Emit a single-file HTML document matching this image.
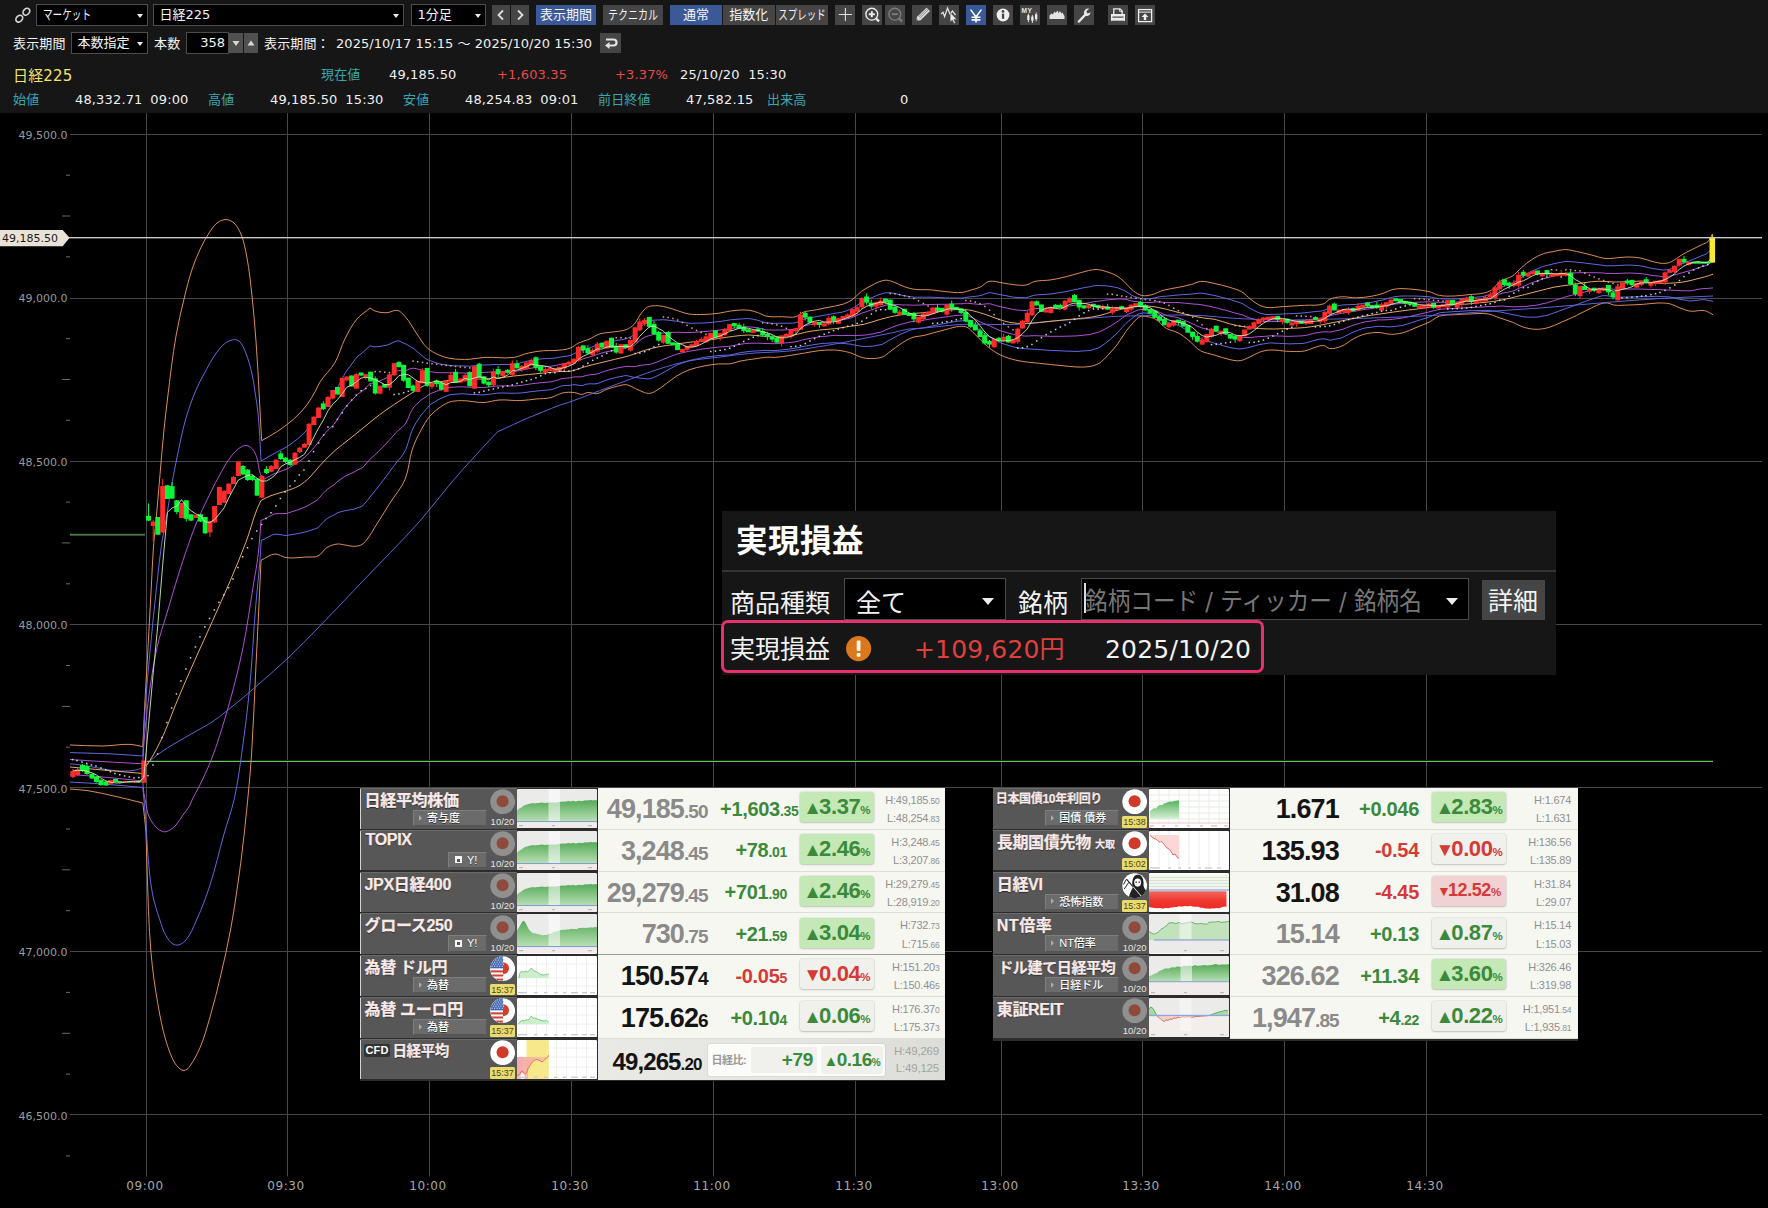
<!DOCTYPE html><html lang="ja"><head><meta charset="utf-8"><title>日経225 チャート</title><style>
*{box-sizing:border-box}
html,body{margin:0;padding:0}
body{width:1768px;height:1208px;background:#000;overflow:hidden;position:relative;font-family:"DejaVu Sans","Noto Sans CJK JP",sans-serif;color:#fff}
.abs{position:absolute}
#hdr{position:absolute;left:0;top:0;width:1768px;height:113px;background:#161616}
#hdr .t{position:absolute;font-size:13px;line-height:16px;white-space:nowrap;color:#f0f0f0;letter-spacing:.15px}
#hdr .t.ws{word-spacing:3.5px}
#hdr .dd{position:absolute;height:22px;background:#000;border:1px solid #4c4c4c;font-size:13px;line-height:20.5px;padding-left:5.5px;color:#f4f4f4;white-space:nowrap}
#hdr .dd.na:after{display:none}
.kx{position:absolute;left:50%;top:0;white-space:nowrap;transform:translateX(-50%) scaleX(var(--s))}
.kl{display:inline-block;white-space:nowrap;transform-origin:left center;transform:scaleX(var(--s))}
#hdr .dd:after{content:"";position:absolute;right:4.5px;top:8.5px;border:3.7px solid transparent;border-top:4.6px solid #ececec;border-bottom:0}
#hdr .b{position:absolute;top:5px;height:20px;background:#454545;font-size:13px;line-height:20.5px;text-align:center;color:#f4f4f4;white-space:nowrap;overflow:hidden}
#hdr .b.on{background:#3b5998}
#hdr .ib{position:absolute;top:5px;width:20px;height:20px;background:#454545}
#hdr .ib.on{background:#3b5998}
.teal{color:#3aa6b0!important}
.red{color:#e84a4a!important}
svg text.yl{font-family:"DejaVu Sans",sans-serif;font-size:11px;fill:#9a9a9a}
svg text.xl{font-family:"DejaVu Sans",sans-serif;font-size:12px;fill:#a8a8a8;letter-spacing:.55px}
svg text.pl{font-family:"DejaVu Sans",sans-serif;font-size:11px;fill:#1a1a1a}
#pl{position:absolute;left:722px;top:511px;width:834px;height:164px;background:#161616}
#pl .ttl{position:absolute;left:14px;top:7.5px;font-size:31.5px;line-height:44px;font-weight:700;color:#fff;font-family:"Liberation Sans","Noto Sans CJK JP",sans-serif;letter-spacing:.5px}
#pl .sep{position:absolute;left:0;top:58.5px;width:834px;height:2px;background:#333}
#pl .lb{position:absolute;font-size:25px;line-height:34px;color:#f2f2f2;white-space:nowrap;font-family:"DejaVu Sans","Noto Sans CJK JP",sans-serif}
#pl .box{position:absolute;background:#000;border:1.5px solid #4a4a4a}
.tbl{position:absolute;width:585px;background:#2c2c2c;font-family:"Liberation Sans","Noto Sans CJK JP",sans-serif}
.row{position:absolute;left:0;width:585px;height:41.8px}
.dk{position:absolute;left:0;top:0;width:157px;height:40.6px;background:#565756;box-shadow:inset 0 1px 0 #6a6b6a,inset 1px 0 0 #d4d4d4}
.nm{position:absolute;left:4.5px;top:2px;font-size:16px;line-height:22px;font-weight:700;color:#f9e9e9;-webkit-text-stroke:.25px #f9e9e9;white-space:nowrap;letter-spacing:-.3px;text-shadow:0 1px 1px rgba(0,0,0,.5)}
.sb{position:absolute;left:53px;top:22.1px;width:74px;height:16.1px;background:#6b6b6b;border:1px solid #7e7e7e;border-bottom-color:#555;border-right-color:#5a5a5a;font-size:11px;line-height:14.5px;font-weight:500;color:#fff;white-space:nowrap;padding-left:13px;text-shadow:0 1px 0 #333}
.sb:before{content:"";position:absolute;left:5px;top:3.8px;border:3px solid transparent;border-left:3.5px solid #aaa;border-right:0}
.sb.y{left:88px;width:38.5px;padding-left:18px;font-size:11px}
.sb.y:before{left:6px;top:3.6px;width:7px;height:7px;border:0;background:#f4f4f4}
.sb.y:after{content:"";position:absolute;left:8.3px;top:5.9px;width:3px;height:3px;background:#555}
.dt{position:absolute;left:129px;top:28.2px;width:27px;font-size:9.5px;line-height:12px;color:#e6e6e6;text-align:center;letter-spacing:0}
.tm{position:absolute;left:129.8px;top:28.4px;width:25.2px;height:11.8px;background:#eadb70;border-radius:1.5px;font-size:9px;line-height:12px;color:#4c4712;text-align:center;letter-spacing:0}
.fl{position:absolute;left:129.7px;top:1.3px;width:25.4px;height:25.4px}
.mc{position:absolute;left:157px;top:1px;width:80px;height:39.3px;background:#fff;border-radius:1.5px;overflow:hidden}
.tbl.r{width:586.2px}.tbl.r .row{width:586.2px}.tbl.r .wp{width:348.2px}.tbl.r .pr{margin-right:2.3px}.tbl.r .ch{margin-right:1.4px}.tbl.r .hl{margin-right:1.7px}
.wp{position:absolute;left:238px;top:0;width:347px;height:41.8px;background:#f7f7f2;border-bottom:1px solid #deded8}
.pr{position:absolute;right:237.3px;top:3px;font-weight:700;font-size:27px;line-height:36px;letter-spacing:-.9px;color:#8a8a8a;white-space:nowrap}
.pr small{font-size:19px}
.pr.k{color:#141414}
.ch{position:absolute;right:158px;top:5.7px;font-weight:700;font-size:20px;line-height:30px;letter-spacing:-.3px;white-space:nowrap}
.ch small{font-size:14px}
.g{color:#3b8a3b}.r{color:#d63a36}
.pc{position:absolute;left:201.7px;top:4.2px;width:74.5px;height:30px;border-radius:3px;background:#c4e8b6;box-shadow:0 0 0 1px rgba(0,0,0,.05),0 1px 2px rgba(0,0,0,.18);font-weight:700;font-size:22px;line-height:29px;text-align:center;white-space:nowrap;letter-spacing:-.4px}
.pc.l{background:#f0f0ec}
.pc.p{background:#f0d2d2;font-size:18px}.pc.p i{font-size:14px}
.pc small{font-size:11.5px;letter-spacing:0}
.pc i{font-style:normal;font-size:19px;position:relative;top:0px;margin-right:-1px;letter-spacing:-2px}
.hl{position:absolute;right:5.5px;font-size:11px;line-height:13px;color:#909090;white-space:nowrap;letter-spacing:-.2px}
.hl small{font-size:8.5px}
.hl.h{top:6px}.hl.lo{top:24.3px}
</style></head><body><svg class="abs" style="left:0;top:0" width="1768" height="1208" viewBox="0 0 1768 1208"><rect x="70" y="134" width="1692" height="1" fill="#46464b"/>
<rect x="70" y="298" width="1692" height="1" fill="#46464b"/>
<rect x="70" y="461" width="1692" height="1" fill="#46464b"/>
<rect x="70" y="624" width="1692" height="1" fill="#46464b"/>
<rect x="70" y="787" width="1692" height="1" fill="#46464b"/>
<rect x="70" y="951" width="1692" height="1" fill="#46464b"/>
<rect x="70" y="1114" width="1692" height="1" fill="#46464b"/>
<rect x="146" y="113" width="1" height="1063.5" fill="#46464b"/>
<rect x="287" y="113" width="1" height="1063.5" fill="#46464b"/>
<rect x="429" y="113" width="1" height="1063.5" fill="#46464b"/>
<rect x="571" y="113" width="1" height="1063.5" fill="#46464b"/>
<rect x="713" y="113" width="1" height="1063.5" fill="#46464b"/>
<rect x="855" y="113" width="1" height="1063.5" fill="#46464b"/>
<rect x="1001" y="113" width="1" height="1063.5" fill="#46464b"/>
<rect x="1142" y="113" width="1" height="1063.5" fill="#46464b"/>
<rect x="1284" y="113" width="1" height="1063.5" fill="#46464b"/>
<rect x="1426" y="113" width="1" height="1063.5" fill="#46464b"/>
<rect x="66" y="174.7" width="4" height="1" fill="#6a6a6a"/>
<rect x="62" y="215.5" width="8" height="1" fill="#6a6a6a"/>
<rect x="66" y="256.4" width="4" height="1" fill="#6a6a6a"/>
<rect x="66" y="338.1" width="4" height="1" fill="#6a6a6a"/>
<rect x="62" y="379.0" width="8" height="1" fill="#6a6a6a"/>
<rect x="66" y="419.8" width="4" height="1" fill="#6a6a6a"/>
<rect x="66" y="501.6" width="4" height="1" fill="#6a6a6a"/>
<rect x="62" y="542.4" width="8" height="1" fill="#6a6a6a"/>
<rect x="66" y="583.3" width="4" height="1" fill="#6a6a6a"/>
<rect x="66" y="665.0" width="4" height="1" fill="#6a6a6a"/>
<rect x="62" y="705.9" width="8" height="1" fill="#6a6a6a"/>
<rect x="66" y="746.7" width="4" height="1" fill="#6a6a6a"/>
<rect x="66" y="828.5" width="4" height="1" fill="#6a6a6a"/>
<rect x="62" y="869.3" width="8" height="1" fill="#6a6a6a"/>
<rect x="66" y="910.2" width="4" height="1" fill="#6a6a6a"/>
<rect x="66" y="991.9" width="4" height="1" fill="#6a6a6a"/>
<rect x="62" y="1032.8" width="8" height="1" fill="#6a6a6a"/>
<rect x="66" y="1073.6" width="4" height="1" fill="#6a6a6a"/>
<rect x="66" y="1155.4" width="4" height="1" fill="#6a6a6a"/>
<text x="67.5" y="138.9" text-anchor="end" class="yl">49,500.0</text>
<text x="67.5" y="302.4" text-anchor="end" class="yl">49,000.0</text>
<text x="67.5" y="465.8" text-anchor="end" class="yl">48,500.0</text>
<text x="67.5" y="629.2" text-anchor="end" class="yl">48,000.0</text>
<text x="67.5" y="792.7" text-anchor="end" class="yl">47,500.0</text>
<text x="67.5" y="956.1" text-anchor="end" class="yl">47,000.0</text>
<text x="67.5" y="1119.6" text-anchor="end" class="yl">46,500.0</text>
<text x="145.0" y="1190" text-anchor="middle" class="xl">09:00</text>
<text x="286.0" y="1190" text-anchor="middle" class="xl">09:30</text>
<text x="428.0" y="1190" text-anchor="middle" class="xl">10:00</text>
<text x="570.0" y="1190" text-anchor="middle" class="xl">10:30</text>
<text x="712.0" y="1190" text-anchor="middle" class="xl">11:00</text>
<text x="854.0" y="1190" text-anchor="middle" class="xl">11:30</text>
<text x="1000.0" y="1190" text-anchor="middle" class="xl">13:00</text>
<text x="1141.0" y="1190" text-anchor="middle" class="xl">13:30</text>
<text x="1283.0" y="1190" text-anchor="middle" class="xl">14:00</text>
<text x="1425.0" y="1190" text-anchor="middle" class="xl">14:30</text>
<rect x="147" y="760" width="1566" height="1" fill="#0b3409"/><rect x="147" y="761" width="1566" height="1" fill="#78bb70"/>
<rect x="70" y="533.4" width="75" height="1" fill="#0b3409"/><rect x="70" y="534.4" width="75" height="1" fill="#78bb70"/>
<path d="M70.0 789.0C76.0 789.6 82.0 789.8 88.0 790.7C96.7 792.0 105.4 794.1 114.0 796.0C118.2 796.9 122.5 798.0 126.7 799.0C132.1 800.3 137.4 801.7 142.8 803.0C143.8 812.0 145.2 821.0 145.8 830.0C146.7 842.6 146.5 855.3 147.0 868.0C148.1 896.2 148.5 924.5 151.0 952.7C152.5 969.7 154.8 986.7 157.8 1003.6C160.0 1016.2 162.3 1028.8 166.0 1041.0C168.3 1048.5 170.7 1056.2 174.8 1063.0C175.9 1064.9 177.3 1066.6 179.0 1068.0C180.2 1069.0 181.5 1070.2 183.0 1070.4C184.4 1070.6 185.8 1070.0 187.0 1069.3C188.3 1068.5 189.1 1067.2 190.0 1066.0C194.0 1060.3 197.2 1054.1 200.0 1047.7C204.3 1037.8 207.0 1027.3 210.0 1017.0C214.0 1003.4 217.3 989.7 220.6 976.0C224.3 960.4 227.8 944.8 230.7 929.0C234.8 906.4 238.0 883.7 241.0 861.0C243.6 840.7 245.7 820.4 247.7 800.0C249.2 785.0 250.5 770.0 251.5 755.0C253.4 726.4 254.4 697.7 255.8 669.0C256.9 647.5 258.0 626.1 259.0 604.6C259.7 589.9 260.3 575.1 261.0 560.4C265.7 558.3 269.9 554.3 275.0 554.0C278.9 553.8 282.2 557.0 286.0 557.6C292.6 558.6 299.3 557.4 306.0 557.0C310.0 556.8 314.3 557.6 318.0 556.0C321.8 554.3 323.5 549.6 327.0 547.5C330.2 545.6 333.9 544.3 337.6 544.0C340.1 543.8 342.5 544.7 345.0 545.0C348.3 545.4 351.6 546.5 355.0 546.3C357.4 546.2 359.9 545.7 362.0 544.5C364.5 543.0 366.2 540.3 368.0 538.0C370.7 534.6 372.7 530.7 375.0 527.0C380.0 519.0 385.0 511.0 390.0 503.0C395.0 495.1 401.4 488.0 405.0 479.5C409.1 469.9 409.0 458.9 412.4 449.0C414.7 442.3 417.9 435.8 421.3 429.6C423.9 424.9 426.5 420.1 430.0 416.0C432.6 412.9 435.7 410.3 439.0 408.0C442.3 405.6 445.7 403.3 449.6 402.0C453.4 400.8 457.5 400.7 461.5 400.6C469.0 400.5 476.5 402.8 484.0 402.5C489.1 402.3 493.9 400.3 499.0 400.0C506.3 399.5 513.7 400.9 521.0 400.6C526.0 400.4 531.0 399.5 536.0 399.0C541.0 398.5 546.1 398.8 551.0 397.6C552.4 397.3 553.7 396.5 555.0 396.0C557.4 395.0 559.7 393.6 562.3 393.0C566.2 392.1 570.3 392.1 574.3 392.5C576.8 392.8 579.2 394.5 581.7 394.4C583.8 394.3 585.6 392.7 587.7 392.5C590.7 392.2 593.6 394.1 596.6 393.7C600.3 393.2 603.4 390.5 607.0 389.2C610.4 388.0 613.9 387.0 617.5 386.2C620.4 385.5 623.4 384.4 626.4 384.7C629.6 385.1 632.4 387.2 635.4 388.5C638.4 389.8 641.2 391.5 644.3 392.5C646.0 393.0 647.8 393.6 649.5 393.4C651.9 393.1 654.1 391.9 656.2 390.7C660.0 388.7 663.2 385.8 666.7 383.3C670.2 380.8 673.4 378.0 677.0 375.8C680.8 373.5 684.8 371.5 689.0 369.9C693.8 368.1 698.9 367.0 704.0 366.0C708.9 365.0 713.8 364.3 718.8 363.9C722.3 363.7 725.8 364.3 729.3 363.9C733.3 363.4 737.1 361.7 741.0 360.9C746.0 359.9 751.0 359.4 756.0 358.7C759.5 358.2 762.9 357.4 766.4 357.2C769.3 357.0 772.1 357.5 775.0 357.4C780.0 357.1 784.9 356.2 789.8 355.5C794.8 354.8 799.7 353.8 804.7 353.0C809.7 352.2 814.6 351.1 819.6 350.6C824.5 350.1 829.5 349.7 834.5 350.0C839.5 350.3 844.5 351.2 849.4 352.5C854.0 353.8 858.1 356.6 862.8 357.7C866.2 358.5 869.8 358.7 873.3 358.5C876.3 358.4 879.4 358.1 882.2 357.0C885.5 355.7 888.1 353.1 891.0 351.0C894.0 348.8 896.9 346.3 900.0 344.3C903.8 341.8 907.7 339.2 912.0 337.6C915.8 336.2 920.0 336.3 924.0 335.4C927.0 334.7 929.9 333.8 932.9 333.0C937.4 331.8 941.8 330.5 946.3 329.4C950.7 328.3 955.1 326.7 959.7 326.4C962.1 326.3 964.8 326.2 967.0 327.2C969.4 328.3 971.1 330.6 973.0 332.4C975.6 334.8 978.0 337.4 980.6 339.8C983.4 342.5 986.0 345.3 989.0 347.7C992.7 350.6 996.7 353.2 1000.9 355.2C1006.0 357.6 1011.5 359.2 1017.0 360.4C1024.4 362.1 1032.1 362.5 1039.6 363.4C1047.1 364.3 1054.5 364.9 1062.0 365.6C1067.0 366.1 1071.9 366.9 1076.9 367.0C1081.3 367.1 1085.7 367.2 1090.0 366.4C1093.1 365.8 1096.3 365.0 1099.0 363.4C1102.5 361.3 1105.2 358.1 1108.0 355.2C1111.2 351.9 1114.2 348.4 1117.0 344.8C1120.3 340.5 1122.8 335.6 1126.0 331.3C1128.3 328.2 1130.8 325.2 1133.5 322.4C1135.5 320.3 1137.3 317.8 1140.0 316.7C1141.7 316.0 1143.6 316.2 1145.4 316.4C1149.0 316.8 1152.7 317.7 1155.9 319.4C1159.9 321.6 1162.4 326.1 1166.3 328.4C1169.9 330.5 1174.3 330.8 1178.0 332.8C1181.8 334.8 1185.2 337.6 1188.6 340.3C1192.7 343.6 1195.9 348.1 1200.5 350.7C1204.9 353.2 1210.2 353.7 1215.0 355.2C1219.9 356.7 1224.8 358.6 1229.8 359.6C1233.2 360.3 1236.7 361.1 1240.2 360.7C1243.3 360.3 1246.1 358.6 1249.0 357.4C1252.6 355.8 1255.9 353.5 1259.6 352.2C1262.9 351.0 1266.5 350.2 1270.0 350.0C1276.5 349.6 1282.9 351.3 1289.4 351.4C1294.4 351.5 1299.4 351.9 1304.3 351.0C1308.4 350.3 1312.2 348.1 1316.2 347.0C1318.7 346.3 1321.2 345.2 1323.7 345.5C1325.9 345.8 1327.4 348.2 1329.6 348.5C1333.6 349.1 1337.7 347.7 1341.5 346.2C1345.9 344.5 1349.3 341.0 1353.5 338.8C1356.8 337.1 1360.3 335.3 1363.9 334.3C1368.7 333.0 1373.8 332.4 1378.8 332.5C1382.8 332.6 1386.7 334.2 1390.7 334.3C1394.7 334.4 1398.8 333.8 1402.7 332.8C1407.3 331.6 1411.6 329.4 1416.0 327.6C1420.4 325.8 1424.8 324.3 1429.0 322.2C1432.6 320.4 1435.6 317.4 1439.4 316.2C1444.2 314.7 1449.3 315.1 1454.3 314.7C1459.2 314.3 1464.1 314.1 1469.0 314.0C1475.5 313.8 1482.1 312.9 1488.5 314.0C1492.2 314.6 1495.5 316.5 1499.0 317.7C1503.5 319.2 1508.0 320.5 1512.4 322.2C1516.4 323.8 1520.1 326.2 1524.3 327.4C1528.1 328.5 1532.0 329.2 1536.0 329.3C1539.6 329.4 1543.2 328.9 1546.7 328.0C1551.9 326.7 1556.7 324.3 1561.6 322.2C1566.6 320.1 1571.5 317.8 1576.4 315.5C1581.4 313.1 1586.3 310.3 1591.3 308.0C1594.8 306.4 1598.1 304.4 1601.8 303.5C1603.7 303.0 1605.7 302.8 1607.7 303.0C1609.8 303.2 1611.6 304.7 1613.7 305.0C1618.6 305.8 1623.6 305.1 1628.6 305.0C1633.6 304.9 1638.5 304.6 1643.5 304.3C1648.3 304.0 1653.1 303.1 1658.0 303.0C1661.8 302.9 1665.8 302.9 1669.5 303.7C1673.5 304.6 1677.1 306.9 1681.0 308.3C1684.1 309.4 1687.1 310.8 1690.4 311.2C1695.0 311.8 1699.8 309.7 1704.3 310.6C1707.4 311.2 1710.1 313.3 1713.0 314.7" fill="none" stroke="#e8935c" stroke-width="0.95"/>
<path d="M70.0 745.0C81.0 745.3 92.0 746.1 103.0 746.0C112.3 745.9 121.7 743.8 131.0 744.4C135.0 744.7 138.9 745.9 142.8 746.6C143.5 731.1 144.2 715.5 145.0 700.0C145.9 682.5 147.0 665.1 148.0 647.6C149.2 626.1 150.3 604.5 151.5 583.0C152.2 570.3 152.6 557.6 153.6 545.0C154.4 534.0 155.8 523.0 156.8 512.0C157.9 499.5 158.9 487.0 160.0 474.5C161.2 460.3 162.4 446.2 163.8 432.0C164.9 420.7 166.2 409.3 167.6 398.0C170.2 377.3 172.4 356.5 176.0 336.0C178.2 323.6 181.0 311.3 184.0 299.0C186.5 288.6 189.0 278.1 192.5 268.0C194.8 261.2 197.6 254.5 200.7 248.0C203.2 242.8 205.8 237.7 209.0 233.0C211.4 229.5 213.7 225.7 217.0 223.0C218.5 221.8 220.2 220.9 222.0 220.3C223.3 219.8 224.6 219.5 226.0 219.5C227.4 219.5 228.7 220.0 230.0 220.5C231.4 221.1 232.9 221.9 234.0 223.0C236.8 225.8 238.9 229.4 240.5 233.0C244.0 240.9 245.4 249.5 247.0 258.0C249.4 270.5 250.6 283.3 252.0 296.0C253.6 311.0 254.9 326.0 256.0 341.0C257.5 360.6 258.4 380.3 259.5 400.0C259.9 406.7 260.1 413.3 260.5 420.0C260.9 426.9 261.3 433.8 261.7 440.7C266.6 437.8 271.7 435.1 276.5 432.0C280.3 429.5 284.1 426.9 287.7 424.0C291.6 420.9 295.5 417.6 299.0 414.0C302.1 410.9 304.9 407.5 307.5 404.0C310.7 399.6 313.4 394.8 316.0 390.0C317.4 387.4 318.4 384.5 320.0 382.0C324.3 375.1 330.9 369.7 335.0 362.6C339.3 355.1 341.1 346.4 345.0 338.7C348.5 331.9 352.0 324.8 357.0 319.0C360.7 314.7 365.7 311.7 370.0 308.0C371.7 309.0 373.2 310.4 375.0 311.0C378.8 312.3 383.0 312.9 387.0 312.7C390.6 312.6 394.0 309.6 397.5 310.4C400.6 311.1 402.8 314.1 405.0 316.4C409.8 321.6 412.9 328.2 417.0 334.0C420.3 338.6 422.8 343.9 427.0 347.7C430.4 350.9 434.7 353.1 439.0 355.0C442.8 356.7 446.9 357.8 451.0 358.5C456.9 359.5 463.0 359.5 469.0 359.3C474.0 359.1 479.0 357.7 484.0 357.4C493.9 356.8 503.9 358.8 513.7 357.4C518.8 356.7 523.5 354.1 528.6 353.0C533.5 351.9 538.5 351.1 543.5 350.7C547.3 350.4 551.2 350.8 555.0 350.5C560.0 350.1 565.2 349.9 570.0 348.2C573.2 347.1 575.6 344.4 578.7 343.0C582.0 341.4 585.6 340.7 589.0 339.3C592.6 337.7 595.8 335.2 599.6 334.0C604.4 332.5 609.5 332.6 614.5 331.8C618.5 331.1 622.7 331.1 626.4 329.6C629.2 328.4 631.9 326.6 634.0 324.4C637.1 321.2 638.5 316.7 641.3 313.2C643.1 311.0 644.8 308.6 647.3 307.2C649.1 306.2 651.2 306.0 653.2 305.8C656.7 305.5 660.2 305.9 663.7 306.5C667.2 307.1 670.6 308.5 674.0 309.5C679.0 311.0 683.8 313.2 689.0 314.0C693.9 314.8 699.0 314.5 704.0 314.4C708.9 314.3 713.9 313.9 718.8 313.2C722.8 312.7 726.7 311.5 730.7 311.0C736.6 310.3 742.7 309.6 748.6 310.2C751.6 310.5 754.6 311.5 757.5 312.5C760.5 313.5 763.3 315.5 766.4 316.2C771.6 317.3 777.1 316.6 782.4 316.7C786.9 316.8 791.5 317.9 795.8 316.7C798.6 315.9 800.5 313.3 803.2 312.3C807.5 310.7 812.1 310.6 816.6 309.7C821.1 308.8 825.5 307.9 830.0 307.0C834.5 306.0 839.2 305.5 843.5 304.0C846.6 302.9 849.7 301.5 852.4 299.6C855.7 297.3 858.1 293.8 861.3 291.4C864.1 289.3 867.3 287.8 870.3 286.2C873.2 284.6 876.1 282.8 879.2 281.7C881.6 280.9 884.2 280.1 886.7 280.2C889.2 280.3 891.6 281.4 894.0 282.2C897.1 283.3 899.9 285.1 903.0 286.2C906.4 287.4 909.9 288.6 913.5 289.2C919.4 290.1 925.4 289.4 931.4 289.9C936.4 290.3 941.3 291.3 946.3 291.7C951.3 292.1 956.2 293.0 961.2 292.5C964.8 292.2 968.2 290.9 971.6 289.9C974.6 289.0 977.8 288.3 980.6 286.9C983.6 285.4 985.7 282.2 989.0 281.4C993.4 280.4 997.9 282.3 1002.4 282.9C1006.4 283.4 1010.3 284.4 1014.3 284.8C1018.2 285.1 1022.2 285.7 1026.0 285.0C1029.2 284.4 1031.9 282.2 1035.0 281.4C1039.9 280.2 1045.0 280.7 1050.0 280.0C1055.0 279.3 1060.0 278.2 1065.0 277.0C1070.5 275.7 1075.8 273.8 1081.3 272.5C1086.2 271.3 1091.0 269.5 1096.0 269.5C1099.6 269.5 1103.2 270.6 1106.7 271.7C1110.3 272.8 1113.8 274.1 1117.0 276.0C1119.8 277.6 1122.1 279.9 1124.5 282.0C1127.7 284.8 1130.1 288.5 1133.5 291.0C1136.2 293.0 1139.1 295.0 1142.4 295.6C1145.3 296.2 1148.4 295.5 1151.3 294.8C1155.5 293.9 1159.2 291.5 1163.3 290.3C1168.1 288.9 1173.1 288.4 1178.0 287.4C1182.5 286.5 1187.1 285.6 1191.6 284.4C1194.6 283.6 1197.4 281.7 1200.5 281.4C1205.4 281.0 1210.2 282.6 1215.0 283.6C1220.0 284.6 1224.9 285.9 1229.8 287.4C1233.8 288.7 1238.0 289.7 1241.7 291.8C1245.1 293.8 1247.6 297.0 1250.7 299.3C1253.6 301.4 1256.4 303.8 1259.6 305.3C1261.9 306.4 1264.4 307.2 1267.0 307.5C1272.0 308.1 1277.0 307.0 1282.0 306.7C1289.4 306.3 1296.9 305.8 1304.3 305.3C1310.8 304.8 1317.6 306.1 1323.7 303.8C1326.0 302.9 1327.4 300.3 1329.6 299.3C1333.3 297.6 1337.5 297.1 1341.5 296.8C1346.5 296.5 1351.4 297.9 1356.4 297.8C1361.4 297.7 1366.4 297.2 1371.3 296.3C1375.3 295.6 1379.3 294.6 1383.2 293.3C1386.3 292.3 1389.1 290.4 1392.2 289.6C1395.1 288.9 1398.0 288.7 1401.0 288.6C1406.0 288.5 1411.0 289.1 1416.0 289.6C1420.4 290.1 1424.8 290.5 1429.0 291.6C1432.6 292.5 1435.8 294.7 1439.4 295.4C1444.3 296.4 1449.3 296.1 1454.3 296.0C1459.2 295.9 1464.1 295.1 1469.0 294.6C1474.0 294.1 1479.1 294.2 1484.0 293.0C1486.6 292.4 1489.2 291.5 1491.5 290.0C1495.0 287.7 1497.0 283.5 1500.5 281.2C1504.1 278.8 1508.8 278.4 1512.4 276.0C1515.8 273.8 1518.2 270.4 1521.3 267.8C1524.7 264.9 1528.0 262.0 1531.7 259.6C1535.5 257.2 1539.5 255.1 1543.7 253.6C1547.0 252.4 1550.5 252.0 1554.0 251.4C1557.7 250.7 1561.5 249.6 1565.3 249.6C1569.0 249.6 1572.7 250.7 1576.4 251.4C1581.4 252.4 1586.3 253.8 1591.3 255.0C1596.2 256.2 1601.0 258.1 1606.0 258.5C1611.0 258.9 1616.0 257.7 1621.0 257.4C1623.7 257.2 1626.3 257.0 1629.0 257.0C1632.9 257.1 1636.8 257.3 1640.6 258.0C1644.5 258.7 1648.1 260.5 1652.0 261.4C1655.5 262.2 1659.0 263.3 1662.6 263.4C1664.9 263.5 1667.3 263.3 1669.5 262.6C1672.1 261.7 1674.2 259.9 1676.5 258.5C1678.8 257.0 1681.0 255.3 1683.4 253.9C1686.4 252.2 1689.6 250.8 1692.7 249.2C1695.8 247.7 1698.9 246.1 1702.0 244.6C1703.9 243.6 1706.2 243.2 1707.8 241.7C1710.0 239.7 1710.9 236.7 1712.4 234.2" fill="none" stroke="#e8935c" stroke-width="0.95"/>
<path d="M70.0 752.6C84.7 753.1 99.3 753.3 114.0 754.0C123.6 754.5 133.2 755.3 142.8 756.0C143.5 740.7 144.0 725.3 145.0 710.0C146.4 689.2 148.4 668.4 150.4 647.6C152.4 626.1 154.6 604.5 157.0 583.0C158.6 568.7 160.0 554.3 162.2 540.0C163.4 532.3 165.3 524.7 166.6 517.0C168.2 507.6 169.4 498.0 171.0 488.6C172.7 479.0 174.5 469.5 176.5 460.0C179.4 446.0 182.0 431.8 186.0 418.0C188.8 408.5 192.1 399.1 196.0 390.0C198.3 384.5 201.1 379.2 204.0 374.0C208.1 366.5 211.9 358.8 217.0 352.0C219.5 348.7 222.1 345.3 225.5 343.0C228.2 341.2 231.4 339.7 234.7 339.6C236.2 339.6 237.8 340.1 239.0 341.0C242.3 343.7 243.7 348.1 245.4 352.0C248.4 359.0 250.3 366.5 252.0 374.0C253.4 379.9 254.1 386.0 255.0 392.0C256.1 399.0 257.3 406.0 258.0 413.0C259.6 428.7 260.0 444.6 261.0 460.4C261.3 460.4 261.7 460.5 262.0 460.4C263.5 460.1 264.7 458.9 266.0 458.2C267.3 457.4 268.7 456.7 270.0 455.9C271.3 455.1 272.6 454.4 274.0 453.6C275.3 452.9 276.7 452.3 278.0 451.6C279.3 450.9 280.7 450.2 282.0 449.4C283.3 448.7 284.7 448.1 286.0 447.3C287.4 446.4 288.7 445.5 290.0 444.6C291.4 443.6 292.7 442.6 294.0 441.6C295.3 440.6 296.7 439.7 298.0 438.6C299.4 437.5 300.7 436.2 302.0 434.9C303.4 433.6 304.7 432.4 306.0 431.0C307.4 429.4 308.7 427.7 310.0 426.0C311.4 424.2 312.7 422.3 314.0 420.5C315.4 418.5 316.7 416.4 318.0 414.3C319.3 412.3 320.6 410.2 322.0 408.2C323.2 406.5 324.6 404.9 326.0 403.3C327.3 401.7 328.7 400.2 330.0 398.6C331.3 397.1 332.8 395.8 334.0 394.1C335.6 391.9 336.7 389.3 338.0 386.9C339.4 384.3 340.6 381.6 342.0 379.0C343.3 376.6 344.5 374.1 346.0 371.7C347.2 369.9 348.7 368.1 350.0 366.4C351.3 364.6 352.6 362.7 354.0 361.0C355.3 359.3 356.5 357.5 358.0 356.0C359.2 354.9 360.7 354.1 362.0 353.1C363.4 351.9 364.7 350.7 366.0 349.5C367.3 348.3 368.7 347.0 370.0 345.8C371.3 346.1 372.6 346.6 374.0 346.8C375.3 346.9 376.7 346.7 378.0 346.6C379.3 346.4 380.7 346.2 382.0 346.0C383.3 345.8 384.7 345.7 386.0 345.4C387.4 345.0 388.7 344.4 390.0 343.9C391.4 343.3 392.6 342.6 394.0 342.1C395.3 341.6 396.6 340.7 398.0 340.7C399.4 340.8 400.7 341.8 402.0 342.4C403.3 342.9 404.7 343.5 406.0 344.1C407.4 344.8 408.7 345.5 410.0 346.3C411.4 347.1 412.7 348.0 414.0 348.9C415.4 350.0 416.7 351.2 418.0 352.3C419.3 353.4 420.7 354.4 422.0 355.5C423.4 356.6 424.5 358.0 426.0 359.0C427.2 359.7 428.7 360.1 430.0 360.6C431.3 361.1 432.7 361.6 434.0 362.0C435.3 362.5 436.6 363.1 438.0 363.5C439.3 363.8 440.7 364.0 442.0 364.3C443.3 364.5 444.7 364.7 446.0 364.9C447.3 365.1 448.7 365.3 450.0 365.5C451.3 365.6 452.7 365.7 454.0 365.8C455.3 365.8 456.7 365.8 458.0 365.8C459.3 365.9 460.7 365.9 462.0 365.9C463.3 366.0 464.7 366.1 466.0 366.1C467.3 366.2 468.7 366.2 470.0 366.2C471.3 366.1 472.7 366.0 474.0 365.8C475.3 365.7 476.7 365.6 478.0 365.5C479.3 365.3 480.7 365.2 482.0 365.1C483.3 365.0 484.7 364.9 486.0 364.9C487.3 364.8 488.7 364.8 490.0 364.8C491.3 364.7 492.7 364.7 494.0 364.6C495.3 364.6 496.7 364.5 498.0 364.5C499.3 364.5 500.7 364.5 502.0 364.5C503.3 364.5 504.7 364.5 506.0 364.5C507.3 364.5 508.7 364.6 510.0 364.6C511.3 364.5 512.7 364.7 514.0 364.5C515.4 364.3 516.7 363.9 518.0 363.5C519.3 363.2 520.7 362.9 522.0 362.5C523.3 362.2 524.7 361.8 526.0 361.5C527.3 361.2 528.7 360.8 530.0 360.6C531.3 360.3 532.7 360.2 534.0 360.0C535.3 359.8 536.7 359.6 538.0 359.4C539.3 359.2 540.7 359.0 542.0 358.8C543.3 358.7 544.7 358.6 546.0 358.6C547.3 358.5 548.7 358.5 550.0 358.4C551.3 358.4 552.7 358.3 554.0 358.2C555.3 358.0 556.7 357.7 558.0 357.5C559.3 357.3 560.7 356.9 562.0 356.7C563.3 356.5 564.7 356.3 566.0 356.2C567.3 356.0 568.7 356.0 570.0 355.6C571.4 355.2 572.7 354.2 574.0 353.6C575.3 353.0 576.6 352.3 578.0 351.8C579.3 351.3 580.7 351.0 582.0 350.6C583.3 350.1 584.7 349.6 586.0 349.2C587.3 348.7 588.7 348.3 590.0 347.8C591.3 347.3 592.7 346.8 594.0 346.2C595.3 345.7 596.6 345.0 598.0 344.5C599.3 344.0 600.6 343.6 602.0 343.3C603.3 342.9 604.7 342.7 606.0 342.5C607.3 342.2 608.7 342.0 610.0 341.8C611.3 341.5 612.7 341.3 614.0 341.1C615.3 340.9 616.7 340.6 618.0 340.3C619.3 340.1 620.7 339.8 622.0 339.6C623.3 339.3 624.7 339.3 626.0 338.9C627.4 338.4 628.7 337.6 630.0 337.0C631.3 336.3 632.8 335.9 634.0 335.0C635.6 333.7 636.6 331.7 638.0 330.2C639.3 328.6 640.5 327.0 642.0 325.7C643.2 324.5 644.5 323.4 646.0 322.5C647.2 321.8 648.6 321.4 650.0 321.0C651.3 320.6 652.6 320.3 654.0 320.1C655.3 320.0 656.7 320.1 658.0 320.0C659.3 319.9 660.7 319.8 662.0 319.8C663.3 319.7 664.7 319.8 666.0 319.9C667.3 320.1 668.7 320.3 670.0 320.4C671.3 320.6 672.7 320.7 674.0 320.9C675.3 321.1 676.7 321.3 678.0 321.5C679.3 321.7 680.7 321.9 682.0 322.1C683.3 322.4 684.7 322.6 686.0 322.8C687.3 323.0 688.7 323.2 690.0 323.3C691.3 323.4 692.7 323.2 694.0 323.2C695.3 323.2 696.7 323.2 698.0 323.1C699.3 323.1 700.7 323.1 702.0 323.0C703.3 323.0 704.7 322.9 706.0 322.8C707.3 322.7 708.7 322.6 710.0 322.5C711.3 322.3 712.7 322.2 714.0 322.1C715.3 322.0 716.7 321.9 718.0 321.7C719.3 321.6 720.7 321.4 722.0 321.2C723.3 321.0 724.7 320.8 726.0 320.5C727.3 320.3 728.7 320.1 730.0 319.9C731.3 319.7 732.7 319.6 734.0 319.5C735.3 319.4 736.7 319.3 738.0 319.2C739.3 319.1 740.7 319.0 742.0 318.9C743.3 318.8 744.7 318.6 746.0 318.6C747.3 318.6 748.7 318.6 750.0 318.7C751.3 318.9 752.7 319.2 754.0 319.5C755.3 319.8 756.7 320.0 758.0 320.3C759.4 320.7 760.7 321.2 762.0 321.6C763.3 322.0 764.6 322.6 766.0 322.9C767.3 323.2 768.7 323.1 770.0 323.1C771.3 323.2 772.7 323.2 774.0 323.3C775.3 323.3 776.7 323.3 778.0 323.3C779.3 323.3 780.7 323.3 782.0 323.3C783.3 323.3 784.7 323.3 786.0 323.2C787.3 323.2 788.7 323.2 790.0 323.2C791.3 323.1 792.7 323.3 794.0 323.0C795.4 322.8 796.7 322.4 798.0 321.8C799.4 321.3 800.6 320.3 802.0 319.8C803.3 319.2 804.6 318.9 806.0 318.6C807.3 318.3 808.7 318.1 810.0 317.8C811.3 317.6 812.7 317.3 814.0 317.1C815.3 316.8 816.7 316.6 818.0 316.3C819.3 316.1 820.7 315.8 822.0 315.6C823.3 315.4 824.7 315.1 826.0 314.9C827.3 314.7 828.7 314.4 830.0 314.2C831.3 314.0 832.7 313.7 834.0 313.4C835.3 313.2 836.7 313.0 838.0 312.8C839.3 312.6 840.7 312.5 842.0 312.2C843.4 311.8 844.7 311.4 846.0 311.0C847.4 310.5 848.7 310.0 850.0 309.4C851.4 308.9 852.7 308.2 854.0 307.5C855.4 306.7 856.7 305.6 858.0 304.7C859.3 303.8 860.6 302.8 862.0 302.1C863.3 301.4 864.7 300.8 866.0 300.2C867.3 299.6 868.7 299.0 870.0 298.4C871.3 297.8 872.7 297.2 874.0 296.7C875.3 296.1 876.6 295.4 878.0 294.9C879.3 294.4 880.7 294.2 882.0 293.8C883.3 293.4 884.6 292.8 886.0 292.7C887.3 292.5 888.7 292.8 890.0 292.9C891.3 293.0 892.7 293.1 894.0 293.3C895.4 293.5 896.7 293.9 898.0 294.3C899.3 294.6 900.7 295.0 902.0 295.3C903.3 295.6 904.7 295.8 906.0 296.0C907.3 296.3 908.7 296.4 910.0 296.6C911.3 296.8 912.7 297.1 914.0 297.2C915.3 297.3 916.7 297.2 918.0 297.2C919.3 297.2 920.7 297.2 922.0 297.2C923.3 297.2 924.7 297.2 926.0 297.2C927.3 297.2 928.7 297.2 930.0 297.2C931.3 297.2 932.7 297.2 934.0 297.3C935.3 297.4 936.7 297.4 938.0 297.5C939.3 297.6 940.7 297.7 942.0 297.7C943.3 297.8 944.7 297.9 946.0 298.0C947.3 298.0 948.7 298.0 950.0 298.0C951.3 298.0 952.7 298.0 954.0 298.0C955.3 298.1 956.7 298.1 958.0 298.1C959.3 298.1 960.7 298.2 962.0 298.0C963.4 297.9 964.7 297.5 966.0 297.3C967.3 297.1 968.7 297.0 970.0 296.9C971.3 296.8 972.7 296.6 974.0 296.5C975.3 296.3 976.7 296.2 978.0 296.0C979.3 295.8 980.7 295.6 982.0 295.2C983.4 294.8 984.6 294.0 986.0 293.6C987.3 293.2 988.6 292.7 990.0 292.6C991.4 292.6 992.7 293.2 994.0 293.4C995.3 293.7 996.7 294.0 998.0 294.2C999.3 294.5 1000.7 294.7 1002.0 295.0C1003.3 295.2 1004.7 295.5 1006.0 295.7C1007.3 296.0 1008.7 296.2 1010.0 296.5C1011.3 296.7 1012.7 297.0 1014.0 297.2C1015.3 297.4 1016.7 297.4 1018.0 297.5C1019.3 297.5 1020.7 297.6 1022.0 297.6C1023.3 297.7 1024.7 297.9 1026.0 297.8C1027.4 297.6 1028.7 296.9 1030.0 296.5C1031.3 296.1 1032.6 295.6 1034.0 295.3C1035.3 295.0 1036.7 294.9 1038.0 294.8C1039.3 294.7 1040.7 294.6 1042.0 294.6C1043.3 294.5 1044.7 294.4 1046.0 294.3C1047.3 294.2 1048.7 294.2 1050.0 294.1C1051.3 293.9 1052.7 293.7 1054.0 293.5C1055.3 293.3 1056.7 293.1 1058.0 292.9C1059.3 292.7 1060.7 292.5 1062.0 292.3C1063.3 292.1 1064.7 291.9 1066.0 291.6C1067.3 291.3 1068.7 291.0 1070.0 290.7C1071.3 290.5 1072.7 290.2 1074.0 289.9C1075.3 289.6 1076.7 289.3 1078.0 289.0C1079.3 288.7 1080.7 288.4 1082.0 288.1C1083.3 287.8 1084.7 287.6 1086.0 287.4C1087.3 287.1 1088.7 286.9 1090.0 286.7C1091.3 286.4 1092.6 286.0 1094.0 285.8C1095.3 285.6 1096.7 285.6 1098.0 285.5C1099.3 285.5 1100.7 285.7 1102.0 285.7C1103.3 285.8 1104.7 285.7 1106.0 285.8C1107.3 285.9 1108.7 286.2 1110.0 286.4C1111.3 286.6 1112.7 286.8 1114.0 287.0C1115.3 287.3 1116.7 287.5 1118.0 287.9C1119.4 288.3 1120.7 289.0 1122.0 289.5C1123.3 290.2 1124.7 290.7 1126.0 291.5C1127.4 292.2 1128.7 293.2 1130.0 294.0C1131.3 294.8 1132.6 295.8 1134.0 296.4C1135.3 296.9 1136.7 297.1 1138.0 297.5C1139.3 297.9 1140.6 298.7 1142.0 298.9C1143.3 299.1 1144.7 298.9 1146.0 298.8C1147.3 298.8 1148.7 298.9 1150.0 298.7C1151.3 298.6 1152.7 298.2 1154.0 298.0C1155.3 297.7 1156.7 297.4 1158.0 297.1C1159.3 296.9 1160.7 296.6 1162.0 296.4C1163.3 296.3 1164.7 296.3 1166.0 296.2C1167.3 296.1 1168.7 295.9 1170.0 295.8C1171.3 295.6 1172.7 295.5 1174.0 295.4C1175.3 295.2 1176.7 295.1 1178.0 295.0C1179.3 294.9 1180.7 294.8 1182.0 294.7C1183.3 294.6 1184.7 294.5 1186.0 294.4C1187.3 294.4 1188.7 294.3 1190.0 294.2C1191.3 294.1 1192.7 294.0 1194.0 293.8C1195.3 293.7 1196.7 293.4 1198.0 293.3C1199.3 293.2 1200.7 293.1 1202.0 293.2C1203.4 293.3 1204.7 293.7 1206.0 293.9C1207.3 294.2 1208.7 294.4 1210.0 294.6C1211.3 294.9 1212.7 295.1 1214.0 295.4C1215.3 295.6 1216.7 296.0 1218.0 296.3C1219.3 296.7 1220.7 297.0 1222.0 297.4C1223.3 297.7 1224.7 298.1 1226.0 298.4C1227.3 298.8 1228.7 299.1 1230.0 299.5C1231.3 299.9 1232.7 300.4 1234.0 300.8C1235.3 301.2 1236.7 301.7 1238.0 302.1C1239.3 302.5 1240.7 302.8 1242.0 303.4C1243.4 304.0 1244.7 305.1 1246.0 305.9C1247.3 306.7 1248.6 307.6 1250.0 308.4C1251.3 309.1 1252.7 309.8 1254.0 310.4C1255.3 311.1 1256.6 311.8 1258.0 312.3C1259.3 312.9 1260.6 313.3 1262.0 313.6C1263.3 314.0 1264.6 314.3 1266.0 314.5C1267.3 314.6 1268.7 314.5 1270.0 314.4C1271.3 314.4 1272.7 314.4 1274.0 314.3C1275.3 314.3 1276.7 314.2 1278.0 314.2C1279.3 314.1 1280.7 314.1 1282.0 314.1C1283.3 314.0 1284.7 314.0 1286.0 313.9C1287.3 313.8 1288.7 313.8 1290.0 313.7C1291.3 313.7 1292.7 313.6 1294.0 313.5C1295.3 313.4 1296.7 313.4 1298.0 313.3C1299.3 313.2 1300.7 313.1 1302.0 313.0C1303.3 313.0 1304.7 312.8 1306.0 312.7C1307.3 312.6 1308.7 312.4 1310.0 312.2C1311.3 312.1 1312.7 311.9 1314.0 311.7C1315.3 311.6 1316.7 311.4 1318.0 311.3C1319.3 311.2 1320.7 311.2 1322.0 310.9C1323.4 310.6 1324.7 310.0 1326.0 309.5C1327.4 308.9 1328.6 307.9 1330.0 307.4C1331.3 307.0 1332.7 306.9 1334.0 306.6C1335.3 306.3 1336.7 306.0 1338.0 305.8C1339.3 305.5 1340.7 305.2 1342.0 305.0C1343.3 304.9 1344.7 304.9 1346.0 304.8C1347.3 304.8 1348.7 304.7 1350.0 304.6C1351.3 304.6 1352.7 304.5 1354.0 304.5C1355.3 304.4 1356.7 304.3 1358.0 304.2C1359.3 304.0 1360.7 303.7 1362.0 303.6C1363.3 303.4 1364.7 303.2 1366.0 303.0C1367.3 302.9 1368.7 302.8 1370.0 302.6C1371.3 302.4 1372.7 302.1 1374.0 301.9C1375.3 301.6 1376.7 301.2 1378.0 300.9C1379.3 300.7 1380.7 300.5 1382.0 300.2C1383.3 299.8 1384.7 299.5 1386.0 299.1C1387.3 298.7 1388.7 298.2 1390.0 297.8C1391.3 297.4 1392.6 297.1 1394.0 296.8C1395.3 296.6 1396.7 296.5 1398.0 296.3C1399.3 296.2 1400.7 296.1 1402.0 296.0C1403.3 296.0 1404.7 296.0 1406.0 296.0C1407.3 296.0 1408.7 296.0 1410.0 296.0C1411.3 296.0 1412.7 295.9 1414.0 296.0C1415.3 296.0 1416.7 296.0 1418.0 296.1C1419.3 296.1 1420.7 296.2 1422.0 296.3C1423.3 296.4 1424.7 296.4 1426.0 296.5C1427.3 296.6 1428.7 296.7 1430.0 296.9C1431.3 297.1 1432.7 297.5 1434.0 297.7C1435.3 298.0 1436.7 298.4 1438.0 298.6C1439.3 298.8 1440.7 298.8 1442.0 298.9C1443.3 299.0 1444.7 299.0 1446.0 299.0C1447.3 299.0 1448.7 299.0 1450.0 299.0C1451.3 299.1 1452.7 299.2 1454.0 299.1C1455.3 299.1 1456.7 298.9 1458.0 298.8C1459.3 298.7 1460.7 298.6 1462.0 298.4C1463.3 298.3 1464.7 298.2 1466.0 298.1C1467.3 298.0 1468.7 297.9 1470.0 297.7C1471.3 297.6 1472.7 297.5 1474.0 297.4C1475.3 297.3 1476.7 297.2 1478.0 297.0C1479.3 296.9 1480.7 296.9 1482.0 296.7C1483.3 296.5 1484.7 296.2 1486.0 295.8C1487.4 295.5 1488.7 295.1 1490.0 294.6C1491.4 294.0 1492.7 293.1 1494.0 292.3C1495.4 291.4 1496.6 290.2 1498.0 289.3C1499.3 288.4 1500.6 287.5 1502.0 286.9C1503.3 286.3 1504.7 286.1 1506.0 285.7C1507.3 285.3 1508.7 284.9 1510.0 284.4C1511.4 283.9 1512.7 283.3 1514.0 282.6C1515.4 281.8 1516.7 280.7 1518.0 279.8C1519.3 278.9 1520.6 278.0 1522.0 277.1C1523.3 276.3 1524.7 275.5 1526.0 274.7C1527.3 273.9 1528.6 272.9 1530.0 272.2C1531.3 271.4 1532.6 270.8 1534.0 270.2C1535.3 269.6 1536.7 269.1 1538.0 268.6C1539.3 268.0 1540.6 267.3 1542.0 266.8C1543.3 266.3 1544.7 266.0 1546.0 265.6C1547.3 265.3 1548.7 265.0 1550.0 264.7C1551.3 264.3 1552.7 264.0 1554.0 263.7C1555.3 263.4 1556.7 263.2 1558.0 262.9C1559.3 262.6 1560.7 262.3 1562.0 262.1C1563.3 261.9 1564.7 261.5 1566.0 261.5C1567.3 261.4 1568.7 261.6 1570.0 261.7C1571.3 261.8 1572.7 261.8 1574.0 261.9C1575.3 262.0 1576.7 262.1 1578.0 262.3C1579.3 262.4 1580.7 262.6 1582.0 262.7C1583.3 262.9 1584.7 263.1 1586.0 263.2C1587.3 263.4 1588.7 263.5 1590.0 263.7C1591.3 263.8 1592.7 264.0 1594.0 264.2C1595.3 264.3 1596.7 264.5 1598.0 264.7C1599.3 264.9 1600.7 265.0 1602.0 265.2C1603.3 265.4 1604.6 265.8 1606.0 265.9C1607.3 266.0 1608.7 265.8 1610.0 265.8C1611.3 265.8 1612.7 265.8 1614.0 265.8C1615.3 265.7 1616.7 265.6 1618.0 265.5C1619.3 265.4 1620.7 265.4 1622.0 265.3C1623.3 265.2 1624.7 265.2 1626.0 265.1C1627.3 265.1 1628.7 265.0 1630.0 265.1C1631.3 265.1 1632.7 265.2 1634.0 265.3C1635.3 265.4 1636.7 265.4 1638.0 265.6C1639.3 265.7 1640.7 265.8 1642.0 266.1C1643.3 266.3 1644.7 266.7 1646.0 267.0C1647.3 267.3 1648.7 267.7 1650.0 268.0C1651.3 268.2 1652.7 268.5 1654.0 268.7C1655.3 268.9 1656.7 269.1 1658.0 269.3C1659.3 269.5 1660.7 269.9 1662.0 269.9C1663.3 270.0 1664.7 269.9 1666.0 269.8C1667.3 269.6 1668.7 269.6 1670.0 269.2C1671.4 268.9 1672.7 268.1 1674.0 267.6C1675.3 267.0 1676.7 266.4 1678.0 265.8C1679.3 265.1 1680.6 264.4 1682.0 263.8C1683.3 263.2 1684.7 262.7 1686.0 262.1C1687.3 261.6 1688.7 261.2 1690.0 260.6C1691.3 260.1 1692.7 259.5 1694.0 259.0C1695.3 258.4 1696.7 257.9 1698.0 257.3C1699.3 256.7 1700.7 256.2 1702.0 255.6C1703.3 255.1 1704.8 254.8 1706.0 254.1C1707.5 253.2 1708.7 251.8 1710.0 250.6C1711.0 249.7 1712.0 248.6 1713.0 247.6" fill="none" stroke="#686cea" stroke-width="0.95"/>
<path d="M70.0 782.0C81.0 782.7 92.0 783.2 103.0 784.0C116.3 785.0 129.5 786.3 142.8 787.5C143.8 798.3 145.0 809.2 145.8 820.0C146.6 830.3 146.7 840.7 147.6 851.0C148.9 865.7 149.8 880.5 152.7 895.0C154.3 903.1 156.9 911.0 159.5 918.8C161.4 924.5 162.9 930.5 166.0 935.7C167.8 938.8 169.9 942.2 173.0 944.0C174.5 944.9 176.3 945.3 178.0 945.0C180.7 944.6 183.1 942.9 185.0 941.0C190.8 935.0 193.5 926.6 197.0 919.0C202.1 908.0 206.2 896.5 210.0 885.0C215.5 868.2 219.2 851.0 224.0 834.0C227.2 822.6 231.4 811.5 234.0 800.0C238.2 781.6 240.4 762.7 243.0 744.0C245.5 726.2 247.7 708.4 249.4 690.6C252.2 662.0 253.4 633.2 255.8 604.6C257.1 589.7 258.8 574.9 260.0 560.0C260.5 553.3 260.9 546.7 261.3 540.0C261.5 540.0 261.8 540.1 262.0 540.0C263.5 539.8 264.7 538.8 266.0 538.1C267.3 537.5 268.7 536.8 270.0 536.2C271.3 535.6 272.6 534.6 274.0 534.3C275.3 534.0 276.7 534.2 278.0 534.3C279.3 534.4 280.7 534.7 282.0 534.9C283.3 535.1 284.7 535.5 286.0 535.5C287.4 535.5 288.7 535.1 290.0 534.9C291.3 534.7 292.7 534.4 294.0 534.2C295.3 534.0 296.7 533.8 298.0 533.5C299.3 533.3 300.7 533.0 302.0 532.7C303.3 532.4 304.7 532.1 306.0 531.8C307.4 531.4 308.7 531.0 310.0 530.5C311.3 530.1 312.7 529.6 314.0 529.2C315.3 528.7 316.8 528.5 318.0 527.7C319.6 526.6 320.6 524.8 322.0 523.4C323.3 522.1 324.5 520.6 326.0 519.4C327.2 518.4 328.6 517.7 330.0 516.9C331.3 516.2 332.7 515.7 334.0 515.0C335.4 514.2 336.6 513.2 338.0 512.6C339.3 512.1 340.7 511.8 342.0 511.5C343.3 511.1 344.7 510.7 346.0 510.5C347.3 510.2 348.7 510.0 350.0 509.8C351.3 509.6 352.7 509.5 354.0 509.1C355.4 508.8 356.7 508.1 358.0 507.6C359.3 507.1 360.8 507.0 362.0 506.2C363.6 505.2 364.7 503.5 366.0 502.0C367.4 500.4 368.7 498.7 370.0 497.0C371.3 495.4 372.7 493.8 374.0 492.2C375.4 490.5 376.7 488.8 378.0 487.1C379.3 485.3 380.7 483.6 382.0 481.8C383.3 480.1 384.7 478.4 386.0 476.6C387.3 474.8 388.7 473.0 390.0 471.2C391.3 469.4 392.7 467.6 394.0 465.8C395.3 464.0 396.6 462.2 398.0 460.5C399.3 458.9 400.8 457.5 402.0 455.8C403.5 453.7 404.9 451.5 406.0 449.1C407.8 445.1 408.5 440.6 410.0 436.4C411.2 432.9 412.3 429.4 414.0 426.2C415.1 424.0 416.6 422.0 418.0 419.9C419.3 417.9 420.5 415.8 422.0 413.9C423.2 412.4 424.7 411.1 426.0 409.6C427.4 408.1 428.5 406.3 430.0 404.9C431.2 403.9 432.7 403.2 434.0 402.4C435.3 401.5 436.6 400.6 438.0 399.8C439.3 399.1 440.7 398.5 442.0 397.9C443.3 397.3 444.7 396.7 446.0 396.2C447.3 395.7 448.6 395.0 450.0 394.7C451.3 394.4 452.7 394.5 454.0 394.3C455.3 394.2 456.7 394.1 458.0 394.0C459.3 393.9 460.7 393.7 462.0 393.7C463.3 393.7 464.7 393.9 466.0 394.0C467.3 394.1 468.7 394.2 470.0 394.3C471.3 394.4 472.7 394.4 474.0 394.5C475.3 394.6 476.7 394.6 478.0 394.7C479.3 394.8 480.7 394.9 482.0 394.9C483.3 394.9 484.7 394.8 486.0 394.7C487.3 394.6 488.7 394.3 490.0 394.1C491.3 394.0 492.7 393.8 494.0 393.6C495.3 393.4 496.7 393.1 498.0 393.0C499.3 392.9 500.7 393.0 502.0 393.0C503.3 393.0 504.7 393.0 506.0 393.1C507.3 393.1 508.7 393.1 510.0 393.2C511.3 393.2 512.7 393.2 514.0 393.2C515.3 393.2 516.7 393.2 518.0 393.1C519.3 393.1 520.7 393.0 522.0 392.9C523.3 392.8 524.7 392.5 526.0 392.4C527.3 392.2 528.7 392.0 530.0 391.8C531.3 391.7 532.7 391.5 534.0 391.4C535.3 391.2 536.7 391.1 538.0 390.9C539.3 390.8 540.7 390.7 542.0 390.5C543.3 390.4 544.7 390.3 546.0 390.2C547.3 390.1 548.7 390.1 550.0 389.8C551.4 389.6 552.7 389.2 554.0 388.8C555.4 388.3 556.7 387.8 558.0 387.3C559.3 386.8 560.6 386.1 562.0 385.8C563.3 385.6 564.7 385.6 566.0 385.5C567.3 385.4 568.7 385.4 570.0 385.3C571.3 385.1 572.7 384.8 574.0 384.7C575.3 384.7 576.7 385.0 578.0 385.1C579.3 385.2 580.7 385.7 582.0 385.6C583.4 385.4 584.6 384.6 586.0 384.3C587.3 384.0 588.7 383.9 590.0 383.8C591.3 383.8 592.7 384.0 594.0 383.9C595.3 383.9 596.7 383.7 598.0 383.4C599.4 383.0 600.7 382.3 602.0 381.7C603.3 381.2 604.6 380.7 606.0 380.2C607.3 379.8 608.7 379.4 610.0 379.0C611.3 378.7 612.7 378.3 614.0 378.0C615.3 377.6 616.7 377.2 618.0 377.0C619.3 376.7 620.7 376.5 622.0 376.3C623.3 376.0 624.6 375.6 626.0 375.6C627.4 375.6 628.7 376.1 630.0 376.4C631.3 376.7 632.6 377.1 634.0 377.3C635.3 377.6 636.7 377.6 638.0 377.8C639.3 377.9 640.7 378.1 642.0 378.3C643.3 378.5 644.7 378.7 646.0 378.7C647.3 378.8 648.7 379.0 650.0 378.8C651.4 378.5 652.7 377.8 654.0 377.3C655.4 376.8 656.7 376.2 658.0 375.5C659.4 374.9 660.7 374.0 662.0 373.2C663.3 372.5 664.7 371.8 666.0 371.0C667.3 370.3 668.7 369.5 670.0 368.8C671.3 368.1 672.7 367.3 674.0 366.6C675.3 365.9 676.6 365.1 678.0 364.5C679.3 364.0 680.7 363.6 682.0 363.1C683.3 362.6 684.7 362.1 686.0 361.7C687.3 361.2 688.6 360.7 690.0 360.4C691.3 360.0 692.7 359.8 694.0 359.5C695.3 359.2 696.7 359.0 698.0 358.7C699.3 358.4 700.7 358.1 702.0 357.8C703.3 357.6 704.7 357.3 706.0 357.1C707.3 356.9 708.7 356.8 710.0 356.6C711.3 356.4 712.7 356.3 714.0 356.1C715.3 355.9 716.7 355.7 718.0 355.6C719.3 355.4 720.7 355.4 722.0 355.4C723.3 355.3 724.7 355.3 726.0 355.2C727.3 355.2 728.7 355.1 730.0 355.0C731.4 354.8 732.7 354.4 734.0 354.1C735.3 353.8 736.7 353.5 738.0 353.2C739.3 352.9 740.7 352.6 742.0 352.4C743.3 352.2 744.7 352.0 746.0 351.9C747.3 351.7 748.7 351.5 750.0 351.4C751.3 351.3 752.7 351.2 754.0 351.1C755.3 351.0 756.7 350.9 758.0 350.8C759.3 350.7 760.7 350.7 762.0 350.6C763.3 350.5 764.7 350.4 766.0 350.4C767.3 350.4 768.7 350.4 770.0 350.5C771.3 350.5 772.7 350.6 774.0 350.6C775.3 350.5 776.7 350.4 778.0 350.3C779.3 350.2 780.7 350.0 782.0 349.9C783.3 349.7 784.7 349.6 786.0 349.4C787.3 349.3 788.7 349.2 790.0 349.0C791.3 348.8 792.7 348.7 794.0 348.4C795.3 348.2 796.7 348.0 798.0 347.7C799.3 347.4 800.7 347.0 802.0 346.7C803.3 346.4 804.7 346.2 806.0 346.0C807.3 345.7 808.7 345.5 810.0 345.3C811.3 345.1 812.7 344.8 814.0 344.6C815.3 344.4 816.7 344.1 818.0 344.0C819.3 343.8 820.7 343.6 822.0 343.5C823.3 343.4 824.7 343.3 826.0 343.3C827.3 343.2 828.7 343.1 830.0 343.0C831.3 342.9 832.7 342.7 834.0 342.7C835.3 342.7 836.7 342.9 838.0 343.0C839.3 343.1 840.7 343.3 842.0 343.4C843.3 343.6 844.7 343.6 846.0 343.7C847.3 343.8 848.7 343.9 850.0 344.1C851.3 344.3 852.7 344.7 854.0 344.9C855.3 345.2 856.7 345.4 858.0 345.6C859.3 345.8 860.7 346.2 862.0 346.3C863.3 346.5 864.7 346.4 866.0 346.4C867.3 346.4 868.7 346.3 870.0 346.3C871.3 346.2 872.7 346.2 874.0 346.0C875.4 345.9 876.7 345.4 878.0 345.1C879.3 344.9 880.7 344.9 882.0 344.4C883.4 343.8 884.7 342.8 886.0 342.1C887.3 341.3 888.7 340.6 890.0 339.9C891.3 339.2 892.7 338.4 894.0 337.7C895.3 336.9 896.6 336.2 898.0 335.5C899.3 334.8 900.7 334.2 902.0 333.6C903.3 333.0 904.7 332.5 906.0 332.0C907.3 331.4 908.6 330.8 910.0 330.3C911.3 329.9 912.6 329.5 914.0 329.2C915.3 329.0 916.7 328.8 918.0 328.6C919.3 328.5 920.7 328.3 922.0 328.1C923.3 327.8 924.7 327.6 926.0 327.3C927.3 327.1 928.7 326.7 930.0 326.5C931.3 326.2 932.7 325.9 934.0 325.6C935.3 325.3 936.7 325.1 938.0 324.8C939.3 324.5 940.7 324.3 942.0 324.0C943.3 323.7 944.7 323.4 946.0 323.2C947.3 322.9 948.7 322.7 950.0 322.5C951.3 322.2 952.7 322.0 954.0 321.7C955.3 321.5 956.7 321.2 958.0 321.0C959.3 320.9 960.7 320.9 962.0 320.9C963.3 320.9 964.7 320.8 966.0 321.1C967.5 321.5 968.7 322.4 970.0 323.2C971.4 324.1 972.7 325.0 974.0 326.0C975.4 327.0 976.7 328.0 978.0 329.0C979.3 330.0 980.6 331.0 982.0 331.9C983.3 332.9 984.7 333.7 986.0 334.6C987.3 335.5 988.6 336.4 990.0 337.2C991.3 338.0 992.7 338.6 994.0 339.4C995.3 340.1 996.6 340.9 998.0 341.5C999.3 342.2 1000.6 342.9 1002.0 343.4C1003.3 343.9 1004.7 344.2 1006.0 344.6C1007.3 345.0 1008.7 345.4 1010.0 345.8C1011.3 346.2 1012.7 346.6 1014.0 347.0C1015.3 347.3 1016.7 347.7 1018.0 347.9C1019.3 348.2 1020.7 348.2 1022.0 348.4C1023.3 348.5 1024.7 348.7 1026.0 348.8C1027.3 348.9 1028.7 348.9 1030.0 349.0C1031.3 349.1 1032.7 349.1 1034.0 349.2C1035.3 349.3 1036.7 349.4 1038.0 349.5C1039.3 349.6 1040.7 349.7 1042.0 349.8C1043.3 349.9 1044.7 350.0 1046.0 350.1C1047.3 350.2 1048.7 350.3 1050.0 350.4C1051.3 350.4 1052.7 350.5 1054.0 350.5C1055.3 350.6 1056.7 350.7 1058.0 350.7C1059.3 350.8 1060.7 350.9 1062.0 350.9C1063.3 351.0 1064.7 351.1 1066.0 351.1C1067.3 351.1 1068.7 351.2 1070.0 351.2C1071.3 351.3 1072.7 351.3 1074.0 351.4C1075.3 351.4 1076.7 351.4 1078.0 351.4C1079.3 351.3 1080.7 351.1 1082.0 351.0C1083.3 350.9 1084.7 350.8 1086.0 350.7C1087.3 350.6 1088.7 350.7 1090.0 350.5C1091.4 350.2 1092.7 349.6 1094.0 349.2C1095.3 348.8 1096.7 348.6 1098.0 348.1C1099.4 347.5 1100.7 346.5 1102.0 345.7C1103.4 344.8 1104.7 343.8 1106.0 342.8C1107.4 341.7 1108.7 340.7 1110.0 339.6C1111.4 338.4 1112.7 337.2 1114.0 336.0C1115.4 334.8 1116.7 333.5 1118.0 332.2C1119.4 330.8 1120.7 329.2 1122.0 327.8C1123.3 326.3 1124.6 324.7 1126.0 323.3C1127.2 322.1 1128.7 321.1 1130.0 320.0C1131.3 319.0 1132.6 317.8 1134.0 316.8C1135.3 315.9 1136.6 314.9 1138.0 314.3C1139.3 313.7 1140.6 313.3 1142.0 313.1C1143.3 312.9 1144.7 312.9 1146.0 313.0C1147.4 313.2 1148.7 313.6 1150.0 313.9C1151.3 314.2 1152.7 314.3 1154.0 314.7C1155.4 315.1 1156.7 315.7 1158.0 316.4C1159.4 317.2 1160.7 318.1 1162.0 319.0C1163.3 319.9 1164.5 321.0 1166.0 321.7C1167.3 322.4 1168.7 322.6 1170.0 323.0C1171.3 323.4 1172.7 323.7 1174.0 324.1C1175.3 324.5 1176.7 324.7 1178.0 325.2C1179.4 325.8 1180.7 326.7 1182.0 327.4C1183.3 328.2 1184.7 328.9 1186.0 329.7C1187.3 330.4 1188.7 331.2 1190.0 332.1C1191.4 332.9 1192.7 333.9 1194.0 334.8C1195.3 335.7 1196.6 336.6 1198.0 337.5C1199.3 338.2 1200.6 339.0 1202.0 339.6C1203.3 340.1 1204.7 340.3 1206.0 340.7C1207.3 341.1 1208.7 341.5 1210.0 341.8C1211.3 342.2 1212.7 342.6 1214.0 343.0C1215.3 343.4 1216.7 343.8 1218.0 344.1C1219.3 344.5 1220.7 344.9 1222.0 345.3C1223.3 345.7 1224.7 346.1 1226.0 346.5C1227.3 346.8 1228.6 347.3 1230.0 347.6C1231.3 347.9 1232.7 348.0 1234.0 348.2C1235.3 348.4 1236.7 348.7 1238.0 348.8C1239.3 348.9 1240.7 348.8 1242.0 348.7C1243.3 348.6 1244.7 348.2 1246.0 348.0C1247.3 347.8 1248.7 347.5 1250.0 347.2C1251.3 346.9 1252.7 346.4 1254.0 346.0C1255.3 345.7 1256.6 345.2 1258.0 344.9C1259.3 344.5 1260.7 344.3 1262.0 344.1C1263.3 343.9 1264.7 343.8 1266.0 343.6C1267.3 343.4 1268.6 343.0 1270.0 342.9C1271.3 342.8 1272.7 343.0 1274.0 343.1C1275.3 343.2 1276.7 343.2 1278.0 343.3C1279.3 343.4 1280.7 343.4 1282.0 343.5C1283.3 343.6 1284.7 343.6 1286.0 343.7C1287.3 343.8 1288.7 343.8 1290.0 343.9C1291.3 343.9 1292.7 343.8 1294.0 343.7C1295.3 343.7 1296.7 343.6 1298.0 343.6C1299.3 343.5 1300.7 343.6 1302.0 343.5C1303.3 343.3 1304.7 343.2 1306.0 342.9C1307.4 342.6 1308.7 342.1 1310.0 341.7C1311.3 341.3 1312.7 340.9 1314.0 340.5C1315.3 340.2 1316.7 339.9 1318.0 339.6C1319.3 339.3 1320.6 338.9 1322.0 338.9C1323.3 338.8 1324.7 339.0 1326.0 339.2C1327.4 339.5 1328.6 340.2 1330.0 340.2C1331.4 340.3 1332.7 339.7 1334.0 339.4C1335.3 339.2 1336.7 338.9 1338.0 338.7C1339.3 338.4 1340.7 338.2 1342.0 337.7C1343.4 337.2 1344.7 336.4 1346.0 335.7C1347.3 335.0 1348.7 334.4 1350.0 333.7C1351.3 333.0 1352.6 332.3 1354.0 331.8C1355.3 331.2 1356.7 330.8 1358.0 330.3C1359.3 329.8 1360.6 329.2 1362.0 328.8C1363.3 328.4 1364.6 328.1 1366.0 327.8C1367.3 327.6 1368.7 327.5 1370.0 327.4C1371.3 327.2 1372.7 327.0 1374.0 326.8C1375.3 326.7 1376.7 326.3 1378.0 326.3C1379.3 326.2 1380.7 326.4 1382.0 326.4C1383.3 326.5 1384.7 326.6 1386.0 326.7C1387.3 326.8 1388.7 326.9 1390.0 326.9C1391.3 326.9 1392.7 326.6 1394.0 326.5C1395.3 326.3 1396.7 326.1 1398.0 326.0C1399.3 325.8 1400.7 325.8 1402.0 325.5C1403.4 325.3 1404.7 324.8 1406.0 324.4C1407.3 324.0 1408.7 323.6 1410.0 323.2C1411.3 322.7 1412.7 322.3 1414.0 321.9C1415.3 321.5 1416.7 321.1 1418.0 320.6C1419.3 320.2 1420.7 319.8 1422.0 319.3C1423.3 318.9 1424.7 318.5 1426.0 318.1C1427.3 317.6 1428.7 317.2 1430.0 316.7C1431.4 316.2 1432.7 315.6 1434.0 315.0C1435.3 314.4 1436.6 313.7 1438.0 313.3C1439.3 312.9 1440.7 312.7 1442.0 312.5C1443.3 312.4 1444.7 312.3 1446.0 312.2C1447.3 312.1 1448.7 312.0 1450.0 311.9C1451.3 311.8 1452.7 311.7 1454.0 311.6C1455.3 311.5 1456.7 311.5 1458.0 311.4C1459.3 311.3 1460.7 311.2 1462.0 311.2C1463.3 311.1 1464.7 311.0 1466.0 310.9C1467.3 310.9 1468.7 310.8 1470.0 310.7C1471.3 310.7 1472.7 310.7 1474.0 310.7C1475.3 310.7 1476.7 310.6 1478.0 310.6C1479.3 310.6 1480.7 310.6 1482.0 310.5C1483.3 310.5 1484.7 310.4 1486.0 310.4C1487.3 310.4 1488.7 310.4 1490.0 310.5C1491.3 310.7 1492.7 311.0 1494.0 311.2C1495.3 311.4 1496.7 311.5 1498.0 311.7C1499.3 311.9 1500.7 312.1 1502.0 312.3C1503.3 312.6 1504.7 312.9 1506.0 313.2C1507.3 313.5 1508.7 313.7 1510.0 314.0C1511.3 314.3 1512.7 314.6 1514.0 314.8C1515.3 315.1 1516.7 315.4 1518.0 315.7C1519.3 316.0 1520.7 316.3 1522.0 316.5C1523.3 316.8 1524.7 317.0 1526.0 317.1C1527.3 317.2 1528.7 317.1 1530.0 317.1C1531.3 317.1 1532.7 317.2 1534.0 317.2C1535.3 317.2 1536.7 317.1 1538.0 317.0C1539.3 316.8 1540.7 316.4 1542.0 316.2C1543.3 316.0 1544.7 315.9 1546.0 315.6C1547.4 315.3 1548.7 314.8 1550.0 314.3C1551.3 313.8 1552.7 313.3 1554.0 312.9C1555.3 312.4 1556.7 311.9 1558.0 311.5C1559.3 311.0 1560.7 310.5 1562.0 310.0C1563.3 309.5 1564.7 309.0 1566.0 308.5C1567.3 308.0 1568.7 307.5 1570.0 307.1C1571.3 306.6 1572.7 306.1 1574.0 305.7C1575.3 305.2 1576.7 304.7 1578.0 304.2C1579.3 303.7 1580.7 303.2 1582.0 302.7C1583.3 302.2 1584.7 301.7 1586.0 301.2C1587.3 300.7 1588.7 300.1 1590.0 299.7C1591.3 299.2 1592.7 298.7 1594.0 298.3C1595.3 297.9 1596.7 297.5 1598.0 297.0C1599.3 296.6 1600.6 296.1 1602.0 295.8C1603.3 295.6 1604.7 295.6 1606.0 295.7C1607.3 295.8 1608.7 295.9 1610.0 296.2C1611.4 296.4 1612.6 297.0 1614.0 297.2C1615.3 297.3 1616.7 297.1 1618.0 297.1C1619.3 297.1 1620.7 297.1 1622.0 297.1C1623.3 297.0 1624.7 297.0 1626.0 297.0C1627.3 297.0 1628.7 297.0 1630.0 297.0C1631.3 296.9 1632.7 296.9 1634.0 296.9C1635.3 296.8 1636.7 296.8 1638.0 296.8C1639.3 296.7 1640.7 296.7 1642.0 296.7C1643.3 296.7 1644.7 296.7 1646.0 296.7C1647.3 296.6 1648.7 296.6 1650.0 296.6C1651.3 296.5 1652.7 296.5 1654.0 296.4C1655.3 296.4 1656.7 296.2 1658.0 296.3C1659.3 296.3 1660.7 296.5 1662.0 296.6C1663.3 296.7 1664.7 296.7 1666.0 296.7C1667.3 296.8 1668.7 296.8 1670.0 297.0C1671.4 297.2 1672.7 297.6 1674.0 297.9C1675.3 298.2 1676.7 298.5 1678.0 298.8C1679.3 299.1 1680.7 299.4 1682.0 299.6C1683.3 299.9 1684.7 300.1 1686.0 300.3C1687.3 300.5 1688.6 300.9 1690.0 301.0C1691.3 301.0 1692.7 300.8 1694.0 300.6C1695.3 300.5 1696.7 300.3 1698.0 300.2C1699.3 300.0 1700.7 299.7 1702.0 299.7C1703.3 299.6 1704.7 299.8 1706.0 299.9C1707.3 300.1 1708.7 300.5 1710.0 300.8C1711.0 300.9 1712.0 301.1 1713.0 301.3" fill="none" stroke="#686cea" stroke-width="0.95"/>
<path d="M70.0 759.5C81.0 760.2 92.0 760.9 103.0 761.6C116.3 762.4 129.5 763.1 142.8 763.8C143.5 752.5 143.8 741.2 145.0 730.0C147.9 702.4 151.1 674.7 157.0 647.6C159.7 635.2 164.0 623.2 167.6 611.0C171.8 596.6 175.9 582.3 180.5 568.0C183.5 558.6 186.7 549.3 190.0 540.0C191.9 534.6 193.8 529.3 196.0 524.0C200.0 514.4 204.4 504.9 209.0 495.6C213.0 487.5 217.0 479.5 221.5 471.7C224.6 466.3 227.5 460.8 231.4 456.0C233.9 452.9 236.6 449.8 240.0 447.7C241.8 446.5 243.9 445.3 246.0 445.4C248.5 445.6 250.8 447.2 252.5 449.0C254.7 451.3 255.7 454.6 256.8 457.6C258.5 462.6 258.4 468.0 260.0 473.0C260.4 474.4 261.3 475.6 261.7 477.0C262.0 478.1 261.9 479.2 262.0 480.3C263.3 479.6 264.7 478.9 266.0 478.2C267.3 477.4 268.7 476.7 270.0 476.0C271.3 475.3 272.6 474.4 274.0 473.8C275.3 473.2 276.7 472.8 278.0 472.3C279.3 471.8 280.7 471.3 282.0 470.8C283.3 470.3 284.7 469.9 286.0 469.3C287.4 468.7 288.7 467.9 290.0 467.1C291.3 466.4 292.7 465.5 294.0 464.7C295.3 463.9 296.7 463.2 298.0 462.3C299.4 461.4 300.7 460.4 302.0 459.4C303.3 458.3 304.7 457.3 306.0 456.2C307.4 454.9 308.7 453.5 310.0 452.1C311.4 450.7 312.7 449.2 314.0 447.6C315.4 446.0 316.7 444.4 318.0 442.7C319.4 440.8 320.6 438.8 322.0 437.0C323.3 435.4 324.6 433.8 326.0 432.3C327.3 430.9 328.6 429.6 330.0 428.2C331.3 426.9 332.8 425.8 334.0 424.3C335.5 422.5 336.7 420.3 338.0 418.3C339.3 416.2 340.6 414.1 342.0 412.1C343.3 410.2 344.5 408.2 346.0 406.4C347.2 404.9 348.7 403.6 350.0 402.2C351.3 400.8 352.7 399.4 354.0 398.0C355.3 396.6 356.5 395.1 358.0 393.9C359.2 392.9 360.7 392.3 362.0 391.3C363.4 390.2 364.7 388.9 366.0 387.6C367.4 386.3 368.3 384.5 370.0 383.6C371.2 383.0 372.7 383.4 374.0 383.1C375.4 382.8 376.7 382.2 378.0 381.7C379.4 381.1 380.7 380.5 382.0 379.9C383.3 379.3 384.7 378.8 386.0 378.2C387.4 377.4 388.7 376.5 390.0 375.7C391.3 374.8 392.6 373.9 394.0 373.0C395.3 372.2 396.5 371.1 398.0 370.7C399.3 370.3 400.7 370.8 402.0 370.7C403.3 370.7 404.7 370.7 406.0 370.4C407.4 370.0 408.6 369.2 410.0 368.8C411.3 368.4 412.7 368.2 414.0 368.2C415.4 368.3 416.7 368.9 418.0 369.2C419.3 369.5 420.7 369.7 422.0 370.1C423.4 370.5 424.6 371.4 426.0 371.6C427.3 371.9 428.7 371.6 430.0 371.7C431.3 371.8 432.7 372.0 434.0 372.1C435.3 372.3 436.7 372.5 438.0 372.6C439.3 372.7 440.7 372.7 442.0 372.7C443.3 372.7 444.7 372.7 446.0 372.7C447.3 372.7 448.7 372.8 450.0 372.8C451.3 372.8 452.7 372.9 454.0 372.9C455.3 372.9 456.7 372.9 458.0 372.9C459.3 372.9 460.7 372.8 462.0 372.9C463.3 372.9 464.7 373.0 466.0 373.1C467.3 373.2 468.7 373.2 470.0 373.2C471.3 373.2 472.7 373.1 474.0 373.0C475.3 372.9 476.7 372.8 478.0 372.8C479.3 372.7 480.7 372.6 482.0 372.5C483.3 372.5 484.7 372.4 486.0 372.3C487.3 372.2 488.7 372.2 490.0 372.1C491.3 372.0 492.7 372.0 494.0 371.9C495.3 371.8 496.7 371.7 498.0 371.7C499.3 371.6 500.7 371.6 502.0 371.6C503.3 371.6 504.7 371.7 506.0 371.7C507.3 371.7 508.7 371.7 510.0 371.7C511.3 371.7 512.7 371.8 514.0 371.7C515.4 371.5 516.7 371.2 518.0 370.9C519.3 370.7 520.7 370.4 522.0 370.1C523.3 369.8 524.7 369.5 526.0 369.2C527.3 368.9 528.7 368.6 530.0 368.4C531.3 368.2 532.7 368.0 534.0 367.8C535.3 367.7 536.7 367.5 538.0 367.3C539.3 367.1 540.7 366.9 542.0 366.8C543.3 366.6 544.7 366.5 546.0 366.5C547.3 366.4 548.7 366.4 550.0 366.3C551.3 366.2 552.7 366.0 554.0 365.8C555.3 365.6 556.7 365.3 558.0 364.9C559.3 364.6 560.7 364.2 562.0 364.0C563.3 363.8 564.7 363.7 566.0 363.5C567.3 363.3 568.7 363.4 570.0 363.0C571.4 362.7 572.6 361.9 574.0 361.4C575.3 360.9 576.6 360.4 578.0 360.1C579.3 359.8 580.7 359.7 582.0 359.3C583.4 358.9 584.7 358.4 586.0 357.9C587.3 357.5 588.7 357.2 590.0 356.8C591.3 356.4 592.7 356.1 594.0 355.6C595.3 355.2 596.7 354.7 598.0 354.2C599.3 353.8 600.6 353.3 602.0 352.9C603.3 352.5 604.7 352.2 606.0 351.9C607.3 351.6 608.7 351.4 610.0 351.1C611.3 350.8 612.7 350.6 614.0 350.3C615.3 350.0 616.7 349.7 618.0 349.5C619.3 349.2 620.7 349.0 622.0 348.8C623.3 348.5 624.7 348.4 626.0 348.0C627.4 347.7 628.7 347.2 630.0 346.8C631.3 346.4 632.8 346.3 634.0 345.6C635.5 344.7 636.6 343.2 638.0 342.1C639.3 341.0 640.6 339.8 642.0 338.8C643.3 338.0 644.6 337.2 646.0 336.6C647.3 336.1 648.7 335.8 650.0 335.4C651.3 335.1 652.6 334.7 654.0 334.4C655.3 334.2 656.7 334.1 658.0 333.9C659.3 333.7 660.7 333.3 662.0 333.1C663.3 332.9 664.7 332.8 666.0 332.7C667.3 332.6 668.7 332.6 670.0 332.5C671.3 332.5 672.7 332.4 674.0 332.3C675.3 332.3 676.7 332.2 678.0 332.2C679.3 332.2 680.7 332.3 682.0 332.4C683.3 332.4 684.7 332.5 686.0 332.5C687.3 332.6 688.7 332.6 690.0 332.6C691.3 332.5 692.7 332.4 694.0 332.3C695.3 332.2 696.7 332.1 698.0 332.0C699.3 331.9 700.7 331.8 702.0 331.7C703.3 331.6 704.7 331.5 706.0 331.4C707.3 331.3 708.7 331.1 710.0 331.0C711.3 330.9 712.7 330.7 714.0 330.6C715.3 330.5 716.7 330.3 718.0 330.2C719.3 330.0 720.7 329.9 722.0 329.7C723.3 329.5 724.7 329.4 726.0 329.2C727.3 329.0 728.7 328.8 730.0 328.7C731.3 328.5 732.7 328.3 734.0 328.1C735.3 328.0 736.7 327.8 738.0 327.7C739.3 327.5 740.7 327.4 742.0 327.2C743.3 327.1 744.7 327.0 746.0 326.9C747.3 326.9 748.7 326.8 750.0 326.9C751.3 327.0 752.7 327.2 754.0 327.4C755.3 327.6 756.7 327.7 758.0 327.9C759.3 328.2 760.7 328.6 762.0 328.9C763.3 329.2 764.6 329.6 766.0 329.8C767.3 330.0 768.7 329.9 770.0 330.0C771.3 330.0 772.7 330.1 774.0 330.1C775.3 330.1 776.7 330.1 778.0 330.0C779.3 330.0 780.7 330.0 782.0 330.0C783.3 329.9 784.7 329.9 786.0 329.8C787.3 329.7 788.7 329.7 790.0 329.6C791.3 329.6 792.7 329.6 794.0 329.4C795.4 329.2 796.7 328.8 798.0 328.3C799.4 327.8 800.6 327.0 802.0 326.5C803.3 326.0 804.7 325.7 806.0 325.4C807.3 325.1 808.7 324.9 810.0 324.7C811.3 324.5 812.7 324.2 814.0 324.0C815.3 323.7 816.7 323.5 818.0 323.2C819.3 323.0 820.7 322.8 822.0 322.6C823.3 322.4 824.7 322.2 826.0 322.0C827.3 321.8 828.7 321.6 830.0 321.4C831.3 321.2 832.7 320.9 834.0 320.7C835.3 320.6 836.7 320.5 838.0 320.3C839.3 320.2 840.7 320.2 842.0 320.0C843.3 319.8 844.7 319.5 846.0 319.2C847.3 318.8 848.7 318.5 850.0 318.1C851.3 317.7 852.7 317.4 854.0 316.8C855.4 316.3 856.7 315.5 858.0 314.9C859.3 314.3 860.6 313.7 862.0 313.1C863.3 312.6 864.7 312.2 866.0 311.8C867.3 311.3 868.7 310.8 870.0 310.3C871.3 309.9 872.7 309.5 874.0 309.0C875.3 308.5 876.6 307.9 878.0 307.4C879.3 307.0 880.7 306.8 882.0 306.4C883.4 306.0 884.6 305.3 886.0 305.0C887.3 304.7 888.7 304.7 890.0 304.6C891.3 304.5 892.7 304.4 894.0 304.4C895.3 304.4 896.7 304.5 898.0 304.6C899.3 304.7 900.7 304.8 902.0 304.9C903.3 305.0 904.7 305.0 906.0 305.0C907.3 305.0 908.7 305.0 910.0 305.0C911.3 305.1 912.7 305.2 914.0 305.2C915.3 305.2 916.7 305.1 918.0 305.1C919.3 305.0 920.7 305.0 922.0 304.9C923.3 304.9 924.7 304.8 926.0 304.7C927.3 304.7 928.7 304.6 930.0 304.5C931.3 304.4 932.7 304.4 934.0 304.4C935.3 304.4 936.7 304.4 938.0 304.3C939.3 304.3 940.7 304.3 942.0 304.3C943.3 304.3 944.7 304.3 946.0 304.3C947.3 304.2 948.7 304.2 950.0 304.1C951.3 304.1 952.7 304.0 954.0 304.0C955.3 303.9 956.7 303.8 958.0 303.8C959.3 303.8 960.7 303.8 962.0 303.8C963.3 303.7 964.7 303.3 966.0 303.2C967.3 303.2 968.7 303.4 970.0 303.5C971.3 303.6 972.7 303.7 974.0 303.9C975.3 304.0 976.7 304.2 978.0 304.3C979.3 304.4 980.7 304.4 982.0 304.4C983.3 304.3 984.7 304.0 986.0 303.9C987.3 303.8 988.7 303.6 990.0 303.8C991.4 304.0 992.7 304.5 994.0 304.9C995.3 305.3 996.7 305.7 998.0 306.1C999.3 306.4 1000.7 306.8 1002.0 307.1C1003.3 307.4 1004.7 307.6 1006.0 307.9C1007.3 308.2 1008.7 308.5 1010.0 308.8C1011.3 309.1 1012.7 309.4 1014.0 309.6C1015.3 309.9 1016.7 310.0 1018.0 310.1C1019.3 310.2 1020.7 310.2 1022.0 310.3C1023.3 310.4 1024.7 310.6 1026.0 310.5C1027.4 310.4 1028.7 309.9 1030.0 309.6C1031.3 309.3 1032.6 308.9 1034.0 308.8C1035.3 308.6 1036.7 308.5 1038.0 308.5C1039.3 308.4 1040.7 308.4 1042.0 308.4C1043.3 308.3 1044.7 308.3 1046.0 308.3C1047.3 308.2 1048.7 308.2 1050.0 308.1C1051.3 308.1 1052.7 307.9 1054.0 307.7C1055.3 307.6 1056.7 307.5 1058.0 307.3C1059.3 307.2 1060.7 307.1 1062.0 306.9C1063.3 306.8 1064.7 306.7 1066.0 306.5C1067.3 306.3 1068.7 306.1 1070.0 305.9C1071.3 305.7 1072.7 305.5 1074.0 305.3C1075.3 305.0 1076.7 304.8 1078.0 304.6C1079.3 304.4 1080.7 304.1 1082.0 303.8C1083.3 303.6 1084.7 303.4 1086.0 303.2C1087.3 303.0 1088.7 302.9 1090.0 302.6C1091.3 302.3 1092.6 301.9 1094.0 301.6C1095.3 301.4 1096.7 301.3 1098.0 301.2C1099.3 301.0 1100.7 300.9 1102.0 300.7C1103.3 300.5 1104.7 300.2 1106.0 300.0C1107.3 299.9 1108.7 299.8 1110.0 299.7C1111.3 299.5 1112.7 299.4 1114.0 299.3C1115.3 299.1 1116.7 299.0 1118.0 299.0C1119.3 298.9 1120.7 299.0 1122.0 299.1C1123.3 299.2 1124.7 299.2 1126.0 299.4C1127.4 299.7 1128.7 300.2 1130.0 300.5C1131.3 300.9 1132.6 301.3 1134.0 301.5C1135.3 301.7 1136.7 301.5 1138.0 301.7C1139.3 301.9 1140.6 302.3 1142.0 302.5C1143.3 302.6 1144.7 302.4 1146.0 302.4C1147.3 302.4 1148.7 302.6 1150.0 302.5C1151.3 302.5 1152.7 302.2 1154.0 302.1C1155.3 302.0 1156.7 301.9 1158.0 301.9C1159.3 301.9 1160.7 302.0 1162.0 302.1C1163.3 302.2 1164.7 302.5 1166.0 302.6C1167.3 302.6 1168.7 302.6 1170.0 302.6C1171.3 302.6 1172.7 302.6 1174.0 302.6C1175.3 302.5 1176.7 302.5 1178.0 302.5C1179.3 302.6 1180.7 302.8 1182.0 302.9C1183.3 303.0 1184.7 303.1 1186.0 303.2C1187.3 303.4 1188.7 303.5 1190.0 303.7C1191.3 303.8 1192.7 304.0 1194.0 304.1C1195.3 304.2 1196.7 304.2 1198.0 304.3C1199.3 304.5 1200.7 304.6 1202.0 304.8C1203.3 305.0 1204.7 305.4 1206.0 305.6C1207.3 305.9 1208.7 306.2 1210.0 306.4C1211.3 306.7 1212.7 307.0 1214.0 307.3C1215.3 307.6 1216.7 307.9 1218.0 308.3C1219.3 308.6 1220.7 309.0 1222.0 309.4C1223.3 309.7 1224.7 310.1 1226.0 310.4C1227.3 310.8 1228.7 311.2 1230.0 311.5C1231.3 311.9 1232.7 312.3 1234.0 312.7C1235.3 313.0 1236.7 313.4 1238.0 313.8C1239.3 314.1 1240.7 314.3 1242.0 314.7C1243.4 315.2 1244.7 315.9 1246.0 316.4C1247.3 317.0 1248.6 317.6 1250.0 318.1C1251.3 318.6 1252.7 318.9 1254.0 319.3C1255.3 319.7 1256.7 320.2 1258.0 320.5C1259.3 320.8 1260.7 321.0 1262.0 321.2C1263.3 321.5 1264.7 321.7 1266.0 321.8C1267.3 321.8 1268.7 321.6 1270.0 321.6C1271.3 321.5 1272.7 321.5 1274.0 321.5C1275.3 321.5 1276.7 321.5 1278.0 321.5C1279.3 321.5 1280.7 321.4 1282.0 321.4C1283.3 321.4 1284.7 321.4 1286.0 321.4C1287.3 321.3 1288.7 321.3 1290.0 321.3C1291.3 321.2 1292.7 321.1 1294.0 321.1C1295.3 321.0 1296.7 320.9 1298.0 320.9C1299.3 320.8 1300.7 320.7 1302.0 320.7C1303.3 320.6 1304.7 320.4 1306.0 320.3C1307.3 320.1 1308.7 319.8 1310.0 319.6C1311.3 319.4 1312.7 319.2 1314.0 318.9C1315.3 318.7 1316.7 318.5 1318.0 318.4C1319.3 318.2 1320.7 318.1 1322.0 317.9C1323.4 317.7 1324.7 317.3 1326.0 316.9C1327.3 316.5 1328.6 316.0 1330.0 315.6C1331.3 315.3 1332.7 315.1 1334.0 314.8C1335.3 314.5 1336.7 314.3 1338.0 314.0C1339.3 313.7 1340.7 313.4 1342.0 313.2C1343.3 312.9 1344.7 312.8 1346.0 312.5C1347.3 312.3 1348.7 312.1 1350.0 311.9C1351.3 311.7 1352.7 311.5 1354.0 311.3C1355.3 311.1 1356.7 310.9 1358.0 310.7C1359.3 310.5 1360.7 310.1 1362.0 309.9C1363.3 309.6 1364.7 309.4 1366.0 309.2C1367.3 309.1 1368.7 309.0 1370.0 308.8C1371.3 308.6 1372.7 308.4 1374.0 308.1C1375.3 307.8 1376.7 307.5 1378.0 307.3C1379.3 307.0 1380.7 306.9 1382.0 306.7C1383.3 306.5 1384.7 306.2 1386.0 306.0C1387.3 305.7 1388.7 305.4 1390.0 305.1C1391.3 304.8 1392.7 304.4 1394.0 304.2C1395.3 304.0 1396.7 303.9 1398.0 303.8C1399.3 303.6 1400.7 303.5 1402.0 303.4C1403.3 303.3 1404.7 303.2 1406.0 303.1C1407.3 303.0 1408.7 302.9 1410.0 302.8C1411.3 302.7 1412.7 302.5 1414.0 302.4C1415.3 302.3 1416.7 302.3 1418.0 302.2C1419.3 302.1 1420.7 302.1 1422.0 302.1C1423.3 302.0 1424.7 301.9 1426.0 301.9C1427.3 301.9 1428.7 301.8 1430.0 301.9C1431.3 301.9 1432.7 302.0 1434.0 302.1C1435.3 302.1 1436.7 302.2 1438.0 302.3C1439.3 302.3 1440.7 302.3 1442.0 302.3C1443.3 302.3 1444.7 302.3 1446.0 302.3C1447.3 302.3 1448.7 302.3 1450.0 302.3C1451.3 302.3 1452.7 302.3 1454.0 302.2C1455.3 302.2 1456.7 302.0 1458.0 301.9C1459.3 301.8 1460.7 301.7 1462.0 301.6C1463.3 301.5 1464.7 301.4 1466.0 301.3C1467.3 301.2 1468.7 301.1 1470.0 301.0C1471.3 300.9 1472.7 300.8 1474.0 300.7C1475.3 300.6 1476.7 300.5 1478.0 300.4C1479.3 300.3 1480.7 300.3 1482.0 300.1C1483.3 300.0 1484.7 299.7 1486.0 299.5C1487.3 299.2 1488.7 299.0 1490.0 298.6C1491.4 298.2 1492.7 297.6 1494.0 297.0C1495.4 296.4 1496.6 295.5 1498.0 294.9C1499.3 294.3 1500.6 293.7 1502.0 293.3C1503.3 292.9 1504.7 292.8 1506.0 292.5C1507.3 292.3 1508.7 292.1 1510.0 291.8C1511.4 291.5 1512.7 291.1 1514.0 290.7C1515.4 290.1 1516.7 289.4 1518.0 288.8C1519.3 288.2 1520.7 287.5 1522.0 287.0C1523.3 286.4 1524.7 285.9 1526.0 285.3C1527.3 284.7 1528.6 284.0 1530.0 283.4C1531.3 282.9 1532.7 282.4 1534.0 282.0C1535.3 281.5 1536.7 281.1 1538.0 280.7C1539.3 280.2 1540.6 279.6 1542.0 279.2C1543.3 278.7 1544.7 278.4 1546.0 278.1C1547.3 277.8 1548.7 277.4 1550.0 277.1C1551.3 276.7 1552.7 276.3 1554.0 276.0C1555.3 275.6 1556.7 275.4 1558.0 275.0C1559.3 274.7 1560.7 274.4 1562.0 274.1C1563.3 273.8 1564.6 273.4 1566.0 273.2C1567.3 273.0 1568.7 273.1 1570.0 273.0C1571.3 273.0 1572.7 272.9 1574.0 272.9C1575.3 272.8 1576.7 272.8 1578.0 272.8C1579.3 272.7 1580.7 272.7 1582.0 272.7C1583.3 272.7 1584.7 272.7 1586.0 272.7C1587.3 272.7 1588.7 272.7 1590.0 272.7C1591.3 272.7 1592.7 272.7 1594.0 272.7C1595.3 272.7 1596.7 272.7 1598.0 272.8C1599.3 272.8 1600.7 272.8 1602.0 272.9C1603.3 273.0 1604.7 273.3 1606.0 273.4C1607.3 273.5 1608.7 273.4 1610.0 273.4C1611.3 273.4 1612.7 273.6 1614.0 273.6C1615.3 273.6 1616.7 273.5 1618.0 273.4C1619.3 273.4 1620.7 273.3 1622.0 273.2C1623.3 273.2 1624.7 273.1 1626.0 273.1C1627.3 273.1 1628.7 273.0 1630.0 273.0C1631.3 273.1 1632.7 273.1 1634.0 273.2C1635.3 273.3 1636.7 273.3 1638.0 273.4C1639.3 273.5 1640.7 273.6 1642.0 273.7C1643.3 273.9 1644.7 274.2 1646.0 274.4C1647.3 274.7 1648.7 274.9 1650.0 275.1C1651.3 275.3 1652.7 275.5 1654.0 275.6C1655.3 275.8 1656.7 275.9 1658.0 276.0C1659.3 276.2 1660.7 276.5 1662.0 276.6C1663.3 276.7 1664.7 276.6 1666.0 276.5C1667.3 276.4 1668.7 276.4 1670.0 276.2C1671.4 275.9 1672.7 275.5 1674.0 275.1C1675.3 274.8 1676.7 274.4 1678.0 274.0C1679.3 273.6 1680.7 273.2 1682.0 272.8C1683.3 272.4 1684.7 272.0 1686.0 271.7C1687.3 271.3 1688.7 271.1 1690.0 270.7C1691.4 270.3 1692.7 269.8 1694.0 269.4C1695.3 268.9 1696.7 268.5 1698.0 268.0C1699.3 267.6 1700.7 267.0 1702.0 266.6C1703.3 266.2 1704.7 266.1 1706.0 265.5C1707.4 264.9 1708.7 264.0 1710.0 263.2C1711.0 262.5 1712.0 261.7 1713.0 261.0" fill="none" stroke="#b653de" stroke-width="0.95"/>
<path d="M70.0 774.5C81.0 775.3 92.0 776.0 103.0 777.0C116.3 778.2 129.5 779.7 142.8 781.0C143.1 784.9 143.3 788.8 143.8 792.7C144.3 796.2 145.1 799.6 145.8 803.0C146.6 807.0 147.0 811.2 148.4 815.0C149.7 818.4 151.5 821.6 153.7 824.5C154.9 826.2 156.3 827.8 158.0 829.0C159.9 830.3 162.0 831.7 164.3 831.8C166.3 831.9 168.3 831.0 170.0 830.0C172.3 828.8 174.2 826.9 176.0 825.0C178.8 822.0 180.6 818.3 183.0 815.0C185.1 812.0 187.7 809.2 189.5 806.0C190.6 804.1 191.1 802.0 192.0 800.0C194.4 794.8 197.5 789.9 200.0 784.8C203.7 777.2 207.5 769.5 210.6 761.6C217.4 744.1 222.8 726.1 228.0 708.0C233.7 688.1 238.8 667.9 243.0 647.6C247.4 626.2 250.1 604.5 253.7 583.0C255.0 575.3 256.5 567.7 257.5 560.0C258.6 551.7 259.3 543.3 260.0 535.0C260.4 530.0 260.7 525.0 261.0 520.0C261.3 520.0 261.7 520.2 262.0 520.1C263.5 519.9 264.7 518.8 266.0 518.1C267.3 517.5 268.7 516.8 270.0 516.1C271.3 515.5 272.6 514.6 274.0 514.1C275.3 513.7 276.7 513.7 278.0 513.6C279.3 513.5 280.7 513.6 282.0 513.6C283.3 513.5 284.7 513.7 286.0 513.5C287.4 513.3 288.7 512.7 290.0 512.3C291.3 511.9 292.7 511.5 294.0 511.0C295.3 510.6 296.7 510.3 298.0 509.8C299.3 509.3 300.7 508.8 302.0 508.2C303.3 507.7 304.7 507.2 306.0 506.6C307.4 505.9 308.7 505.2 310.0 504.4C311.4 503.6 312.7 502.8 314.0 502.0C315.4 501.1 316.8 500.4 318.0 499.3C319.5 498.0 320.6 496.2 322.0 494.6C323.3 493.2 324.6 491.7 326.0 490.4C327.2 489.3 328.6 488.3 330.0 487.4C331.3 486.4 332.7 485.7 334.0 484.8C335.4 483.7 336.6 482.3 338.0 481.2C339.3 480.2 340.6 479.3 342.0 478.4C343.3 477.5 344.6 476.5 346.0 475.8C347.3 475.1 348.7 474.5 350.0 473.9C351.3 473.3 352.7 472.8 354.0 472.1C355.4 471.4 356.6 470.4 358.0 469.7C359.3 469.1 360.8 468.8 362.0 467.9C363.6 466.8 364.7 465.3 366.0 463.9C367.4 462.4 368.5 460.7 370.0 459.2C371.2 458.0 372.7 457.0 374.0 455.8C375.4 454.6 376.7 453.3 378.0 451.9C379.3 450.6 380.7 449.2 382.0 447.9C383.3 446.5 384.7 445.2 386.0 443.8C387.4 442.3 388.7 440.8 390.0 439.3C391.3 437.9 392.7 436.4 394.0 434.9C395.3 433.4 396.6 431.9 398.0 430.6C399.2 429.4 400.8 428.6 402.0 427.5C403.5 426.1 404.9 424.6 406.0 422.9C407.8 420.1 408.5 416.8 410.0 413.8C411.2 411.5 412.4 409.0 414.0 406.9C415.1 405.4 416.7 404.3 418.0 403.0C419.3 401.7 420.5 400.4 422.0 399.3C423.2 398.4 424.7 397.8 426.0 396.9C427.4 396.0 428.5 394.7 430.0 393.8C431.2 393.1 432.7 392.8 434.0 392.3C435.3 391.8 436.6 391.2 438.0 390.7C439.3 390.3 440.7 389.9 442.0 389.5C443.3 389.1 444.7 388.7 446.0 388.4C447.3 388.0 448.6 387.6 450.0 387.4C451.3 387.2 452.7 387.3 454.0 387.2C455.3 387.1 456.7 387.0 458.0 386.9C459.3 386.9 460.7 386.7 462.0 386.8C463.3 386.8 464.7 387.0 466.0 387.0C467.3 387.1 468.7 387.2 470.0 387.3C471.3 387.3 472.7 387.3 474.0 387.3C475.3 387.3 476.7 387.4 478.0 387.4C479.3 387.4 480.7 387.5 482.0 387.4C483.3 387.4 484.7 387.4 486.0 387.2C487.3 387.1 488.7 386.9 490.0 386.8C491.3 386.7 492.7 386.5 494.0 386.4C495.3 386.2 496.7 386.0 498.0 385.9C499.3 385.8 500.7 385.9 502.0 385.9C503.3 385.9 504.7 385.9 506.0 385.9C507.3 386.0 508.7 386.0 510.0 386.0C511.3 386.0 512.7 386.1 514.0 386.0C515.3 386.0 516.7 385.8 518.0 385.7C519.3 385.6 520.7 385.5 522.0 385.3C523.3 385.1 524.7 384.8 526.0 384.6C527.3 384.4 528.7 384.2 530.0 384.0C531.3 383.8 532.7 383.7 534.0 383.5C535.3 383.4 536.7 383.2 538.0 383.1C539.3 382.9 540.7 382.7 542.0 382.6C543.3 382.5 544.7 382.4 546.0 382.3C547.3 382.2 548.7 382.2 550.0 382.0C551.4 381.8 552.7 381.5 554.0 381.1C555.3 380.7 556.7 380.3 558.0 379.9C559.3 379.4 560.6 378.8 562.0 378.6C563.3 378.3 564.7 378.3 566.0 378.2C567.3 378.1 568.7 378.1 570.0 377.9C571.4 377.6 572.6 377.1 574.0 376.9C575.3 376.8 576.7 376.8 578.0 376.8C579.3 376.8 580.7 377.0 582.0 376.8C583.4 376.6 584.6 375.8 586.0 375.5C587.3 375.2 588.7 375.0 590.0 374.8C591.3 374.6 592.7 374.7 594.0 374.5C595.3 374.3 596.7 374.0 598.0 373.7C599.4 373.3 600.7 372.6 602.0 372.1C603.3 371.6 604.7 371.2 606.0 370.8C607.3 370.4 608.7 370.1 610.0 369.7C611.3 369.4 612.7 369.1 614.0 368.8C615.3 368.4 616.7 368.1 618.0 367.8C619.3 367.5 620.7 367.3 622.0 367.1C623.3 366.9 624.7 366.5 626.0 366.4C627.3 366.3 628.7 366.5 630.0 366.5C631.3 366.6 632.7 366.8 634.0 366.7C635.4 366.6 636.7 366.1 638.0 365.9C639.3 365.6 640.7 365.3 642.0 365.1C643.3 365.0 644.7 364.8 646.0 364.7C647.3 364.6 648.7 364.6 650.0 364.3C651.4 364.0 652.7 363.5 654.0 363.0C655.3 362.6 656.7 362.2 658.0 361.7C659.4 361.1 660.7 360.4 662.0 359.9C663.3 359.3 664.7 358.8 666.0 358.3C667.3 357.7 668.7 357.2 670.0 356.7C671.3 356.2 672.7 355.6 674.0 355.2C675.3 354.7 676.6 354.2 678.0 353.8C679.3 353.4 680.7 353.2 682.0 352.9C683.3 352.6 684.7 352.2 686.0 351.9C687.3 351.7 688.7 351.4 690.0 351.1C691.3 350.9 692.7 350.7 694.0 350.4C695.3 350.2 696.7 350.0 698.0 349.8C699.3 349.6 700.7 349.3 702.0 349.1C703.3 348.9 704.7 348.7 706.0 348.6C707.3 348.4 708.7 348.2 710.0 348.1C711.3 347.9 712.7 347.7 714.0 347.6C715.3 347.4 716.7 347.2 718.0 347.1C719.3 347.0 720.7 346.9 722.0 346.8C723.3 346.7 724.7 346.7 726.0 346.6C727.3 346.5 728.7 346.4 730.0 346.2C731.3 346.0 732.7 345.7 734.0 345.4C735.3 345.2 736.7 344.9 738.0 344.7C739.3 344.4 740.7 344.2 742.0 344.0C743.3 343.8 744.7 343.7 746.0 343.5C747.3 343.4 748.7 343.3 750.0 343.2C751.3 343.2 752.7 343.2 754.0 343.2C755.3 343.2 756.7 343.2 758.0 343.2C759.3 343.2 760.7 343.3 762.0 343.3C763.3 343.4 764.7 343.5 766.0 343.5C767.3 343.6 768.7 343.6 770.0 343.6C771.3 343.7 772.7 343.7 774.0 343.7C775.3 343.7 776.7 343.6 778.0 343.5C779.3 343.4 780.7 343.3 782.0 343.2C783.3 343.1 784.7 343.0 786.0 342.9C787.3 342.8 788.7 342.7 790.0 342.5C791.3 342.4 792.7 342.3 794.0 342.1C795.3 341.9 796.7 341.6 798.0 341.2C799.3 340.9 800.6 340.3 802.0 340.0C803.3 339.6 804.7 339.4 806.0 339.1C807.3 338.9 808.7 338.7 810.0 338.4C811.3 338.2 812.7 338.0 814.0 337.7C815.3 337.5 816.7 337.2 818.0 337.0C819.3 336.8 820.7 336.7 822.0 336.5C823.3 336.4 824.7 336.3 826.0 336.2C827.3 336.0 828.7 335.9 830.0 335.8C831.3 335.7 832.7 335.4 834.0 335.4C835.3 335.3 836.7 335.4 838.0 335.5C839.3 335.5 840.7 335.6 842.0 335.6C843.3 335.6 844.7 335.6 846.0 335.5C847.3 335.5 848.7 335.4 850.0 335.4C851.3 335.4 852.7 335.6 854.0 335.6C855.3 335.6 856.7 335.4 858.0 335.4C859.3 335.3 860.7 335.3 862.0 335.3C863.3 335.2 864.7 335.0 866.0 334.9C867.3 334.7 868.7 334.5 870.0 334.3C871.3 334.1 872.7 334.0 874.0 333.7C875.4 333.4 876.7 332.9 878.0 332.6C879.3 332.3 880.7 332.2 882.0 331.7C883.4 331.2 884.6 330.3 886.0 329.7C887.3 329.1 888.7 328.7 890.0 328.2C891.3 327.6 892.7 327.1 894.0 326.6C895.3 326.1 896.7 325.6 898.0 325.2C899.3 324.8 900.7 324.4 902.0 324.0C903.3 323.7 904.7 323.3 906.0 323.0C907.3 322.6 908.6 322.2 910.0 321.9C911.3 321.6 912.7 321.4 914.0 321.2C915.3 321.0 916.7 320.9 918.0 320.8C919.3 320.6 920.7 320.5 922.0 320.4C923.3 320.2 924.7 320.0 926.0 319.8C927.3 319.6 928.7 319.3 930.0 319.1C931.3 318.9 932.7 318.7 934.0 318.5C935.3 318.3 936.7 318.2 938.0 318.0C939.3 317.8 940.7 317.6 942.0 317.4C943.3 317.2 944.7 317.1 946.0 316.9C947.3 316.7 948.7 316.5 950.0 316.3C951.3 316.2 952.7 316.0 954.0 315.8C955.3 315.6 956.7 315.4 958.0 315.3C959.3 315.2 960.7 315.2 962.0 315.2C963.3 315.2 964.7 314.9 966.0 315.2C967.4 315.4 968.7 316.1 970.0 316.6C971.4 317.2 972.7 317.9 974.0 318.6C975.3 319.3 976.7 320.1 978.0 320.8C979.3 321.4 980.6 322.1 982.0 322.7C983.3 323.3 984.7 323.8 986.0 324.4C987.3 324.9 988.7 325.5 990.0 326.1C991.3 326.6 992.7 327.3 994.0 327.9C995.3 328.5 996.7 329.1 998.0 329.7C999.3 330.3 1000.6 330.9 1002.0 331.3C1003.3 331.8 1004.7 332.0 1006.0 332.4C1007.3 332.7 1008.7 333.1 1010.0 333.5C1011.3 333.8 1012.7 334.2 1014.0 334.5C1015.3 334.8 1016.7 335.1 1018.0 335.3C1019.3 335.5 1020.7 335.6 1022.0 335.7C1023.3 335.8 1024.7 336.0 1026.0 336.1C1027.3 336.1 1028.7 335.9 1030.0 335.9C1031.3 335.8 1032.7 335.7 1034.0 335.7C1035.3 335.7 1036.7 335.8 1038.0 335.8C1039.3 335.9 1040.7 336.0 1042.0 336.0C1043.3 336.1 1044.7 336.1 1046.0 336.1C1047.3 336.2 1048.7 336.3 1050.0 336.3C1051.3 336.3 1052.7 336.3 1054.0 336.3C1055.3 336.3 1056.7 336.3 1058.0 336.3C1059.3 336.3 1060.7 336.3 1062.0 336.3C1063.3 336.3 1064.7 336.3 1066.0 336.2C1067.3 336.2 1068.7 336.1 1070.0 336.1C1071.3 336.1 1072.7 336.0 1074.0 336.0C1075.3 335.9 1076.7 335.9 1078.0 335.8C1079.3 335.7 1080.7 335.4 1082.0 335.3C1083.3 335.2 1084.7 335.0 1086.0 334.9C1087.3 334.8 1088.7 334.8 1090.0 334.5C1091.4 334.2 1092.7 333.7 1094.0 333.3C1095.3 333.0 1096.7 332.9 1098.0 332.5C1099.4 332.0 1100.7 331.3 1102.0 330.7C1103.4 330.0 1104.7 329.3 1106.0 328.5C1107.3 327.8 1108.7 327.1 1110.0 326.3C1111.4 325.5 1112.7 324.6 1114.0 323.8C1115.3 322.9 1116.7 322.0 1118.0 321.1C1119.4 320.2 1120.7 319.2 1122.0 318.2C1123.3 317.2 1124.6 316.2 1126.0 315.4C1127.3 314.6 1128.7 314.1 1130.0 313.5C1131.3 312.9 1132.7 312.3 1134.0 311.7C1135.3 311.2 1136.6 310.5 1138.0 310.1C1139.3 309.7 1140.7 309.6 1142.0 309.5C1143.3 309.4 1144.7 309.4 1146.0 309.5C1147.3 309.6 1148.7 309.9 1150.0 310.1C1151.3 310.3 1152.7 310.3 1154.0 310.5C1155.4 310.7 1156.7 311.1 1158.0 311.6C1159.4 312.1 1160.7 312.8 1162.0 313.4C1163.3 314.0 1164.6 314.9 1166.0 315.3C1167.3 315.8 1168.7 315.9 1170.0 316.2C1171.3 316.4 1172.7 316.7 1174.0 316.9C1175.3 317.2 1176.7 317.3 1178.0 317.7C1179.4 318.1 1180.7 318.7 1182.0 319.3C1183.3 319.8 1184.7 320.3 1186.0 320.9C1187.3 321.4 1188.7 322.0 1190.0 322.6C1191.3 323.2 1192.7 323.9 1194.0 324.5C1195.3 325.2 1196.6 325.8 1198.0 326.4C1199.3 327.0 1200.6 327.5 1202.0 328.0C1203.3 328.4 1204.7 328.7 1206.0 329.0C1207.3 329.4 1208.7 329.7 1210.0 330.0C1211.3 330.4 1212.7 330.7 1214.0 331.1C1215.3 331.4 1216.7 331.8 1218.0 332.2C1219.3 332.6 1220.7 332.9 1222.0 333.3C1223.3 333.7 1224.7 334.1 1226.0 334.5C1227.3 334.8 1228.7 335.3 1230.0 335.6C1231.3 335.9 1232.7 336.1 1234.0 336.3C1235.3 336.6 1236.7 337.0 1238.0 337.1C1239.3 337.3 1240.7 337.3 1242.0 337.4C1243.3 337.4 1244.7 337.5 1246.0 337.5C1247.3 337.5 1248.7 337.6 1250.0 337.5C1251.3 337.5 1252.7 337.3 1254.0 337.1C1255.3 337.0 1256.7 336.8 1258.0 336.7C1259.3 336.6 1260.7 336.5 1262.0 336.5C1263.3 336.4 1264.7 336.4 1266.0 336.3C1267.3 336.2 1268.7 335.8 1270.0 335.8C1271.3 335.7 1272.7 335.9 1274.0 335.9C1275.3 335.9 1276.7 336.0 1278.0 336.0C1279.3 336.1 1280.7 336.1 1282.0 336.1C1283.3 336.2 1284.7 336.2 1286.0 336.3C1287.3 336.3 1288.7 336.3 1290.0 336.3C1291.3 336.3 1292.7 336.2 1294.0 336.2C1295.3 336.1 1296.7 336.1 1298.0 336.0C1299.3 336.0 1300.7 336.0 1302.0 335.9C1303.3 335.7 1304.7 335.6 1306.0 335.3C1307.4 335.1 1308.7 334.7 1310.0 334.3C1311.3 334.0 1312.7 333.7 1314.0 333.3C1315.3 333.0 1316.7 332.8 1318.0 332.5C1319.3 332.3 1320.7 332.0 1322.0 331.9C1323.3 331.8 1324.7 331.8 1326.0 331.8C1327.3 331.8 1328.7 332.1 1330.0 332.0C1331.4 331.9 1332.7 331.5 1334.0 331.2C1335.3 331.0 1336.7 330.7 1338.0 330.4C1339.3 330.1 1340.7 329.9 1342.0 329.5C1343.4 329.1 1344.7 328.5 1346.0 328.0C1347.3 327.5 1348.7 326.9 1350.0 326.4C1351.3 325.9 1352.6 325.4 1354.0 324.9C1355.3 324.5 1356.7 324.2 1358.0 323.8C1359.3 323.4 1360.6 322.9 1362.0 322.5C1363.3 322.1 1364.7 321.9 1366.0 321.6C1367.3 321.4 1368.7 321.4 1370.0 321.2C1371.3 321.0 1372.7 320.8 1374.0 320.6C1375.3 320.4 1376.7 320.1 1378.0 319.9C1379.3 319.8 1380.7 319.9 1382.0 319.9C1383.3 319.8 1384.7 319.8 1386.0 319.8C1387.3 319.7 1388.7 319.7 1390.0 319.6C1391.3 319.5 1392.7 319.2 1394.0 319.1C1395.3 318.9 1396.7 318.7 1398.0 318.6C1399.3 318.4 1400.7 318.4 1402.0 318.1C1403.3 317.9 1404.7 317.6 1406.0 317.3C1407.3 317.0 1408.7 316.7 1410.0 316.4C1411.3 316.0 1412.7 315.7 1414.0 315.4C1415.3 315.1 1416.7 314.8 1418.0 314.5C1419.3 314.2 1420.7 313.9 1422.0 313.6C1423.3 313.3 1424.7 313.0 1426.0 312.7C1427.3 312.4 1428.7 312.1 1430.0 311.7C1431.3 311.4 1432.7 311.0 1434.0 310.7C1435.3 310.3 1436.6 309.9 1438.0 309.6C1439.3 309.4 1440.7 309.2 1442.0 309.1C1443.3 309.0 1444.7 309.0 1446.0 308.9C1447.3 308.8 1448.7 308.8 1450.0 308.7C1451.3 308.6 1452.7 308.6 1454.0 308.5C1455.3 308.4 1456.7 308.3 1458.0 308.2C1459.3 308.1 1460.7 308.1 1462.0 308.0C1463.3 307.9 1464.7 307.8 1466.0 307.7C1467.3 307.6 1468.7 307.6 1470.0 307.5C1471.3 307.4 1472.7 307.4 1474.0 307.4C1475.3 307.3 1476.7 307.3 1478.0 307.2C1479.3 307.2 1480.7 307.2 1482.0 307.1C1483.3 307.0 1484.7 306.8 1486.0 306.7C1487.3 306.6 1488.7 306.6 1490.0 306.6C1491.3 306.5 1492.7 306.6 1494.0 306.5C1495.3 306.4 1496.7 306.2 1498.0 306.1C1499.3 306.0 1500.7 306.0 1502.0 306.0C1503.3 306.0 1504.7 306.2 1506.0 306.3C1507.3 306.4 1508.7 306.5 1510.0 306.6C1511.3 306.7 1512.7 306.8 1514.0 306.8C1515.3 306.8 1516.7 306.7 1518.0 306.7C1519.3 306.7 1520.7 306.7 1522.0 306.7C1523.3 306.6 1524.7 306.6 1526.0 306.5C1527.3 306.3 1528.7 306.0 1530.0 305.9C1531.3 305.7 1532.7 305.6 1534.0 305.5C1535.3 305.3 1536.7 305.1 1538.0 304.9C1539.3 304.6 1540.7 304.2 1542.0 303.9C1543.3 303.6 1544.7 303.4 1546.0 303.1C1547.4 302.8 1548.7 302.3 1550.0 301.9C1551.3 301.5 1552.7 301.0 1554.0 300.6C1555.3 300.1 1556.7 299.7 1558.0 299.3C1559.3 298.9 1560.7 298.5 1562.0 298.1C1563.3 297.6 1564.6 297.1 1566.0 296.7C1567.3 296.3 1568.7 296.0 1570.0 295.7C1571.3 295.4 1572.7 295.1 1574.0 294.7C1575.3 294.4 1576.7 294.1 1578.0 293.7C1579.3 293.4 1580.7 293.0 1582.0 292.7C1583.3 292.4 1584.7 292.0 1586.0 291.7C1587.3 291.3 1588.7 291.0 1590.0 290.7C1591.3 290.3 1592.7 290.1 1594.0 289.8C1595.3 289.5 1596.7 289.2 1598.0 289.0C1599.3 288.7 1600.6 288.3 1602.0 288.2C1603.3 288.1 1604.7 288.2 1606.0 288.3C1607.3 288.3 1608.7 288.4 1610.0 288.6C1611.3 288.8 1612.6 289.2 1614.0 289.3C1615.3 289.4 1616.7 289.2 1618.0 289.2C1619.3 289.2 1620.7 289.1 1622.0 289.1C1623.3 289.1 1624.7 289.1 1626.0 289.1C1627.3 289.0 1628.7 289.0 1630.0 289.0C1631.3 289.0 1632.7 289.0 1634.0 289.0C1635.3 289.0 1636.7 289.0 1638.0 289.0C1639.3 289.0 1640.7 289.0 1642.0 289.1C1643.3 289.1 1644.7 289.2 1646.0 289.3C1647.3 289.3 1648.7 289.4 1650.0 289.4C1651.3 289.5 1652.7 289.5 1654.0 289.5C1655.3 289.5 1656.7 289.4 1658.0 289.5C1659.3 289.6 1660.7 289.8 1662.0 289.9C1663.3 290.0 1664.7 290.0 1666.0 290.0C1667.3 290.0 1668.7 290.0 1670.0 290.0C1671.3 290.1 1672.7 290.2 1674.0 290.3C1675.3 290.4 1676.7 290.5 1678.0 290.6C1679.3 290.6 1680.7 290.7 1682.0 290.7C1683.3 290.7 1684.7 290.7 1686.0 290.8C1687.3 290.8 1688.7 291.0 1690.0 290.9C1691.4 290.8 1692.7 290.5 1694.0 290.2C1695.3 290.0 1696.7 289.7 1698.0 289.4C1699.3 289.2 1700.7 288.8 1702.0 288.7C1703.3 288.5 1704.7 288.5 1706.0 288.5C1707.3 288.4 1708.7 288.3 1710.0 288.2C1711.0 288.1 1712.0 288.0 1713.0 287.9" fill="none" stroke="#b653de" stroke-width="0.95"/>
<path d="M70.0 763.8C94.3 765.2 120.0 776.3 142.8 768.0C145.8 766.9 147.4 763.6 149.7 761.5C152.1 759.3 154.4 756.9 157.0 755.0C170.5 745.1 185.5 737.5 200.0 729.0C203.5 726.9 207.2 725.2 210.6 723.0C216.7 719.0 222.3 714.5 228.0 710.0C236.8 703.1 245.2 695.8 253.7 688.5C265.3 678.5 276.9 668.5 288.0 658.0C298.3 648.3 308.1 638.1 318.0 628.0C332.2 613.5 346.0 598.7 360.0 584.0C380.3 562.7 401.3 542.1 420.8 520.0C431.3 508.1 440.7 495.1 451.0 483.0C458.8 473.8 466.9 464.9 475.0 456.0C482.3 447.9 489.9 440.0 497.3 432.0" fill="none" stroke="#5f68de" stroke-width="0.95"/>
<path d="M497.3 432.0C502.8 429.5 508.2 426.9 513.7 424.4C518.7 422.1 523.6 419.8 528.6 417.7C533.5 415.6 538.5 413.7 543.5 411.7C549.0 409.5 554.4 407.0 560.0 405.0C563.3 403.8 566.7 403.0 570.0 401.9C580.0 398.5 589.7 394.4 599.6 390.7C609.5 387.0 619.4 383.1 629.4 379.5C639.2 375.9 649.0 372.1 659.0 369.0C668.9 365.9 678.8 362.9 689.0 360.9C698.8 359.0 708.9 358.4 718.8 357.2C728.7 356.0 738.6 354.4 748.6 353.5C762.3 352.2 776.1 352.4 789.8 351.0C799.8 350.0 809.7 348.2 819.6 346.6C829.6 345.0 839.5 343.2 849.4 341.3C859.4 339.4 869.3 337.4 879.2 335.4C884.1 334.4 889.1 333.5 894.0 332.4C899.0 331.3 903.9 329.7 909.0 329.0C914.0 328.3 919.0 328.4 924.0 328.0C933.9 327.2 943.8 325.8 953.7 325.0C958.7 324.6 963.6 324.3 968.6 324.2C973.6 324.1 978.5 324.1 983.5 324.2C989.8 324.3 996.1 324.6 1002.4 324.6C1009.8 324.6 1017.3 324.4 1024.7 323.9C1034.7 323.2 1044.6 321.8 1054.5 320.9C1064.4 320.0 1074.4 319.5 1084.3 318.7C1094.2 318.0 1104.1 316.9 1114.0 316.4C1124.0 315.9 1133.9 315.9 1143.9 315.7C1153.8 315.5 1163.8 315.0 1173.7 315.0C1183.6 315.0 1193.6 315.2 1203.5 315.7C1212.3 316.2 1221.0 317.4 1229.8 318.0C1239.7 318.7 1249.7 319.1 1259.6 319.4C1269.5 319.7 1279.5 320.0 1289.4 320.0C1299.3 320.0 1309.3 319.6 1319.2 319.4C1329.1 319.2 1339.1 319.0 1349.0 318.7C1366.0 318.2 1383.0 317.7 1400.0 317.0C1413.3 316.4 1426.7 315.8 1440.0 315.0C1453.3 314.2 1466.7 312.9 1480.0 312.0C1500.0 310.6 1520.0 309.5 1540.0 308.0C1560.0 306.5 1580.0 304.6 1600.0 303.0C1620.0 301.4 1640.0 299.7 1660.0 298.5C1677.7 297.4 1695.3 296.8 1713.0 296.0" fill="none" stroke="#5f68de" stroke-width="0.95"/>
<path d="M70.0 767.0C81.0 768.0 92.0 769.0 103.0 770.0C116.3 771.2 129.5 772.3 142.8 773.5C143.5 771.5 144.0 769.4 145.0 767.5C146.3 765.1 148.3 763.3 149.7 761.0C154.7 752.9 159.0 744.4 163.0 735.8C168.4 724.1 172.5 711.9 177.5 700.0C199.7 647.1 225.5 595.6 246.0 542.0C250.1 531.4 252.6 520.3 256.8 509.7C258.0 506.6 259.6 503.6 261.0 500.5" fill="none" stroke="#f2b06a" stroke-width="0.95"/>
<path d="M261.0 500.5C264.3 498.9 267.5 497.0 271.0 495.6C275.5 493.8 280.4 493.0 285.0 491.4C289.7 489.7 294.7 488.3 299.0 485.8C303.1 483.4 306.6 480.3 310.0 477.0C313.7 473.5 316.5 469.2 320.0 465.5C324.8 460.3 329.7 455.2 335.0 450.5C339.8 446.3 345.0 442.6 350.0 438.6C354.9 434.7 359.8 430.7 364.7 426.7C369.7 422.7 374.5 418.5 379.6 414.7C384.4 411.1 389.5 407.7 394.5 404.3C399.4 401.0 404.4 397.7 409.4 394.6C414.3 391.5 419.0 387.9 424.3 385.7C429.0 383.8 434.0 383.0 439.0 382.0C444.0 381.0 449.0 380.2 454.0 379.7C459.0 379.2 464.0 379.1 469.0 379.0C474.0 378.9 479.0 379.2 484.0 379.0C489.0 378.8 494.0 378.5 499.0 378.0C503.9 377.5 508.8 376.6 513.7 376.0C518.7 375.4 523.6 375.0 528.6 374.5C533.6 374.0 538.5 373.5 543.5 373.0C549.0 372.5 554.5 371.8 560.0 371.5C563.3 371.3 566.7 371.8 570.0 371.3C575.1 370.5 579.8 368.2 584.7 366.8C589.6 365.4 594.6 364.2 599.6 363.0C604.6 361.8 609.5 360.6 614.5 359.4C619.5 358.2 624.5 357.2 629.4 355.7C634.4 354.2 639.3 352.0 644.3 350.5C649.1 349.0 654.0 347.7 659.0 346.7C664.0 345.7 669.0 345.2 674.0 344.5C679.0 343.8 684.0 342.9 689.0 342.3C694.0 341.7 699.0 341.4 704.0 340.8C709.0 340.2 713.9 339.2 718.8 338.5C723.8 337.7 728.7 336.9 733.7 336.3C738.7 335.7 743.6 335.0 748.6 335.0C753.6 335.0 758.5 336.0 763.5 336.3C767.3 336.6 771.2 336.9 775.0 336.9C779.9 336.9 784.9 336.7 789.8 336.0C794.9 335.2 799.7 333.4 804.7 332.4C809.6 331.4 814.6 330.6 819.6 330.0C824.5 329.4 829.6 329.3 834.5 328.7C839.5 328.1 844.4 327.2 849.4 326.4C854.4 325.7 859.4 325.3 864.3 324.2C869.4 323.1 874.2 321.1 879.2 319.7C884.1 318.3 889.0 317.0 894.0 316.0C899.0 315.0 904.0 314.4 909.0 313.8C914.0 313.3 919.0 313.1 924.0 312.7C928.9 312.3 933.9 311.7 938.8 311.2C943.8 310.7 948.7 309.9 953.7 309.7C958.7 309.5 963.7 309.3 968.6 310.0C973.7 310.7 978.6 312.3 983.5 313.8C987.4 315.0 991.1 316.7 995.0 318.0C999.9 319.6 1004.7 321.5 1009.8 322.4C1014.7 323.3 1019.7 323.6 1024.7 323.6C1029.7 323.6 1034.6 322.8 1039.6 322.4C1044.6 321.9 1049.5 321.4 1054.5 320.9C1059.5 320.4 1064.4 319.9 1069.4 319.4C1074.4 318.9 1079.4 318.6 1084.3 318.0C1089.2 317.4 1094.2 316.8 1099.0 315.7C1104.1 314.5 1109.0 312.6 1114.0 311.2C1119.0 309.8 1123.9 308.4 1129.0 307.5C1133.9 306.7 1138.9 306.0 1143.9 306.0C1148.9 306.0 1153.9 306.6 1158.8 307.5C1163.8 308.4 1168.7 310.0 1173.7 311.2C1178.7 312.5 1183.6 313.9 1188.6 315.0C1193.5 316.1 1198.5 317.2 1203.5 318.0C1207.3 318.6 1211.2 318.6 1215.0 319.4C1220.0 320.5 1224.8 322.6 1229.8 323.9C1234.7 325.1 1239.7 326.1 1244.7 326.9C1249.6 327.7 1254.6 328.2 1259.6 328.6C1264.6 328.9 1269.5 329.0 1274.5 329.0C1279.5 329.0 1284.4 328.6 1289.4 328.4C1294.4 328.2 1299.4 328.1 1304.3 327.6C1309.3 327.1 1314.3 326.3 1319.2 325.4C1324.2 324.5 1329.1 323.4 1334.0 322.4C1339.0 321.4 1344.0 320.4 1349.0 319.4C1354.0 318.4 1358.9 317.3 1363.9 316.4C1368.8 315.5 1373.8 314.9 1378.8 314.2C1383.8 313.5 1388.7 312.7 1393.7 312.0C1398.7 311.3 1403.6 310.6 1408.6 310.0C1413.6 309.4 1418.5 308.9 1423.5 308.2C1427.3 307.7 1431.2 307.0 1435.0 306.5C1439.9 305.9 1444.9 305.4 1449.8 305.0C1454.8 304.6 1459.7 304.7 1464.7 304.3C1469.7 303.9 1474.6 303.3 1479.6 302.8C1484.6 302.3 1489.6 302.0 1494.5 301.3C1499.5 300.5 1504.5 299.4 1509.4 298.3C1514.4 297.2 1519.3 295.8 1524.3 294.6C1529.2 293.4 1534.1 292.1 1539.0 290.9C1544.0 289.7 1548.9 288.2 1554.0 287.2C1559.0 286.2 1564.0 285.7 1569.0 285.0C1574.0 284.2 1579.0 283.3 1584.0 282.7C1588.9 282.1 1593.8 281.3 1598.8 281.2C1603.8 281.1 1608.7 281.9 1613.7 282.0C1618.7 282.1 1623.6 281.8 1628.6 281.7C1633.6 281.6 1638.5 280.8 1643.5 281.2C1646.4 281.4 1649.1 282.5 1652.0 282.8C1657.8 283.4 1663.7 283.4 1669.5 283.2C1673.3 283.1 1677.2 282.8 1681.0 282.3C1684.9 281.8 1688.8 280.9 1692.7 280.0C1696.6 279.1 1700.5 278.1 1704.3 277.0C1707.2 276.2 1710.1 275.1 1713.0 274.2" fill="none" stroke="#f2b06a" stroke-width="0.95"/>
<g><rect x="72.4" y="769.0" width="1" height="9.0" fill="#ff2a2a"/><rect x="70.4" y="771.0" width="5.0" height="6.0" fill="#ff2a2a"/><rect x="77.1" y="768.0" width="1" height="8.0" fill="#ff2a2a"/><rect x="75.1" y="769.5" width="5.0" height="5.5" fill="#ff2a2a"/><rect x="81.9" y="764.0" width="1" height="8.0" fill="#0cf53a"/><rect x="79.9" y="765.0" width="5.0" height="6.0" fill="#0cf53a"/><rect x="86.5" y="764.0" width="1" height="11.0" fill="#0cf53a"/><rect x="84.5" y="766.0" width="5.0" height="8.0" fill="#0cf53a"/><rect x="91.5" y="773.0" width="1" height="6.0" fill="#0cf53a"/><rect x="89.5" y="774.0" width="5.0" height="4.5" fill="#0cf53a"/><rect x="96.0" y="776.0" width="1" height="6.5" fill="#0cf53a"/><rect x="94.0" y="777.0" width="5.0" height="5.0" fill="#0cf53a"/><rect x="100.5" y="779.0" width="1" height="7.0" fill="#0cf53a"/><rect x="98.5" y="780.0" width="5.0" height="5.0" fill="#0cf53a"/><rect x="105.5" y="781.0" width="1" height="5.0" fill="#0cf53a"/><rect x="103.5" y="781.5" width="5.0" height="4.0" fill="#0cf53a"/><rect x="110.3" y="779.5" width="1" height="5.0" fill="#ff2a2a"/><rect x="108.3" y="780.0" width="5.0" height="4.0" fill="#ff2a2a"/><rect x="115.0" y="778.5" width="1" height="4.0" fill="#0cf53a"/><rect x="113.0" y="779.0" width="5.0" height="3.0" fill="#0cf53a"/><rect x="119.5" y="781.0" width="1" height="1.5" fill="#0cf53a"/><rect x="117.5" y="781.0" width="5.0" height="1.5" fill="#0cf53a"/><rect x="124.5" y="781.0" width="1" height="1.5" fill="#ff2a2a"/><rect x="122.5" y="781.0" width="5.0" height="1.5" fill="#ff2a2a"/><rect x="129.1" y="781.0" width="1" height="1.5" fill="#0cf53a"/><rect x="127.1" y="781.0" width="5.0" height="1.5" fill="#0cf53a"/><rect x="133.9" y="781.0" width="1" height="2.0" fill="#ff2a2a"/><rect x="131.9" y="781.0" width="5.0" height="1.5" fill="#ff2a2a"/><rect x="138.5" y="781.0" width="1" height="2.0" fill="#0cf53a"/><rect x="136.5" y="781.0" width="5.0" height="1.5" fill="#0cf53a"/><rect x="143.3" y="760.6" width="1" height="22.4" fill="#ff2a2a"/><rect x="141.3" y="760.6" width="5.0" height="22.2" fill="#ff2a2a"/><rect x="148.0" y="503.4" width="1" height="17.6" fill="#0cf53a"/><rect x="146.0" y="515.9" width="5.0" height="4.7" fill="#0cf53a"/><rect x="152.7" y="519.7" width="1" height="21.7" fill="#ff2a2a"/><rect x="150.7" y="521.5" width="5.0" height="4.5" fill="#ff2a2a"/><rect x="157.4" y="517.0" width="1" height="18.0" fill="#0cf53a"/><rect x="155.4" y="517.0" width="5.0" height="17.7" fill="#0cf53a"/><rect x="162.2" y="479.0" width="1" height="54.0" fill="#ff2a2a"/><rect x="160.2" y="486.0" width="5.0" height="46.4" fill="#ff2a2a"/><rect x="166.9" y="485.0" width="1" height="14.0" fill="#0cf53a"/><rect x="164.9" y="485.3" width="5.0" height="13.7" fill="#0cf53a"/><rect x="171.6" y="482.0" width="1" height="17.0" fill="#0cf53a"/><rect x="169.6" y="486.2" width="5.0" height="12.3" fill="#0cf53a"/><rect x="176.3" y="500.0" width="1" height="14.3" fill="#0cf53a"/><rect x="174.3" y="500.3" width="5.0" height="11.7" fill="#0cf53a"/><rect x="181.1" y="503.0" width="1" height="15.0" fill="#ff2a2a"/><rect x="179.1" y="503.0" width="5.0" height="15.0" fill="#ff2a2a"/><rect x="185.8" y="500.0" width="1" height="21.5" fill="#0cf53a"/><rect x="183.8" y="500.3" width="5.0" height="18.5" fill="#0cf53a"/><rect x="190.5" y="514.0" width="1" height="7.0" fill="#0cf53a"/><rect x="188.5" y="514.3" width="5.0" height="6.3" fill="#0cf53a"/><rect x="195.2" y="515.0" width="1" height="3.0" fill="#ff2a2a"/><rect x="193.2" y="515.0" width="5.0" height="3.0" fill="#ff2a2a"/><rect x="200.0" y="514.0" width="1" height="8.0" fill="#0cf53a"/><rect x="198.0" y="514.3" width="5.0" height="7.2" fill="#0cf53a"/><rect x="204.7" y="517.0" width="1" height="17.0" fill="#0cf53a"/><rect x="202.7" y="517.0" width="5.0" height="16.3" fill="#0cf53a"/><rect x="209.4" y="521.0" width="1" height="16.0" fill="#ff2a2a"/><rect x="207.4" y="521.5" width="5.0" height="10.9" fill="#ff2a2a"/><rect x="214.1" y="506.0" width="1" height="17.0" fill="#ff2a2a"/><rect x="212.1" y="506.0" width="5.0" height="16.4" fill="#ff2a2a"/><rect x="218.9" y="487.0" width="1" height="18.0" fill="#ff2a2a"/><rect x="216.9" y="487.0" width="5.0" height="18.0" fill="#ff2a2a"/><rect x="223.6" y="490.0" width="1" height="13.0" fill="#ff2a2a"/><rect x="221.6" y="491.0" width="5.0" height="11.7" fill="#ff2a2a"/><rect x="228.3" y="483.0" width="1" height="11.0" fill="#ff2a2a"/><rect x="226.3" y="483.7" width="5.0" height="10.3" fill="#ff2a2a"/><rect x="233.0" y="476.0" width="1" height="8.0" fill="#ff2a2a"/><rect x="231.0" y="477.0" width="5.0" height="7.0" fill="#ff2a2a"/><rect x="237.8" y="461.0" width="1" height="15.0" fill="#ff2a2a"/><rect x="235.8" y="462.0" width="5.0" height="14.0" fill="#ff2a2a"/><rect x="242.5" y="465.0" width="1" height="10.0" fill="#0cf53a"/><rect x="240.5" y="466.0" width="5.0" height="8.5" fill="#0cf53a"/><rect x="247.2" y="469.0" width="1" height="12.0" fill="#0cf53a"/><rect x="245.2" y="469.6" width="5.0" height="10.4" fill="#0cf53a"/><rect x="251.9" y="475.0" width="1" height="6.0" fill="#0cf53a"/><rect x="249.9" y="476.0" width="5.0" height="4.0" fill="#0cf53a"/><rect x="256.7" y="478.0" width="1" height="18.0" fill="#0cf53a"/><rect x="254.7" y="478.7" width="5.0" height="16.9" fill="#0cf53a"/><rect x="261.4" y="475.0" width="1" height="23.0" fill="#ff2a2a"/><rect x="259.4" y="476.0" width="5.0" height="21.7" fill="#ff2a2a"/><rect x="266.1" y="466.0" width="1" height="8.0" fill="#0cf53a"/><rect x="264.1" y="469.0" width="5.0" height="4.0" fill="#0cf53a"/><rect x="270.8" y="465.0" width="1" height="7.0" fill="#ff2a2a"/><rect x="268.8" y="466.0" width="5.0" height="5.7" fill="#ff2a2a"/><rect x="275.6" y="459.0" width="1" height="10.0" fill="#ff2a2a"/><rect x="273.6" y="459.7" width="5.0" height="9.3" fill="#ff2a2a"/><rect x="280.3" y="451.0" width="1" height="9.0" fill="#0cf53a"/><rect x="278.3" y="453.4" width="5.0" height="5.6" fill="#0cf53a"/><rect x="285.0" y="457.0" width="1" height="6.0" fill="#0cf53a"/><rect x="283.0" y="457.6" width="5.0" height="4.4" fill="#0cf53a"/><rect x="289.7" y="459.0" width="1" height="7.0" fill="#0cf53a"/><rect x="287.7" y="459.7" width="5.0" height="5.3" fill="#0cf53a"/><rect x="294.5" y="452.0" width="1" height="13.0" fill="#ff2a2a"/><rect x="292.5" y="452.7" width="5.0" height="11.9" fill="#ff2a2a"/><rect x="299.2" y="447.0" width="1" height="6.0" fill="#ff2a2a"/><rect x="297.2" y="447.7" width="5.0" height="4.3" fill="#ff2a2a"/><rect x="303.9" y="443.0" width="1" height="5.0" fill="#ff2a2a"/><rect x="301.9" y="444.0" width="5.0" height="3.7" fill="#ff2a2a"/><rect x="308.6" y="423.0" width="1" height="22.0" fill="#ff2a2a"/><rect x="306.6" y="423.8" width="5.0" height="21.2" fill="#ff2a2a"/><rect x="313.4" y="416.0" width="1" height="9.0" fill="#ff2a2a"/><rect x="311.4" y="416.8" width="5.0" height="8.2" fill="#ff2a2a"/><rect x="318.1" y="407.0" width="1" height="11.0" fill="#ff2a2a"/><rect x="316.1" y="407.6" width="5.0" height="10.4" fill="#ff2a2a"/><rect x="322.8" y="401.0" width="1" height="9.0" fill="#0cf53a"/><rect x="320.8" y="403.4" width="5.0" height="5.6" fill="#0cf53a"/><rect x="327.5" y="396.0" width="1" height="11.0" fill="#ff2a2a"/><rect x="325.5" y="397.0" width="5.0" height="10.0" fill="#ff2a2a"/><rect x="332.3" y="390.0" width="1" height="9.5" fill="#ff2a2a"/><rect x="330.3" y="390.0" width="5.0" height="8.5" fill="#ff2a2a"/><rect x="337.0" y="387.0" width="1" height="7.5" fill="#0cf53a"/><rect x="335.0" y="387.0" width="5.0" height="7.5" fill="#0cf53a"/><rect x="341.7" y="377.9" width="1" height="19.1" fill="#ff2a2a"/><rect x="339.7" y="377.9" width="5.0" height="19.1" fill="#ff2a2a"/><rect x="346.4" y="376.5" width="1" height="4.9" fill="#ff2a2a"/><rect x="344.4" y="376.5" width="5.0" height="3.9" fill="#ff2a2a"/><rect x="351.2" y="375.5" width="1" height="11.0" fill="#0cf53a"/><rect x="349.2" y="375.5" width="5.0" height="11.0" fill="#0cf53a"/><rect x="355.9" y="373.1" width="1" height="15.5" fill="#ff2a2a"/><rect x="353.9" y="374.1" width="5.0" height="14.5" fill="#ff2a2a"/><rect x="360.6" y="373.1" width="1" height="2.9" fill="#0cf53a"/><rect x="358.6" y="372.5" width="5.0" height="3.0" fill="#0cf53a"/><rect x="365.3" y="374.2" width="1" height="5.8" fill="#ff2a2a"/><rect x="363.3" y="374.1" width="5.0" height="3.0" fill="#ff2a2a"/><rect x="370.1" y="371.7" width="1" height="9.7" fill="#0cf53a"/><rect x="368.1" y="371.7" width="5.0" height="9.7" fill="#0cf53a"/><rect x="374.8" y="376.4" width="1" height="18.1" fill="#0cf53a"/><rect x="372.8" y="378.4" width="5.0" height="15.1" fill="#0cf53a"/><rect x="379.5" y="385.0" width="1" height="9.6" fill="#ff2a2a"/><rect x="377.5" y="386.0" width="5.0" height="7.6" fill="#ff2a2a"/><rect x="384.2" y="384.0" width="1" height="3.6" fill="#0cf53a"/><rect x="382.2" y="384.0" width="5.0" height="3.6" fill="#0cf53a"/><rect x="388.9" y="373.4" width="1" height="17.3" fill="#ff2a2a"/><rect x="386.9" y="374.4" width="5.0" height="13.3" fill="#ff2a2a"/><rect x="393.7" y="363.1" width="1" height="13.2" fill="#ff2a2a"/><rect x="391.7" y="363.1" width="5.0" height="12.2" fill="#ff2a2a"/><rect x="398.4" y="361.1" width="1" height="6.1" fill="#0cf53a"/><rect x="396.4" y="362.1" width="5.0" height="5.1" fill="#0cf53a"/><rect x="403.1" y="364.8" width="1" height="16.9" fill="#0cf53a"/><rect x="401.1" y="364.8" width="5.0" height="15.9" fill="#0cf53a"/><rect x="407.8" y="377.7" width="1" height="10.3" fill="#0cf53a"/><rect x="405.8" y="377.7" width="5.0" height="10.3" fill="#0cf53a"/><rect x="412.6" y="384.5" width="1" height="8.3" fill="#0cf53a"/><rect x="410.6" y="385.5" width="5.0" height="5.3" fill="#0cf53a"/><rect x="417.3" y="380.8" width="1" height="11.1" fill="#ff2a2a"/><rect x="415.3" y="380.8" width="5.0" height="11.1" fill="#ff2a2a"/><rect x="422.0" y="368.4" width="1" height="14.9" fill="#ff2a2a"/><rect x="420.0" y="370.4" width="5.0" height="12.9" fill="#ff2a2a"/><rect x="426.7" y="367.9" width="1" height="18.9" fill="#0cf53a"/><rect x="424.7" y="367.9" width="5.0" height="17.9" fill="#0cf53a"/><rect x="431.5" y="382.0" width="1" height="6.8" fill="#ff2a2a"/><rect x="429.5" y="383.0" width="5.0" height="3.8" fill="#ff2a2a"/><rect x="436.2" y="379.5" width="1" height="7.6" fill="#0cf53a"/><rect x="434.2" y="380.5" width="5.0" height="3.6" fill="#0cf53a"/><rect x="440.9" y="381.6" width="1" height="9.2" fill="#0cf53a"/><rect x="438.9" y="382.6" width="5.0" height="7.2" fill="#0cf53a"/><rect x="445.6" y="380.8" width="1" height="11.0" fill="#ff2a2a"/><rect x="443.6" y="380.8" width="5.0" height="11.0" fill="#ff2a2a"/><rect x="450.4" y="371.8" width="1" height="10.0" fill="#ff2a2a"/><rect x="448.4" y="374.8" width="5.0" height="7.0" fill="#ff2a2a"/><rect x="455.1" y="368.8" width="1" height="13.8" fill="#0cf53a"/><rect x="453.1" y="371.8" width="5.0" height="10.8" fill="#0cf53a"/><rect x="459.8" y="377.9" width="1" height="4.7" fill="#ff2a2a"/><rect x="457.8" y="378.9" width="5.0" height="3.7" fill="#ff2a2a"/><rect x="464.5" y="374.1" width="1" height="7.3" fill="#ff2a2a"/><rect x="462.5" y="375.1" width="5.0" height="6.3" fill="#ff2a2a"/><rect x="469.3" y="371.1" width="1" height="15.2" fill="#0cf53a"/><rect x="467.3" y="372.1" width="5.0" height="14.2" fill="#0cf53a"/><rect x="474.0" y="366.2" width="1" height="22.5" fill="#ff2a2a"/><rect x="472.0" y="366.2" width="5.0" height="22.5" fill="#ff2a2a"/><rect x="478.7" y="362.7" width="1" height="15.0" fill="#0cf53a"/><rect x="476.7" y="363.7" width="5.0" height="14.0" fill="#0cf53a"/><rect x="483.4" y="376.3" width="1" height="8.3" fill="#0cf53a"/><rect x="481.4" y="376.3" width="5.0" height="7.3" fill="#0cf53a"/><rect x="488.2" y="381.6" width="1" height="5.6" fill="#0cf53a"/><rect x="486.2" y="381.6" width="5.0" height="3.6" fill="#0cf53a"/><rect x="492.9" y="368.6" width="1" height="17.6" fill="#ff2a2a"/><rect x="490.9" y="371.6" width="5.0" height="13.6" fill="#ff2a2a"/><rect x="497.6" y="366.1" width="1" height="11.3" fill="#0cf53a"/><rect x="495.6" y="369.1" width="5.0" height="5.3" fill="#0cf53a"/><rect x="502.3" y="371.5" width="1" height="6.4" fill="#ff2a2a"/><rect x="500.3" y="371.5" width="5.0" height="4.4" fill="#ff2a2a"/><rect x="507.1" y="369.0" width="1" height="4.6" fill="#0cf53a"/><rect x="505.1" y="369.8" width="5.0" height="3.0" fill="#0cf53a"/><rect x="511.8" y="360.3" width="1" height="15.8" fill="#ff2a2a"/><rect x="509.8" y="363.3" width="5.0" height="11.8" fill="#ff2a2a"/><rect x="516.5" y="360.3" width="1" height="8.1" fill="#0cf53a"/><rect x="514.5" y="363.3" width="5.0" height="5.1" fill="#0cf53a"/><rect x="521.2" y="364.9" width="1" height="7.0" fill="#ff2a2a"/><rect x="519.2" y="365.9" width="5.0" height="4.0" fill="#ff2a2a"/><rect x="526.0" y="362.5" width="1" height="6.4" fill="#ff2a2a"/><rect x="524.0" y="362.5" width="5.0" height="6.4" fill="#ff2a2a"/><rect x="530.7" y="358.3" width="1" height="7.2" fill="#ff2a2a"/><rect x="528.7" y="360.3" width="5.0" height="5.2" fill="#ff2a2a"/><rect x="535.4" y="356.3" width="1" height="13.6" fill="#0cf53a"/><rect x="533.4" y="357.3" width="5.0" height="10.6" fill="#0cf53a"/><rect x="540.1" y="365.9" width="1" height="6.9" fill="#0cf53a"/><rect x="538.1" y="365.9" width="5.0" height="4.9" fill="#0cf53a"/><rect x="544.9" y="367.0" width="1" height="5.7" fill="#ff2a2a"/><rect x="542.9" y="369.0" width="5.0" height="3.7" fill="#ff2a2a"/><rect x="549.6" y="368.0" width="1" height="1.3" fill="#ff2a2a"/><rect x="547.6" y="368.1" width="5.0" height="3.0" fill="#ff2a2a"/><rect x="554.3" y="368.0" width="1" height="2.3" fill="#ff2a2a"/><rect x="552.3" y="368.2" width="5.0" height="3.0" fill="#ff2a2a"/><rect x="559.0" y="366.8" width="1" height="4.2" fill="#ff2a2a"/><rect x="557.0" y="366.8" width="5.0" height="4.2" fill="#ff2a2a"/><rect x="563.8" y="363.7" width="1" height="6.6" fill="#ff2a2a"/><rect x="561.8" y="363.7" width="5.0" height="4.6" fill="#ff2a2a"/><rect x="568.5" y="360.7" width="1" height="5.0" fill="#ff2a2a"/><rect x="566.5" y="361.7" width="5.0" height="3.0" fill="#ff2a2a"/><rect x="573.2" y="358.7" width="1" height="5.0" fill="#ff2a2a"/><rect x="571.2" y="358.7" width="5.0" height="5.0" fill="#ff2a2a"/><rect x="577.9" y="345.9" width="1" height="15.8" fill="#ff2a2a"/><rect x="575.9" y="346.9" width="5.0" height="13.8" fill="#ff2a2a"/><rect x="582.7" y="345.4" width="1" height="7.8" fill="#0cf53a"/><rect x="580.7" y="345.4" width="5.0" height="4.8" fill="#0cf53a"/><rect x="587.4" y="345.2" width="1" height="9.2" fill="#0cf53a"/><rect x="585.4" y="348.2" width="5.0" height="5.2" fill="#0cf53a"/><rect x="592.1" y="348.1" width="1" height="7.8" fill="#ff2a2a"/><rect x="590.1" y="350.1" width="5.0" height="4.8" fill="#ff2a2a"/><rect x="596.8" y="341.7" width="1" height="10.9" fill="#ff2a2a"/><rect x="594.8" y="343.7" width="5.0" height="7.9" fill="#ff2a2a"/><rect x="601.6" y="342.7" width="1" height="4.9" fill="#0cf53a"/><rect x="599.6" y="342.7" width="5.0" height="4.9" fill="#0cf53a"/><rect x="606.3" y="340.7" width="1" height="7.8" fill="#ff2a2a"/><rect x="604.3" y="340.7" width="5.0" height="7.8" fill="#ff2a2a"/><rect x="611.0" y="337.7" width="1" height="10.1" fill="#0cf53a"/><rect x="609.0" y="337.7" width="5.0" height="10.1" fill="#0cf53a"/><rect x="615.7" y="342.8" width="1" height="10.7" fill="#0cf53a"/><rect x="613.7" y="345.8" width="5.0" height="6.7" fill="#0cf53a"/><rect x="620.5" y="344.3" width="1" height="9.2" fill="#ff2a2a"/><rect x="618.5" y="344.3" width="5.0" height="9.2" fill="#ff2a2a"/><rect x="625.2" y="344.3" width="1" height="4.6" fill="#0cf53a"/><rect x="623.2" y="344.3" width="5.0" height="3.6" fill="#0cf53a"/><rect x="629.9" y="339.9" width="1" height="11.6" fill="#ff2a2a"/><rect x="627.9" y="339.9" width="5.0" height="10.6" fill="#ff2a2a"/><rect x="634.6" y="327.3" width="1" height="15.1" fill="#ff2a2a"/><rect x="632.6" y="327.3" width="5.0" height="15.1" fill="#ff2a2a"/><rect x="639.3" y="318.4" width="1" height="12.9" fill="#ff2a2a"/><rect x="637.3" y="321.4" width="5.0" height="8.9" fill="#ff2a2a"/><rect x="644.1" y="317.9" width="1" height="8.0" fill="#ff2a2a"/><rect x="642.1" y="319.9" width="5.0" height="4.0" fill="#ff2a2a"/><rect x="648.8" y="316.9" width="1" height="10.9" fill="#0cf53a"/><rect x="646.8" y="316.9" width="5.0" height="9.9" fill="#0cf53a"/><rect x="653.5" y="320.8" width="1" height="14.3" fill="#0cf53a"/><rect x="651.5" y="323.8" width="5.0" height="10.3" fill="#0cf53a"/><rect x="658.2" y="331.0" width="1" height="10.6" fill="#0cf53a"/><rect x="656.2" y="332.0" width="5.0" height="8.6" fill="#0cf53a"/><rect x="663.0" y="334.9" width="1" height="8.7" fill="#ff2a2a"/><rect x="661.0" y="334.9" width="5.0" height="7.7" fill="#ff2a2a"/><rect x="667.7" y="330.9" width="1" height="12.9" fill="#0cf53a"/><rect x="665.7" y="331.9" width="5.0" height="11.9" fill="#0cf53a"/><rect x="672.4" y="342.8" width="1" height="2.1" fill="#0cf53a"/><rect x="670.4" y="342.4" width="5.0" height="3.0" fill="#0cf53a"/><rect x="677.1" y="342.9" width="1" height="7.2" fill="#0cf53a"/><rect x="675.1" y="342.9" width="5.0" height="7.2" fill="#0cf53a"/><rect x="681.9" y="348.8" width="1" height="2.7" fill="#ff2a2a"/><rect x="679.9" y="349.2" width="5.0" height="3.0" fill="#ff2a2a"/><rect x="686.6" y="345.9" width="1" height="4.9" fill="#ff2a2a"/><rect x="684.6" y="345.9" width="5.0" height="3.9" fill="#ff2a2a"/><rect x="691.3" y="343.6" width="1" height="3.3" fill="#ff2a2a"/><rect x="689.3" y="344.3" width="5.0" height="3.0" fill="#ff2a2a"/><rect x="696.0" y="340.0" width="1" height="6.1" fill="#ff2a2a"/><rect x="694.0" y="341.0" width="5.0" height="5.1" fill="#ff2a2a"/><rect x="700.8" y="336.8" width="1" height="4.2" fill="#ff2a2a"/><rect x="698.8" y="338.9" width="5.0" height="3.0" fill="#ff2a2a"/><rect x="705.5" y="335.4" width="1" height="7.0" fill="#ff2a2a"/><rect x="703.5" y="336.4" width="5.0" height="6.0" fill="#ff2a2a"/><rect x="710.2" y="332.9" width="1" height="6.5" fill="#ff2a2a"/><rect x="708.2" y="332.9" width="5.0" height="6.5" fill="#ff2a2a"/><rect x="714.9" y="330.4" width="1" height="8.2" fill="#0cf53a"/><rect x="712.9" y="330.4" width="5.0" height="7.2" fill="#0cf53a"/><rect x="719.7" y="333.1" width="1" height="7.5" fill="#ff2a2a"/><rect x="717.7" y="333.1" width="5.0" height="4.5" fill="#ff2a2a"/><rect x="724.4" y="327.9" width="1" height="8.2" fill="#ff2a2a"/><rect x="722.4" y="328.9" width="5.0" height="6.2" fill="#ff2a2a"/><rect x="729.1" y="324.1" width="1" height="6.8" fill="#ff2a2a"/><rect x="727.1" y="324.1" width="5.0" height="6.8" fill="#ff2a2a"/><rect x="733.8" y="323.1" width="1" height="5.2" fill="#0cf53a"/><rect x="731.8" y="323.1" width="5.0" height="3.2" fill="#0cf53a"/><rect x="738.6" y="322.8" width="1" height="5.8" fill="#0cf53a"/><rect x="736.6" y="324.8" width="5.0" height="3.8" fill="#0cf53a"/><rect x="743.3" y="323.6" width="1" height="9.5" fill="#0cf53a"/><rect x="741.3" y="326.6" width="5.0" height="4.5" fill="#0cf53a"/><rect x="748.0" y="329.0" width="1" height="2.5" fill="#0cf53a"/><rect x="746.0" y="329.3" width="5.0" height="3.0" fill="#0cf53a"/><rect x="752.7" y="329.3" width="1" height="3.3" fill="#ff2a2a"/><rect x="750.7" y="329.9" width="5.0" height="3.0" fill="#ff2a2a"/><rect x="757.5" y="327.3" width="1" height="4.7" fill="#0cf53a"/><rect x="755.5" y="328.6" width="5.0" height="3.0" fill="#0cf53a"/><rect x="762.2" y="328.0" width="1" height="8.3" fill="#0cf53a"/><rect x="760.2" y="331.0" width="5.0" height="4.3" fill="#0cf53a"/><rect x="766.9" y="331.8" width="1" height="8.3" fill="#0cf53a"/><rect x="764.9" y="333.8" width="5.0" height="3.3" fill="#0cf53a"/><rect x="771.6" y="335.0" width="1" height="7.2" fill="#0cf53a"/><rect x="769.6" y="336.6" width="5.0" height="3.0" fill="#0cf53a"/><rect x="776.4" y="336.7" width="1" height="6.0" fill="#0cf53a"/><rect x="774.4" y="337.7" width="5.0" height="5.0" fill="#0cf53a"/><rect x="781.1" y="335.4" width="1" height="11.3" fill="#ff2a2a"/><rect x="779.1" y="335.4" width="5.0" height="8.3" fill="#ff2a2a"/><rect x="785.8" y="333.3" width="1" height="4.1" fill="#ff2a2a"/><rect x="783.8" y="333.9" width="5.0" height="3.0" fill="#ff2a2a"/><rect x="790.5" y="329.7" width="1" height="9.1" fill="#ff2a2a"/><rect x="788.5" y="329.7" width="5.0" height="7.1" fill="#ff2a2a"/><rect x="795.3" y="327.7" width="1" height="6.0" fill="#ff2a2a"/><rect x="793.3" y="328.2" width="5.0" height="3.0" fill="#ff2a2a"/><rect x="800.0" y="311.8" width="1" height="17.9" fill="#ff2a2a"/><rect x="798.0" y="314.8" width="5.0" height="14.9" fill="#ff2a2a"/><rect x="804.7" y="310.8" width="1" height="9.8" fill="#0cf53a"/><rect x="802.7" y="312.8" width="5.0" height="4.8" fill="#0cf53a"/><rect x="809.4" y="316.6" width="1" height="7.0" fill="#0cf53a"/><rect x="807.4" y="316.6" width="5.0" height="6.0" fill="#0cf53a"/><rect x="814.2" y="322.2" width="1" height="4.4" fill="#ff2a2a"/><rect x="812.2" y="321.9" width="5.0" height="3.0" fill="#ff2a2a"/><rect x="818.9" y="322.2" width="1" height="5.7" fill="#0cf53a"/><rect x="816.9" y="322.0" width="5.0" height="3.0" fill="#0cf53a"/><rect x="823.6" y="322.4" width="1" height="4.0" fill="#ff2a2a"/><rect x="821.6" y="323.4" width="5.0" height="3.0" fill="#ff2a2a"/><rect x="828.3" y="315.8" width="1" height="9.6" fill="#ff2a2a"/><rect x="826.3" y="317.8" width="5.0" height="6.6" fill="#ff2a2a"/><rect x="833.1" y="315.3" width="1" height="8.6" fill="#0cf53a"/><rect x="831.1" y="316.3" width="5.0" height="4.6" fill="#0cf53a"/><rect x="837.8" y="318.1" width="1" height="5.8" fill="#ff2a2a"/><rect x="835.8" y="318.1" width="5.0" height="5.8" fill="#ff2a2a"/><rect x="842.5" y="316.6" width="1" height="1.5" fill="#ff2a2a"/><rect x="840.5" y="315.9" width="5.0" height="3.0" fill="#ff2a2a"/><rect x="847.2" y="313.4" width="1" height="4.2" fill="#ff2a2a"/><rect x="845.2" y="314.4" width="5.0" height="3.2" fill="#ff2a2a"/><rect x="852.0" y="309.1" width="1" height="7.8" fill="#ff2a2a"/><rect x="850.0" y="309.1" width="5.0" height="6.8" fill="#ff2a2a"/><rect x="856.7" y="306.2" width="1" height="8.4" fill="#ff2a2a"/><rect x="854.7" y="307.2" width="5.0" height="4.4" fill="#ff2a2a"/><rect x="861.4" y="297.0" width="1" height="12.2" fill="#ff2a2a"/><rect x="859.4" y="298.0" width="5.0" height="9.2" fill="#ff2a2a"/><rect x="866.1" y="293.5" width="1" height="11.1" fill="#0cf53a"/><rect x="864.1" y="296.5" width="5.0" height="6.1" fill="#0cf53a"/><rect x="870.8" y="299.6" width="1" height="9.0" fill="#0cf53a"/><rect x="868.8" y="302.6" width="5.0" height="4.0" fill="#0cf53a"/><rect x="875.6" y="301.3" width="1" height="8.3" fill="#ff2a2a"/><rect x="873.6" y="302.3" width="5.0" height="4.3" fill="#ff2a2a"/><rect x="880.3" y="297.6" width="1" height="7.7" fill="#ff2a2a"/><rect x="878.3" y="300.6" width="5.0" height="4.7" fill="#ff2a2a"/><rect x="885.0" y="298.6" width="1" height="5.0" fill="#0cf53a"/><rect x="883.0" y="298.6" width="5.0" height="4.0" fill="#0cf53a"/><rect x="889.7" y="299.6" width="1" height="10.1" fill="#0cf53a"/><rect x="887.7" y="299.6" width="5.0" height="10.1" fill="#0cf53a"/><rect x="894.5" y="305.8" width="1" height="8.0" fill="#0cf53a"/><rect x="892.5" y="306.8" width="5.0" height="6.0" fill="#0cf53a"/><rect x="899.2" y="309.8" width="1" height="5.0" fill="#ff2a2a"/><rect x="897.2" y="311.7" width="5.0" height="3.0" fill="#ff2a2a"/><rect x="903.9" y="308.8" width="1" height="5.8" fill="#0cf53a"/><rect x="901.9" y="308.8" width="5.0" height="5.8" fill="#0cf53a"/><rect x="908.6" y="313.6" width="1" height="1.8" fill="#0cf53a"/><rect x="906.6" y="313.0" width="5.0" height="3.0" fill="#0cf53a"/><rect x="913.4" y="311.9" width="1" height="10.5" fill="#0cf53a"/><rect x="911.4" y="312.9" width="5.0" height="6.5" fill="#0cf53a"/><rect x="918.1" y="316.8" width="1" height="6.7" fill="#ff2a2a"/><rect x="916.1" y="316.8" width="5.0" height="5.7" fill="#ff2a2a"/><rect x="922.8" y="312.5" width="1" height="8.8" fill="#ff2a2a"/><rect x="920.8" y="313.5" width="5.0" height="5.8" fill="#ff2a2a"/><rect x="927.5" y="311.6" width="1" height="4.4" fill="#ff2a2a"/><rect x="925.5" y="311.6" width="5.0" height="3.4" fill="#ff2a2a"/><rect x="932.3" y="307.5" width="1" height="6.6" fill="#ff2a2a"/><rect x="930.3" y="307.5" width="5.0" height="6.6" fill="#ff2a2a"/><rect x="937.0" y="304.5" width="1" height="8.3" fill="#0cf53a"/><rect x="935.0" y="307.5" width="5.0" height="3.3" fill="#0cf53a"/><rect x="941.7" y="307.9" width="1" height="4.7" fill="#0cf53a"/><rect x="939.7" y="307.9" width="5.0" height="3.7" fill="#0cf53a"/><rect x="946.4" y="304.6" width="1" height="11.0" fill="#ff2a2a"/><rect x="944.4" y="304.6" width="5.0" height="10.0" fill="#ff2a2a"/><rect x="951.2" y="300.6" width="1" height="11.1" fill="#0cf53a"/><rect x="949.2" y="303.6" width="5.0" height="5.1" fill="#0cf53a"/><rect x="955.9" y="307.6" width="1" height="1.6" fill="#0cf53a"/><rect x="953.9" y="306.9" width="5.0" height="3.0" fill="#0cf53a"/><rect x="960.6" y="308.3" width="1" height="5.7" fill="#0cf53a"/><rect x="958.6" y="308.3" width="5.0" height="4.7" fill="#0cf53a"/><rect x="965.3" y="308.9" width="1" height="13.4" fill="#0cf53a"/><rect x="963.3" y="311.9" width="5.0" height="9.4" fill="#0cf53a"/><rect x="970.1" y="319.9" width="1" height="7.9" fill="#0cf53a"/><rect x="968.1" y="319.9" width="5.0" height="6.9" fill="#0cf53a"/><rect x="974.8" y="321.8" width="1" height="8.6" fill="#0cf53a"/><rect x="972.8" y="324.8" width="5.0" height="5.6" fill="#0cf53a"/><rect x="979.5" y="328.3" width="1" height="8.7" fill="#0cf53a"/><rect x="977.5" y="330.3" width="5.0" height="6.7" fill="#0cf53a"/><rect x="984.2" y="333.1" width="1" height="11.4" fill="#0cf53a"/><rect x="982.2" y="335.1" width="5.0" height="8.4" fill="#0cf53a"/><rect x="989.0" y="340.0" width="1" height="7.6" fill="#0cf53a"/><rect x="987.0" y="341.0" width="5.0" height="3.6" fill="#0cf53a"/><rect x="993.7" y="338.9" width="1" height="9.3" fill="#ff2a2a"/><rect x="991.7" y="338.9" width="5.0" height="8.3" fill="#ff2a2a"/><rect x="998.4" y="336.9" width="1" height="4.9" fill="#0cf53a"/><rect x="996.4" y="337.8" width="5.0" height="3.0" fill="#0cf53a"/><rect x="1003.1" y="333.8" width="1" height="8.0" fill="#ff2a2a"/><rect x="1001.1" y="336.8" width="5.0" height="4.0" fill="#ff2a2a"/><rect x="1007.9" y="334.8" width="1" height="7.7" fill="#0cf53a"/><rect x="1005.9" y="335.8" width="5.0" height="6.7" fill="#0cf53a"/><rect x="1012.6" y="339.7" width="1" height="3.7" fill="#ff2a2a"/><rect x="1010.6" y="339.7" width="5.0" height="3.7" fill="#ff2a2a"/><rect x="1017.3" y="327.6" width="1" height="16.2" fill="#ff2a2a"/><rect x="1015.3" y="328.6" width="5.0" height="13.2" fill="#ff2a2a"/><rect x="1022.0" y="319.8" width="1" height="8.7" fill="#ff2a2a"/><rect x="1020.0" y="320.8" width="5.0" height="7.7" fill="#ff2a2a"/><rect x="1026.8" y="310.8" width="1" height="12.6" fill="#ff2a2a"/><rect x="1024.8" y="312.8" width="5.0" height="9.6" fill="#ff2a2a"/><rect x="1031.5" y="300.3" width="1" height="16.0" fill="#ff2a2a"/><rect x="1029.5" y="301.3" width="5.0" height="14.0" fill="#ff2a2a"/><rect x="1036.2" y="300.3" width="1" height="5.2" fill="#0cf53a"/><rect x="1034.2" y="301.3" width="5.0" height="4.2" fill="#0cf53a"/><rect x="1040.9" y="304.5" width="1" height="7.4" fill="#0cf53a"/><rect x="1038.9" y="304.5" width="5.0" height="7.4" fill="#0cf53a"/><rect x="1045.7" y="307.4" width="1" height="4.5" fill="#ff2a2a"/><rect x="1043.7" y="309.6" width="5.0" height="3.0" fill="#ff2a2a"/><rect x="1050.4" y="306.5" width="1" height="7.4" fill="#ff2a2a"/><rect x="1048.4" y="307.5" width="5.0" height="5.4" fill="#ff2a2a"/><rect x="1055.1" y="304.0" width="1" height="3.5" fill="#0cf53a"/><rect x="1053.1" y="304.8" width="5.0" height="3.0" fill="#0cf53a"/><rect x="1059.8" y="303.5" width="1" height="4.0" fill="#0cf53a"/><rect x="1057.8" y="305.0" width="5.0" height="3.0" fill="#0cf53a"/><rect x="1064.6" y="299.8" width="1" height="10.7" fill="#ff2a2a"/><rect x="1062.6" y="300.8" width="5.0" height="8.7" fill="#ff2a2a"/><rect x="1069.3" y="297.1" width="1" height="5.6" fill="#ff2a2a"/><rect x="1067.3" y="298.1" width="5.0" height="4.6" fill="#ff2a2a"/><rect x="1074.0" y="294.1" width="1" height="8.1" fill="#0cf53a"/><rect x="1072.0" y="295.1" width="5.0" height="7.1" fill="#0cf53a"/><rect x="1078.7" y="299.7" width="1" height="10.8" fill="#0cf53a"/><rect x="1076.7" y="299.7" width="5.0" height="7.8" fill="#0cf53a"/><rect x="1083.5" y="305.5" width="1" height="3.5" fill="#0cf53a"/><rect x="1081.5" y="305.3" width="5.0" height="3.0" fill="#0cf53a"/><rect x="1088.2" y="304.4" width="1" height="4.6" fill="#ff2a2a"/><rect x="1086.2" y="305.2" width="5.0" height="3.0" fill="#ff2a2a"/><rect x="1092.9" y="303.9" width="1" height="4.8" fill="#0cf53a"/><rect x="1090.9" y="303.8" width="5.0" height="3.0" fill="#0cf53a"/><rect x="1097.6" y="304.7" width="1" height="2.7" fill="#0cf53a"/><rect x="1095.6" y="305.1" width="5.0" height="3.0" fill="#0cf53a"/><rect x="1102.3" y="304.7" width="1" height="3.7" fill="#ff2a2a"/><rect x="1100.3" y="306.1" width="5.0" height="3.0" fill="#ff2a2a"/><rect x="1107.1" y="303.7" width="1" height="5.9" fill="#0cf53a"/><rect x="1105.1" y="306.7" width="5.0" height="3.0" fill="#0cf53a"/><rect x="1111.8" y="306.3" width="1" height="8.4" fill="#ff2a2a"/><rect x="1109.8" y="308.3" width="5.0" height="4.4" fill="#ff2a2a"/><rect x="1116.5" y="307.5" width="1" height="2.3" fill="#ff2a2a"/><rect x="1114.5" y="307.1" width="5.0" height="3.0" fill="#ff2a2a"/><rect x="1121.2" y="305.5" width="1" height="3.5" fill="#0cf53a"/><rect x="1119.2" y="306.2" width="5.0" height="3.0" fill="#0cf53a"/><rect x="1126.0" y="307.6" width="1" height="5.4" fill="#ff2a2a"/><rect x="1124.0" y="307.6" width="5.0" height="4.4" fill="#ff2a2a"/><rect x="1130.7" y="304.6" width="1" height="7.0" fill="#ff2a2a"/><rect x="1128.7" y="304.6" width="5.0" height="5.0" fill="#ff2a2a"/><rect x="1135.4" y="303.9" width="1" height="3.6" fill="#ff2a2a"/><rect x="1133.4" y="303.2" width="5.0" height="3.0" fill="#ff2a2a"/><rect x="1140.1" y="300.9" width="1" height="6.6" fill="#0cf53a"/><rect x="1138.1" y="301.9" width="5.0" height="4.6" fill="#0cf53a"/><rect x="1144.9" y="304.0" width="1" height="6.5" fill="#0cf53a"/><rect x="1142.9" y="305.0" width="5.0" height="5.5" fill="#0cf53a"/><rect x="1149.6" y="309.0" width="1" height="4.6" fill="#0cf53a"/><rect x="1147.6" y="309.0" width="5.0" height="4.6" fill="#0cf53a"/><rect x="1154.3" y="310.6" width="1" height="7.3" fill="#0cf53a"/><rect x="1152.3" y="310.6" width="5.0" height="7.3" fill="#0cf53a"/><rect x="1159.0" y="315.3" width="1" height="6.5" fill="#0cf53a"/><rect x="1157.0" y="316.3" width="5.0" height="4.5" fill="#0cf53a"/><rect x="1163.8" y="316.9" width="1" height="8.4" fill="#0cf53a"/><rect x="1161.8" y="318.9" width="5.0" height="6.4" fill="#0cf53a"/><rect x="1168.5" y="323.1" width="1" height="5.1" fill="#ff2a2a"/><rect x="1166.5" y="323.1" width="5.0" height="4.1" fill="#ff2a2a"/><rect x="1173.2" y="320.0" width="1" height="6.6" fill="#ff2a2a"/><rect x="1171.2" y="320.0" width="5.0" height="5.6" fill="#ff2a2a"/><rect x="1177.9" y="320.0" width="1" height="5.1" fill="#0cf53a"/><rect x="1175.9" y="319.6" width="5.0" height="3.0" fill="#0cf53a"/><rect x="1182.7" y="321.1" width="1" height="5.5" fill="#0cf53a"/><rect x="1180.7" y="321.1" width="5.0" height="5.5" fill="#0cf53a"/><rect x="1187.4" y="325.1" width="1" height="7.6" fill="#0cf53a"/><rect x="1185.4" y="325.1" width="5.0" height="7.6" fill="#0cf53a"/><rect x="1192.1" y="331.7" width="1" height="8.2" fill="#0cf53a"/><rect x="1190.1" y="331.7" width="5.0" height="5.2" fill="#0cf53a"/><rect x="1196.8" y="332.9" width="1" height="9.8" fill="#0cf53a"/><rect x="1194.8" y="335.9" width="5.0" height="5.8" fill="#0cf53a"/><rect x="1201.6" y="336.9" width="1" height="7.7" fill="#ff2a2a"/><rect x="1199.6" y="339.9" width="5.0" height="4.7" fill="#ff2a2a"/><rect x="1206.3" y="334.1" width="1" height="8.8" fill="#ff2a2a"/><rect x="1204.3" y="334.1" width="5.0" height="7.8" fill="#ff2a2a"/><rect x="1211.0" y="327.7" width="1" height="10.0" fill="#ff2a2a"/><rect x="1209.0" y="328.7" width="5.0" height="8.0" fill="#ff2a2a"/><rect x="1215.7" y="325.7" width="1" height="5.9" fill="#0cf53a"/><rect x="1213.7" y="325.7" width="5.0" height="5.9" fill="#0cf53a"/><rect x="1220.5" y="331.3" width="1" height="4.8" fill="#ff2a2a"/><rect x="1218.5" y="330.7" width="5.0" height="3.0" fill="#ff2a2a"/><rect x="1225.2" y="328.3" width="1" height="6.8" fill="#0cf53a"/><rect x="1223.2" y="328.3" width="5.0" height="5.8" fill="#0cf53a"/><rect x="1229.9" y="334.1" width="1" height="4.5" fill="#0cf53a"/><rect x="1227.9" y="334.1" width="5.0" height="4.5" fill="#0cf53a"/><rect x="1234.6" y="335.6" width="1" height="7.0" fill="#0cf53a"/><rect x="1232.6" y="335.6" width="5.0" height="4.0" fill="#0cf53a"/><rect x="1239.4" y="335.3" width="1" height="6.7" fill="#ff2a2a"/><rect x="1237.4" y="335.3" width="5.0" height="5.7" fill="#ff2a2a"/><rect x="1244.1" y="329.5" width="1" height="6.8" fill="#ff2a2a"/><rect x="1242.1" y="329.5" width="5.0" height="6.8" fill="#ff2a2a"/><rect x="1248.8" y="325.1" width="1" height="4.4" fill="#ff2a2a"/><rect x="1246.8" y="326.1" width="5.0" height="3.4" fill="#ff2a2a"/><rect x="1253.5" y="321.3" width="1" height="7.4" fill="#ff2a2a"/><rect x="1251.5" y="322.3" width="5.0" height="5.4" fill="#ff2a2a"/><rect x="1258.3" y="318.3" width="1" height="5.5" fill="#ff2a2a"/><rect x="1256.3" y="319.3" width="5.0" height="4.5" fill="#ff2a2a"/><rect x="1263.0" y="317.4" width="1" height="3.9" fill="#ff2a2a"/><rect x="1261.0" y="317.5" width="5.0" height="3.0" fill="#ff2a2a"/><rect x="1267.7" y="317.0" width="1" height="2.4" fill="#ff2a2a"/><rect x="1265.7" y="316.7" width="5.0" height="3.0" fill="#ff2a2a"/><rect x="1272.4" y="316.9" width="1" height="1.6" fill="#ff2a2a"/><rect x="1270.4" y="316.2" width="5.0" height="3.0" fill="#ff2a2a"/><rect x="1277.2" y="315.9" width="1" height="6.0" fill="#0cf53a"/><rect x="1275.2" y="315.9" width="5.0" height="4.0" fill="#0cf53a"/><rect x="1281.9" y="318.7" width="1" height="5.7" fill="#ff2a2a"/><rect x="1279.9" y="319.1" width="5.0" height="3.0" fill="#ff2a2a"/><rect x="1286.6" y="318.7" width="1" height="5.2" fill="#0cf53a"/><rect x="1284.6" y="318.7" width="5.0" height="4.2" fill="#0cf53a"/><rect x="1291.3" y="320.4" width="1" height="5.1" fill="#ff2a2a"/><rect x="1289.3" y="322.4" width="5.0" height="3.1" fill="#ff2a2a"/><rect x="1296.1" y="321.6" width="1" height="5.2" fill="#ff2a2a"/><rect x="1294.1" y="321.3" width="5.0" height="3.0" fill="#ff2a2a"/><rect x="1300.8" y="321.6" width="1" height="1.4" fill="#0cf53a"/><rect x="1298.8" y="320.8" width="5.0" height="3.0" fill="#0cf53a"/><rect x="1305.5" y="321.5" width="1" height="3.5" fill="#ff2a2a"/><rect x="1303.5" y="320.8" width="5.0" height="3.0" fill="#ff2a2a"/><rect x="1310.2" y="318.8" width="1" height="5.2" fill="#ff2a2a"/><rect x="1308.2" y="319.8" width="5.0" height="4.2" fill="#ff2a2a"/><rect x="1315.0" y="316.3" width="1" height="3.6" fill="#0cf53a"/><rect x="1313.0" y="317.1" width="5.0" height="3.0" fill="#0cf53a"/><rect x="1319.7" y="318.3" width="1" height="5.6" fill="#ff2a2a"/><rect x="1317.7" y="318.3" width="5.0" height="3.6" fill="#ff2a2a"/><rect x="1324.4" y="310.9" width="1" height="12.4" fill="#ff2a2a"/><rect x="1322.4" y="311.9" width="5.0" height="9.4" fill="#ff2a2a"/><rect x="1329.1" y="304.6" width="1" height="12.3" fill="#ff2a2a"/><rect x="1327.1" y="305.6" width="5.0" height="8.3" fill="#ff2a2a"/><rect x="1333.8" y="302.6" width="1" height="7.8" fill="#0cf53a"/><rect x="1331.8" y="303.6" width="5.0" height="6.8" fill="#0cf53a"/><rect x="1338.6" y="309.7" width="1" height="3.7" fill="#ff2a2a"/><rect x="1336.6" y="309.7" width="5.0" height="3.7" fill="#ff2a2a"/><rect x="1343.3" y="309.6" width="1" height="4.6" fill="#ff2a2a"/><rect x="1341.3" y="308.9" width="5.0" height="3.0" fill="#ff2a2a"/><rect x="1348.0" y="307.4" width="1" height="7.1" fill="#ff2a2a"/><rect x="1346.0" y="309.4" width="5.0" height="3.1" fill="#ff2a2a"/><rect x="1352.7" y="307.4" width="1" height="3.1" fill="#0cf53a"/><rect x="1350.7" y="308.0" width="5.0" height="3.0" fill="#0cf53a"/><rect x="1357.5" y="302.9" width="1" height="7.7" fill="#ff2a2a"/><rect x="1355.5" y="305.9" width="5.0" height="4.7" fill="#ff2a2a"/><rect x="1362.2" y="305.5" width="1" height="2.4" fill="#ff2a2a"/><rect x="1360.2" y="304.6" width="5.0" height="3.0" fill="#ff2a2a"/><rect x="1366.9" y="302.5" width="1" height="4.9" fill="#0cf53a"/><rect x="1364.9" y="302.5" width="5.0" height="3.9" fill="#0cf53a"/><rect x="1371.6" y="305.4" width="1" height="2.2" fill="#0cf53a"/><rect x="1369.6" y="305.0" width="5.0" height="3.0" fill="#0cf53a"/><rect x="1376.4" y="301.6" width="1" height="7.4" fill="#0cf53a"/><rect x="1374.4" y="304.6" width="5.0" height="3.4" fill="#0cf53a"/><rect x="1381.1" y="302.3" width="1" height="8.2" fill="#ff2a2a"/><rect x="1379.1" y="304.3" width="5.0" height="6.2" fill="#ff2a2a"/><rect x="1385.8" y="302.3" width="1" height="6.5" fill="#ff2a2a"/><rect x="1383.8" y="302.3" width="5.0" height="4.5" fill="#ff2a2a"/><rect x="1390.5" y="299.6" width="1" height="5.2" fill="#ff2a2a"/><rect x="1388.5" y="299.6" width="5.0" height="4.2" fill="#ff2a2a"/><rect x="1395.3" y="298.6" width="1" height="2.4" fill="#0cf53a"/><rect x="1393.3" y="298.3" width="5.0" height="3.0" fill="#0cf53a"/><rect x="1400.0" y="299.0" width="1" height="3.5" fill="#0cf53a"/><rect x="1398.0" y="299.0" width="5.0" height="3.5" fill="#0cf53a"/><rect x="1404.7" y="301.0" width="1" height="3.8" fill="#0cf53a"/><rect x="1402.7" y="300.9" width="5.0" height="3.0" fill="#0cf53a"/><rect x="1409.4" y="302.3" width="1" height="1.8" fill="#0cf53a"/><rect x="1407.4" y="301.7" width="5.0" height="3.0" fill="#0cf53a"/><rect x="1414.2" y="302.6" width="1" height="4.1" fill="#0cf53a"/><rect x="1412.2" y="302.6" width="5.0" height="4.1" fill="#0cf53a"/><rect x="1418.9" y="305.9" width="1" height="1.8" fill="#ff2a2a"/><rect x="1416.9" y="305.3" width="5.0" height="3.0" fill="#ff2a2a"/><rect x="1423.6" y="304.9" width="1" height="4.0" fill="#ff2a2a"/><rect x="1421.6" y="304.9" width="5.0" height="3.0" fill="#ff2a2a"/><rect x="1428.3" y="303.0" width="1" height="5.4" fill="#ff2a2a"/><rect x="1426.3" y="303.7" width="5.0" height="3.0" fill="#ff2a2a"/><rect x="1433.1" y="303.0" width="1" height="5.9" fill="#0cf53a"/><rect x="1431.1" y="303.0" width="5.0" height="4.9" fill="#0cf53a"/><rect x="1437.8" y="306.0" width="1" height="1.9" fill="#ff2a2a"/><rect x="1435.8" y="305.5" width="5.0" height="3.0" fill="#ff2a2a"/><rect x="1442.5" y="305.1" width="1" height="1.9" fill="#ff2a2a"/><rect x="1440.5" y="304.2" width="5.0" height="3.0" fill="#ff2a2a"/><rect x="1447.2" y="300.1" width="1" height="8.5" fill="#ff2a2a"/><rect x="1445.2" y="300.1" width="5.0" height="7.5" fill="#ff2a2a"/><rect x="1452.0" y="300.1" width="1" height="4.7" fill="#0cf53a"/><rect x="1450.0" y="300.1" width="5.0" height="4.7" fill="#0cf53a"/><rect x="1456.7" y="301.9" width="1" height="5.8" fill="#ff2a2a"/><rect x="1454.7" y="301.9" width="5.0" height="5.8" fill="#ff2a2a"/><rect x="1461.4" y="298.0" width="1" height="9.4" fill="#ff2a2a"/><rect x="1459.4" y="299.0" width="5.0" height="5.4" fill="#ff2a2a"/><rect x="1466.1" y="296.7" width="1" height="5.2" fill="#ff2a2a"/><rect x="1464.1" y="297.9" width="5.0" height="3.0" fill="#ff2a2a"/><rect x="1470.9" y="295.2" width="1" height="9.7" fill="#0cf53a"/><rect x="1468.9" y="296.2" width="5.0" height="5.7" fill="#0cf53a"/><rect x="1475.6" y="297.9" width="1" height="6.6" fill="#ff2a2a"/><rect x="1473.6" y="299.9" width="5.0" height="3.6" fill="#ff2a2a"/><rect x="1480.3" y="299.0" width="1" height="3.9" fill="#ff2a2a"/><rect x="1478.3" y="298.5" width="5.0" height="3.0" fill="#ff2a2a"/><rect x="1485.0" y="294.9" width="1" height="6.6" fill="#ff2a2a"/><rect x="1483.0" y="296.9" width="5.0" height="4.6" fill="#ff2a2a"/><rect x="1489.8" y="292.0" width="1" height="8.0" fill="#ff2a2a"/><rect x="1487.8" y="294.5" width="5.0" height="3.0" fill="#ff2a2a"/><rect x="1494.5" y="286.3" width="1" height="13.7" fill="#ff2a2a"/><rect x="1492.5" y="287.3" width="5.0" height="10.7" fill="#ff2a2a"/><rect x="1499.2" y="279.7" width="1" height="11.5" fill="#ff2a2a"/><rect x="1497.2" y="281.7" width="5.0" height="7.5" fill="#ff2a2a"/><rect x="1503.9" y="279.2" width="1" height="6.8" fill="#0cf53a"/><rect x="1501.9" y="279.2" width="5.0" height="5.8" fill="#0cf53a"/><rect x="1508.7" y="281.6" width="1" height="7.1" fill="#0cf53a"/><rect x="1506.7" y="282.6" width="5.0" height="3.1" fill="#0cf53a"/><rect x="1513.4" y="280.0" width="1" height="7.6" fill="#ff2a2a"/><rect x="1511.4" y="282.8" width="5.0" height="3.0" fill="#ff2a2a"/><rect x="1518.1" y="271.8" width="1" height="15.7" fill="#ff2a2a"/><rect x="1516.1" y="274.8" width="5.0" height="10.7" fill="#ff2a2a"/><rect x="1522.8" y="269.8" width="1" height="7.9" fill="#0cf53a"/><rect x="1520.8" y="271.8" width="5.0" height="3.9" fill="#0cf53a"/><rect x="1527.6" y="272.7" width="1" height="3.9" fill="#ff2a2a"/><rect x="1525.6" y="272.7" width="5.0" height="3.9" fill="#ff2a2a"/><rect x="1532.3" y="272.0" width="1" height="2.7" fill="#ff2a2a"/><rect x="1530.3" y="271.1" width="5.0" height="3.0" fill="#ff2a2a"/><rect x="1537.0" y="270.5" width="1" height="4.9" fill="#0cf53a"/><rect x="1535.0" y="270.5" width="5.0" height="3.9" fill="#0cf53a"/><rect x="1541.7" y="272.1" width="1" height="4.3" fill="#ff2a2a"/><rect x="1539.7" y="273.1" width="5.0" height="3.3" fill="#ff2a2a"/><rect x="1546.5" y="270.1" width="1" height="6.4" fill="#0cf53a"/><rect x="1544.5" y="270.1" width="5.0" height="4.4" fill="#0cf53a"/><rect x="1551.2" y="271.8" width="1" height="5.1" fill="#ff2a2a"/><rect x="1549.2" y="273.8" width="5.0" height="3.1" fill="#ff2a2a"/><rect x="1555.9" y="273.8" width="1" height="2.0" fill="#ff2a2a"/><rect x="1553.9" y="273.3" width="5.0" height="3.0" fill="#ff2a2a"/><rect x="1560.6" y="269.9" width="1" height="5.9" fill="#ff2a2a"/><rect x="1558.6" y="272.8" width="5.0" height="3.0" fill="#ff2a2a"/><rect x="1565.3" y="271.8" width="1" height="5.0" fill="#ff2a2a"/><rect x="1563.3" y="272.8" width="5.0" height="3.0" fill="#ff2a2a"/><rect x="1570.1" y="270.8" width="1" height="14.5" fill="#0cf53a"/><rect x="1568.1" y="272.8" width="5.0" height="11.5" fill="#0cf53a"/><rect x="1574.8" y="282.4" width="1" height="13.7" fill="#0cf53a"/><rect x="1572.8" y="284.4" width="5.0" height="9.7" fill="#0cf53a"/><rect x="1579.5" y="286.0" width="1" height="13.1" fill="#ff2a2a"/><rect x="1577.5" y="286.0" width="5.0" height="10.1" fill="#ff2a2a"/><rect x="1584.2" y="283.0" width="1" height="7.0" fill="#0cf53a"/><rect x="1582.2" y="286.0" width="5.0" height="4.0" fill="#0cf53a"/><rect x="1589.0" y="287.5" width="1" height="6.5" fill="#ff2a2a"/><rect x="1587.0" y="288.7" width="5.0" height="3.0" fill="#ff2a2a"/><rect x="1593.7" y="288.5" width="1" height="3.5" fill="#0cf53a"/><rect x="1591.7" y="287.7" width="5.0" height="3.0" fill="#0cf53a"/><rect x="1598.4" y="287.5" width="1" height="6.5" fill="#ff2a2a"/><rect x="1596.4" y="288.5" width="5.0" height="4.5" fill="#ff2a2a"/><rect x="1603.1" y="288.0" width="1" height="3.5" fill="#ff2a2a"/><rect x="1601.1" y="287.8" width="5.0" height="3.0" fill="#ff2a2a"/><rect x="1607.9" y="285.0" width="1" height="10.3" fill="#0cf53a"/><rect x="1605.9" y="285.0" width="5.0" height="7.3" fill="#0cf53a"/><rect x="1612.6" y="291.4" width="1" height="8.0" fill="#0cf53a"/><rect x="1610.6" y="292.4" width="5.0" height="5.0" fill="#0cf53a"/><rect x="1617.3" y="286.2" width="1" height="14.2" fill="#ff2a2a"/><rect x="1615.3" y="286.2" width="5.0" height="14.2" fill="#ff2a2a"/><rect x="1622.0" y="282.5" width="1" height="6.2" fill="#ff2a2a"/><rect x="1620.0" y="282.5" width="5.0" height="6.2" fill="#ff2a2a"/><rect x="1626.8" y="279.0" width="1" height="5.9" fill="#0cf53a"/><rect x="1624.8" y="280.5" width="5.0" height="3.0" fill="#0cf53a"/><rect x="1631.5" y="279.9" width="1" height="6.3" fill="#0cf53a"/><rect x="1629.5" y="279.9" width="5.0" height="5.3" fill="#0cf53a"/><rect x="1636.2" y="282.9" width="1" height="4.8" fill="#ff2a2a"/><rect x="1634.2" y="282.9" width="5.0" height="4.8" fill="#ff2a2a"/><rect x="1640.9" y="280.7" width="1" height="5.2" fill="#ff2a2a"/><rect x="1638.9" y="280.7" width="5.0" height="4.2" fill="#ff2a2a"/><rect x="1645.7" y="277.2" width="1" height="5.6" fill="#0cf53a"/><rect x="1643.7" y="279.2" width="5.0" height="3.6" fill="#0cf53a"/><rect x="1650.4" y="281.8" width="1" height="5.9" fill="#ff2a2a"/><rect x="1648.4" y="281.8" width="5.0" height="3.9" fill="#ff2a2a"/><rect x="1655.1" y="280.8" width="1" height="5.1" fill="#ff2a2a"/><rect x="1653.1" y="280.8" width="5.0" height="3.1" fill="#ff2a2a"/><rect x="1659.8" y="280.1" width="1" height="4.2" fill="#ff2a2a"/><rect x="1657.8" y="280.1" width="5.0" height="3.2" fill="#ff2a2a"/><rect x="1664.6" y="271.4" width="1" height="13.7" fill="#ff2a2a"/><rect x="1662.6" y="272.4" width="5.0" height="9.7" fill="#ff2a2a"/><rect x="1669.3" y="269.4" width="1" height="2.9" fill="#ff2a2a"/><rect x="1667.3" y="269.9" width="5.0" height="3.0" fill="#ff2a2a"/><rect x="1674.0" y="265.7" width="1" height="7.2" fill="#ff2a2a"/><rect x="1672.0" y="265.7" width="5.0" height="6.2" fill="#ff2a2a"/><rect x="1678.7" y="258.8" width="1" height="7.9" fill="#ff2a2a"/><rect x="1676.7" y="258.8" width="5.0" height="6.9" fill="#ff2a2a"/><rect x="1683.5" y="255.8" width="1" height="7.7" fill="#0cf53a"/><rect x="1681.5" y="258.8" width="5.0" height="3.7" fill="#0cf53a"/><rect x="1688.2" y="262.0" width="1" height="3.6" fill="#ff2a2a"/><rect x="1686.2" y="261.8" width="5.0" height="3.0" fill="#ff2a2a"/><rect x="1692.9" y="261.7" width="1" height="1.0" fill="#0cf53a"/><rect x="1690.9" y="261.7" width="5.0" height="2.0" fill="#0cf53a"/><rect x="1697.6" y="261.7" width="1" height="1.0" fill="#0cf53a"/><rect x="1695.6" y="261.7" width="5.0" height="2.0" fill="#0cf53a"/><rect x="1702.4" y="261.7" width="1" height="1.0" fill="#0cf53a"/><rect x="1700.4" y="261.7" width="5.0" height="2.0" fill="#0cf53a"/><rect x="1707.1" y="261.7" width="1" height="1.0" fill="#0cf53a"/><rect x="1705.1" y="261.7" width="5.0" height="2.0" fill="#0cf53a"/><rect x="1711.8" y="234.2" width="1" height="28.4" fill="#f7e92f"/><rect x="1709.5" y="237.2" width="5.6" height="25.4" fill="#f7e92f"/></g>
<polyline points="72.9,771.0 77.6,770.2 82.4,770.5 87.0,771.4 92.0,772.8 96.5,775.0 101.0,778.1 106.0,781.0 110.8,782.2 115.5,782.9 120.0,783.0 125.0,782.2 129.6,781.6 134.4,781.8 139.0,781.9 143.8,777.5 148.5,725.4 153.2,673.2 157.9,624.0 162.7,564.7 167.4,512.4 172.1,507.9 176.8,506.0 181.6,499.7 186.3,506.3 191.0,510.6 195.7,513.9 200.5,515.8 205.2,521.8 209.9,522.4 214.6,519.5 219.4,513.9 224.1,507.8 228.8,497.8 233.5,488.9 238.3,480.1 243.0,477.6 247.7,475.4 252.4,474.7 257.2,478.4 261.9,481.2 266.6,480.9 271.3,478.1 276.1,474.1 280.8,466.7 285.5,463.9 290.2,462.3 295.0,459.7 299.7,457.3 304.4,454.3 309.1,446.6 313.9,437.0 318.6,428.0 323.3,420.2 328.0,410.8 332.8,404.1 337.5,399.6 342.2,393.7 346.9,387.2 351.7,385.1 356.4,381.9 361.1,378.0 365.8,377.3 370.6,378.2 375.3,379.6 380.0,382.0 384.7,384.6 389.4,384.6 394.2,380.9 398.9,375.7 403.6,374.6 408.3,374.7 413.1,378.0 417.8,381.5 422.5,382.2 427.2,383.2 432.0,382.2 436.7,380.8 441.4,382.6 446.1,384.7 450.9,382.5 455.6,382.4 460.3,381.4 465.0,378.4 469.8,379.5 474.5,377.8 479.2,376.9 483.9,377.8 488.7,379.8 493.4,376.9 498.1,378.5 502.8,377.3 507.6,375.1 512.3,370.7 517.0,370.1 521.7,368.4 526.5,366.6 531.2,364.1 535.9,365.0 540.6,365.5 545.4,366.1 550.1,367.4 554.8,369.2 559.5,369.0 564.3,367.6 569.0,366.1 573.7,364.0 578.4,359.5 583.2,356.2 587.9,354.2 592.6,351.8 597.3,348.9 602.1,349.0 606.8,347.1 611.5,346.0 616.2,346.5 621.0,346.6 625.7,346.7 630.4,346.5 635.1,342.4 639.8,336.2 644.6,331.3 649.3,327.0 654.0,325.9 658.7,328.5 663.5,331.2 668.2,336.0 672.9,339.7 677.6,342.9 682.4,344.7 687.1,346.9 691.8,347.1 696.5,346.3 701.3,344.2 706.0,341.5 710.7,338.9 715.4,337.5 720.2,335.9 724.9,333.8 729.6,331.3 734.3,330.0 739.1,328.2 743.8,327.8 748.5,328.3 753.2,329.5 758.0,330.5 762.7,331.8 767.4,333.0 772.1,334.5 776.9,337.0 781.6,337.9 786.3,337.7 791.0,336.2 795.8,334.2 800.5,328.6 805.2,325.0 809.9,322.7 814.7,321.2 819.4,320.4 824.1,322.1 828.8,322.1 833.6,321.8 838.3,321.0 843.0,319.3 847.7,317.5 852.5,315.8 857.2,313.1 861.9,309.0 866.6,306.2 871.3,304.7 876.1,303.3 880.8,302.0 885.5,303.0 890.2,304.4 895.0,305.6 899.7,307.5 904.4,310.3 909.1,312.9 913.9,314.8 918.6,315.6 923.3,316.0 928.0,315.4 932.8,313.8 937.5,312.1 942.2,311.0 946.9,309.2 951.7,308.6 956.4,309.0 961.1,309.4 965.8,311.3 970.6,315.8 975.3,320.1 980.0,325.7 984.7,331.8 989.5,336.5 994.2,338.9 998.9,341.0 1003.6,340.9 1008.4,340.7 1013.1,339.7 1017.8,337.7 1022.5,333.7 1027.3,328.9 1032.0,320.6 1036.7,313.8 1041.4,310.4 1046.2,308.4 1050.9,307.3 1055.6,308.5 1060.3,309.0 1065.1,306.7 1069.8,304.3 1074.5,303.2 1079.2,303.2 1084.0,303.3 1088.7,304.3 1093.4,306.0 1098.1,307.0 1102.8,306.9 1107.6,307.2 1112.3,307.8 1117.0,307.9 1121.7,308.2 1126.5,308.4 1131.2,307.4 1135.9,306.5 1140.6,306.3 1145.4,306.6 1150.1,307.8 1154.8,310.5 1159.5,313.9 1164.3,317.6 1169.0,320.1 1173.7,321.4 1178.4,322.3 1183.2,323.4 1187.9,324.9 1192.6,327.6 1197.3,332.0 1202.1,335.5 1206.8,337.0 1211.5,336.2 1216.2,335.2 1221.0,333.1 1225.7,332.0 1230.4,332.8 1235.1,335.0 1239.9,335.8 1244.6,335.4 1249.3,333.8 1254.0,330.6 1258.8,326.5 1263.5,323.1 1268.2,320.6 1272.9,318.8 1277.7,318.3 1282.4,318.4 1287.1,319.3 1291.8,320.4 1296.6,321.3 1301.3,321.9 1306.0,322.3 1310.7,321.7 1315.5,321.2 1320.2,320.5 1324.9,318.3 1329.6,315.1 1334.3,313.2 1339.1,311.2 1343.8,309.4 1348.5,309.0 1353.2,309.9 1358.0,309.0 1362.7,308.2 1367.4,307.5 1372.1,307.2 1376.9,306.7 1381.6,306.4 1386.3,305.7 1391.0,304.4 1395.8,303.1 1400.5,302.0 1405.2,301.9 1409.9,302.2 1414.7,303.6 1419.4,304.6 1424.1,305.1 1428.8,305.1 1433.6,305.9 1438.3,305.8 1443.0,305.6 1447.7,304.6 1452.5,304.8 1457.2,303.6 1461.9,302.1 1466.6,300.9 1471.4,301.3 1476.1,300.3 1480.8,299.7 1485.5,299.3 1490.3,298.6 1495.0,295.6 1499.7,292.0 1504.4,289.2 1509.2,286.9 1513.9,284.5 1518.6,282.0 1523.3,280.8 1528.1,278.4 1532.8,275.6 1537.5,273.9 1542.2,273.6 1547.0,273.3 1551.7,273.6 1556.4,273.9 1561.1,273.6 1565.8,273.6 1570.6,275.5 1575.3,279.6 1580.0,282.0 1584.7,285.5 1589.5,288.8 1594.2,289.9 1598.9,288.8 1603.6,289.2 1608.4,289.7 1613.1,291.2 1617.8,290.5 1622.5,289.3 1627.3,288.3 1632.0,286.8 1636.7,284.0 1641.4,282.9 1646.2,282.9 1650.9,282.7 1655.6,281.8 1660.3,281.2 1665.1,279.6 1669.8,277.1 1674.5,273.9 1679.2,269.5 1684.0,266.0 1688.7,263.9 1693.4,262.3 1698.1,261.6 1702.9,262.4 1707.6,262.3 1712.3,257.4" fill="none" stroke="#cdeeb4" stroke-width="0.9" stroke-linejoin="round" />
<g><rect x="332.0" y="425.9" width="1.5" height="1.5" fill="#d6e6f2" opacity=".92"/><rect x="336.7" y="418.6" width="1.5" height="1.5" fill="#d6e6f2" opacity=".92"/><rect x="341.5" y="412.1" width="1.5" height="1.5" fill="#d6e6f2" opacity=".92"/><rect x="346.2" y="405.1" width="1.5" height="1.5" fill="#d6e6f2" opacity=".92"/><rect x="350.9" y="399.3" width="1.5" height="1.5" fill="#d6e6f2" opacity=".92"/><rect x="355.6" y="394.4" width="1.5" height="1.5" fill="#d6e6f2" opacity=".92"/><rect x="360.4" y="390.0" width="1.5" height="1.5" fill="#d6e6f2" opacity=".92"/><rect x="365.1" y="387.8" width="1.5" height="1.5" fill="#d6e6f2" opacity=".92"/><rect x="369.8" y="384.7" width="1.5" height="1.5" fill="#d6e6f2" opacity=".92"/><rect x="374.5" y="370.9" width="1.5" height="1.5" fill="#f0b0a8" opacity=".92"/><rect x="379.3" y="370.9" width="1.5" height="1.5" fill="#f0b0a8" opacity=".92"/><rect x="384.0" y="371.4" width="1.5" height="1.5" fill="#f0b0a8" opacity=".92"/><rect x="388.7" y="371.8" width="1.5" height="1.5" fill="#f0b0a8" opacity=".92"/><rect x="393.4" y="393.8" width="1.5" height="1.5" fill="#d6e6f2" opacity=".92"/><rect x="398.1" y="393.2" width="1.5" height="1.5" fill="#d6e6f2" opacity=".92"/><rect x="402.9" y="391.9" width="1.5" height="1.5" fill="#d6e6f2" opacity=".92"/><rect x="407.6" y="390.6" width="1.5" height="1.5" fill="#d6e6f2" opacity=".92"/><rect x="412.3" y="360.4" width="1.5" height="1.5" fill="#f0b0a8" opacity=".92"/><rect x="417.0" y="361.0" width="1.5" height="1.5" fill="#f0b0a8" opacity=".92"/><rect x="421.8" y="361.7" width="1.5" height="1.5" fill="#f0b0a8" opacity=".92"/><rect x="426.5" y="362.3" width="1.5" height="1.5" fill="#f0b0a8" opacity=".92"/><rect x="431.2" y="362.9" width="1.5" height="1.5" fill="#f0b0a8" opacity=".92"/><rect x="435.9" y="363.4" width="1.5" height="1.5" fill="#f0b0a8" opacity=".92"/><rect x="440.7" y="364.0" width="1.5" height="1.5" fill="#f0b0a8" opacity=".92"/><rect x="445.4" y="364.6" width="1.5" height="1.5" fill="#f0b0a8" opacity=".92"/><rect x="450.1" y="365.1" width="1.5" height="1.5" fill="#f0b0a8" opacity=".92"/><rect x="454.8" y="365.7" width="1.5" height="1.5" fill="#f0b0a8" opacity=".92"/><rect x="459.6" y="366.2" width="1.5" height="1.5" fill="#f0b0a8" opacity=".92"/><rect x="464.3" y="366.7" width="1.5" height="1.5" fill="#f0b0a8" opacity=".92"/><rect x="469.0" y="367.2" width="1.5" height="1.5" fill="#f0b0a8" opacity=".92"/><rect x="473.7" y="392.1" width="1.5" height="1.5" fill="#d6e6f2" opacity=".92"/><rect x="478.5" y="391.6" width="1.5" height="1.5" fill="#d6e6f2" opacity=".92"/><rect x="483.2" y="390.4" width="1.5" height="1.5" fill="#d6e6f2" opacity=".92"/><rect x="487.9" y="389.2" width="1.5" height="1.5" fill="#d6e6f2" opacity=".92"/><rect x="492.6" y="388.2" width="1.5" height="1.5" fill="#d6e6f2" opacity=".92"/><rect x="497.4" y="387.1" width="1.5" height="1.5" fill="#d6e6f2" opacity=".92"/><rect x="502.1" y="386.1" width="1.5" height="1.5" fill="#d6e6f2" opacity=".92"/><rect x="506.8" y="385.1" width="1.5" height="1.5" fill="#d6e6f2" opacity=".92"/><rect x="511.5" y="384.2" width="1.5" height="1.5" fill="#d6e6f2" opacity=".92"/><rect x="516.3" y="382.7" width="1.5" height="1.5" fill="#d6e6f2" opacity=".92"/><rect x="521.0" y="381.3" width="1.5" height="1.5" fill="#d6e6f2" opacity=".92"/><rect x="525.7" y="380.0" width="1.5" height="1.5" fill="#d6e6f2" opacity=".92"/><rect x="530.4" y="378.8" width="1.5" height="1.5" fill="#d6e6f2" opacity=".92"/><rect x="535.2" y="377.1" width="1.5" height="1.5" fill="#d6e6f2" opacity=".92"/><rect x="539.9" y="375.0" width="1.5" height="1.5" fill="#d6e6f2" opacity=".92"/><rect x="544.6" y="373.0" width="1.5" height="1.5" fill="#d6e6f2" opacity=".92"/><rect x="549.3" y="372.0" width="1.5" height="1.5" fill="#d6e6f2" opacity=".92"/><rect x="554.1" y="372.0" width="1.5" height="1.5" fill="#d6e6f2" opacity=".92"/><rect x="558.8" y="370.4" width="1.5" height="1.5" fill="#d6e6f2" opacity=".92"/><rect x="563.5" y="370.3" width="1.5" height="1.5" fill="#d6e6f2" opacity=".92"/><rect x="568.2" y="370.3" width="1.5" height="1.5" fill="#d6e6f2" opacity=".92"/><rect x="573.0" y="369.6" width="1.5" height="1.5" fill="#d6e6f2" opacity=".92"/><rect x="577.7" y="368.2" width="1.5" height="1.5" fill="#d6e6f2" opacity=".92"/><rect x="582.4" y="365.4" width="1.5" height="1.5" fill="#d6e6f2" opacity=".92"/><rect x="587.1" y="362.5" width="1.5" height="1.5" fill="#d6e6f2" opacity=".92"/><rect x="591.9" y="359.6" width="1.5" height="1.5" fill="#d6e6f2" opacity=".92"/><rect x="596.6" y="357.2" width="1.5" height="1.5" fill="#d6e6f2" opacity=".92"/><rect x="601.3" y="355.2" width="1.5" height="1.5" fill="#d6e6f2" opacity=".92"/><rect x="606.0" y="352.6" width="1.5" height="1.5" fill="#d6e6f2" opacity=".92"/><rect x="610.8" y="350.1" width="1.5" height="1.5" fill="#d6e6f2" opacity=".92"/><rect x="615.5" y="337.0" width="1.5" height="1.5" fill="#f0b0a8" opacity=".92"/><rect x="620.2" y="337.0" width="1.5" height="1.5" fill="#f0b0a8" opacity=".92"/><rect x="624.9" y="337.3" width="1.5" height="1.5" fill="#f0b0a8" opacity=".92"/><rect x="629.6" y="337.6" width="1.5" height="1.5" fill="#f0b0a8" opacity=".92"/><rect x="634.4" y="352.8" width="1.5" height="1.5" fill="#d6e6f2" opacity=".92"/><rect x="639.1" y="352.3" width="1.5" height="1.5" fill="#d6e6f2" opacity=".92"/><rect x="643.8" y="350.9" width="1.5" height="1.5" fill="#d6e6f2" opacity=".92"/><rect x="648.5" y="348.9" width="1.5" height="1.5" fill="#d6e6f2" opacity=".92"/><rect x="653.3" y="346.2" width="1.5" height="1.5" fill="#d6e6f2" opacity=".92"/><rect x="658.0" y="343.8" width="1.5" height="1.5" fill="#d6e6f2" opacity=".92"/><rect x="662.7" y="316.2" width="1.5" height="1.5" fill="#f0b0a8" opacity=".92"/><rect x="667.4" y="316.7" width="1.5" height="1.5" fill="#f0b0a8" opacity=".92"/><rect x="672.2" y="317.7" width="1.5" height="1.5" fill="#f0b0a8" opacity=".92"/><rect x="676.9" y="319.3" width="1.5" height="1.5" fill="#f0b0a8" opacity=".92"/><rect x="681.6" y="321.7" width="1.5" height="1.5" fill="#f0b0a8" opacity=".92"/><rect x="686.3" y="324.6" width="1.5" height="1.5" fill="#f0b0a8" opacity=".92"/><rect x="691.1" y="327.3" width="1.5" height="1.5" fill="#f0b0a8" opacity=".92"/><rect x="695.8" y="329.6" width="1.5" height="1.5" fill="#f0b0a8" opacity=".92"/><rect x="700.5" y="331.7" width="1.5" height="1.5" fill="#f0b0a8" opacity=".92"/><rect x="705.2" y="333.6" width="1.5" height="1.5" fill="#f0b0a8" opacity=".92"/><rect x="710.0" y="350.8" width="1.5" height="1.5" fill="#d6e6f2" opacity=".92"/><rect x="714.7" y="350.4" width="1.5" height="1.5" fill="#d6e6f2" opacity=".92"/><rect x="719.4" y="349.6" width="1.5" height="1.5" fill="#d6e6f2" opacity=".92"/><rect x="724.1" y="348.8" width="1.5" height="1.5" fill="#d6e6f2" opacity=".92"/><rect x="728.9" y="347.5" width="1.5" height="1.5" fill="#d6e6f2" opacity=".92"/><rect x="733.6" y="345.6" width="1.5" height="1.5" fill="#d6e6f2" opacity=".92"/><rect x="738.3" y="343.3" width="1.5" height="1.5" fill="#d6e6f2" opacity=".92"/><rect x="743.0" y="340.7" width="1.5" height="1.5" fill="#d6e6f2" opacity=".92"/><rect x="747.8" y="338.5" width="1.5" height="1.5" fill="#d6e6f2" opacity=".92"/><rect x="752.5" y="336.5" width="1.5" height="1.5" fill="#d6e6f2" opacity=".92"/><rect x="757.2" y="334.8" width="1.5" height="1.5" fill="#d6e6f2" opacity=".92"/><rect x="761.9" y="322.1" width="1.5" height="1.5" fill="#f0b0a8" opacity=".92"/><rect x="766.7" y="322.3" width="1.5" height="1.5" fill="#f0b0a8" opacity=".92"/><rect x="771.4" y="323.0" width="1.5" height="1.5" fill="#f0b0a8" opacity=".92"/><rect x="776.1" y="324.1" width="1.5" height="1.5" fill="#f0b0a8" opacity=".92"/><rect x="780.8" y="325.5" width="1.5" height="1.5" fill="#f0b0a8" opacity=".92"/><rect x="785.6" y="327.6" width="1.5" height="1.5" fill="#f0b0a8" opacity=".92"/><rect x="790.3" y="345.9" width="1.5" height="1.5" fill="#d6e6f2" opacity=".92"/><rect x="795.0" y="345.6" width="1.5" height="1.5" fill="#d6e6f2" opacity=".92"/><rect x="799.7" y="344.8" width="1.5" height="1.5" fill="#d6e6f2" opacity=".92"/><rect x="804.5" y="342.8" width="1.5" height="1.5" fill="#d6e6f2" opacity=".92"/><rect x="809.2" y="340.2" width="1.5" height="1.5" fill="#d6e6f2" opacity=".92"/><rect x="813.9" y="337.8" width="1.5" height="1.5" fill="#d6e6f2" opacity=".92"/><rect x="818.6" y="335.6" width="1.5" height="1.5" fill="#d6e6f2" opacity=".92"/><rect x="823.4" y="333.5" width="1.5" height="1.5" fill="#d6e6f2" opacity=".92"/><rect x="828.1" y="331.7" width="1.5" height="1.5" fill="#d6e6f2" opacity=".92"/><rect x="832.8" y="329.9" width="1.5" height="1.5" fill="#d6e6f2" opacity=".92"/><rect x="837.5" y="328.3" width="1.5" height="1.5" fill="#d6e6f2" opacity=".92"/><rect x="842.3" y="326.9" width="1.5" height="1.5" fill="#d6e6f2" opacity=".92"/><rect x="847.0" y="325.5" width="1.5" height="1.5" fill="#d6e6f2" opacity=".92"/><rect x="851.7" y="324.3" width="1.5" height="1.5" fill="#d6e6f2" opacity=".92"/><rect x="856.4" y="322.7" width="1.5" height="1.5" fill="#d6e6f2" opacity=".92"/><rect x="861.1" y="320.6" width="1.5" height="1.5" fill="#d6e6f2" opacity=".92"/><rect x="865.9" y="317.2" width="1.5" height="1.5" fill="#d6e6f2" opacity=".92"/><rect x="870.6" y="313.3" width="1.5" height="1.5" fill="#d6e6f2" opacity=".92"/><rect x="875.3" y="310.0" width="1.5" height="1.5" fill="#d6e6f2" opacity=".92"/><rect x="880.0" y="308.9" width="1.5" height="1.5" fill="#d6e6f2" opacity=".92"/><rect x="884.8" y="308.9" width="1.5" height="1.5" fill="#d6e6f2" opacity=".92"/><rect x="889.5" y="292.7" width="1.5" height="1.5" fill="#f0b0a8" opacity=".92"/><rect x="894.2" y="293.1" width="1.5" height="1.5" fill="#f0b0a8" opacity=".92"/><rect x="898.9" y="293.9" width="1.5" height="1.5" fill="#f0b0a8" opacity=".92"/><rect x="903.7" y="295.1" width="1.5" height="1.5" fill="#f0b0a8" opacity=".92"/><rect x="908.4" y="296.2" width="1.5" height="1.5" fill="#f0b0a8" opacity=".92"/><rect x="913.1" y="297.7" width="1.5" height="1.5" fill="#f0b0a8" opacity=".92"/><rect x="917.8" y="300.1" width="1.5" height="1.5" fill="#f0b0a8" opacity=".92"/><rect x="922.6" y="302.8" width="1.5" height="1.5" fill="#f0b0a8" opacity=".92"/><rect x="927.3" y="305.2" width="1.5" height="1.5" fill="#f0b0a8" opacity=".92"/><rect x="932.0" y="322.7" width="1.5" height="1.5" fill="#d6e6f2" opacity=".92"/><rect x="936.7" y="322.4" width="1.5" height="1.5" fill="#d6e6f2" opacity=".92"/><rect x="941.5" y="321.7" width="1.5" height="1.5" fill="#d6e6f2" opacity=".92"/><rect x="946.2" y="321.0" width="1.5" height="1.5" fill="#d6e6f2" opacity=".92"/><rect x="950.9" y="320.3" width="1.5" height="1.5" fill="#d6e6f2" opacity=".92"/><rect x="955.6" y="319.0" width="1.5" height="1.5" fill="#d6e6f2" opacity=".92"/><rect x="960.4" y="317.9" width="1.5" height="1.5" fill="#d6e6f2" opacity=".92"/><rect x="965.1" y="299.8" width="1.5" height="1.5" fill="#f0b0a8" opacity=".92"/><rect x="969.8" y="300.3" width="1.5" height="1.5" fill="#f0b0a8" opacity=".92"/><rect x="974.5" y="301.3" width="1.5" height="1.5" fill="#f0b0a8" opacity=".92"/><rect x="979.3" y="303.0" width="1.5" height="1.5" fill="#f0b0a8" opacity=".92"/><rect x="984.0" y="305.7" width="1.5" height="1.5" fill="#f0b0a8" opacity=".92"/><rect x="988.7" y="309.5" width="1.5" height="1.5" fill="#f0b0a8" opacity=".92"/><rect x="993.4" y="314.0" width="1.5" height="1.5" fill="#f0b0a8" opacity=".92"/><rect x="998.2" y="318.7" width="1.5" height="1.5" fill="#f0b0a8" opacity=".92"/><rect x="1002.9" y="322.7" width="1.5" height="1.5" fill="#f0b0a8" opacity=".92"/><rect x="1007.6" y="326.1" width="1.5" height="1.5" fill="#f0b0a8" opacity=".92"/><rect x="1012.3" y="329.1" width="1.5" height="1.5" fill="#f0b0a8" opacity=".92"/><rect x="1017.1" y="347.4" width="1.5" height="1.5" fill="#d6e6f2" opacity=".92"/><rect x="1021.8" y="347.0" width="1.5" height="1.5" fill="#d6e6f2" opacity=".92"/><rect x="1026.5" y="345.9" width="1.5" height="1.5" fill="#d6e6f2" opacity=".92"/><rect x="1031.2" y="343.7" width="1.5" height="1.5" fill="#d6e6f2" opacity=".92"/><rect x="1036.0" y="340.2" width="1.5" height="1.5" fill="#d6e6f2" opacity=".92"/><rect x="1040.7" y="336.9" width="1.5" height="1.5" fill="#d6e6f2" opacity=".92"/><rect x="1045.4" y="333.9" width="1.5" height="1.5" fill="#d6e6f2" opacity=".92"/><rect x="1050.1" y="331.2" width="1.5" height="1.5" fill="#d6e6f2" opacity=".92"/><rect x="1054.9" y="328.7" width="1.5" height="1.5" fill="#d6e6f2" opacity=".92"/><rect x="1059.6" y="326.3" width="1.5" height="1.5" fill="#d6e6f2" opacity=".92"/><rect x="1064.3" y="324.2" width="1.5" height="1.5" fill="#d6e6f2" opacity=".92"/><rect x="1069.0" y="321.7" width="1.5" height="1.5" fill="#d6e6f2" opacity=".92"/><rect x="1073.8" y="318.6" width="1.5" height="1.5" fill="#d6e6f2" opacity=".92"/><rect x="1078.5" y="315.1" width="1.5" height="1.5" fill="#d6e6f2" opacity=".92"/><rect x="1083.2" y="312.1" width="1.5" height="1.5" fill="#d6e6f2" opacity=".92"/><rect x="1087.9" y="309.8" width="1.5" height="1.5" fill="#d6e6f2" opacity=".92"/><rect x="1092.7" y="308.3" width="1.5" height="1.5" fill="#d6e6f2" opacity=".92"/><rect x="1097.4" y="308.3" width="1.5" height="1.5" fill="#d6e6f2" opacity=".92"/><rect x="1102.1" y="308.0" width="1.5" height="1.5" fill="#d6e6f2" opacity=".92"/><rect x="1106.8" y="293.4" width="1.5" height="1.5" fill="#f0b0a8" opacity=".92"/><rect x="1111.5" y="293.7" width="1.5" height="1.5" fill="#f0b0a8" opacity=".92"/><rect x="1116.3" y="294.5" width="1.5" height="1.5" fill="#f0b0a8" opacity=".92"/><rect x="1121.0" y="295.3" width="1.5" height="1.5" fill="#f0b0a8" opacity=".92"/><rect x="1125.7" y="296.0" width="1.5" height="1.5" fill="#f0b0a8" opacity=".92"/><rect x="1130.4" y="296.7" width="1.5" height="1.5" fill="#f0b0a8" opacity=".92"/><rect x="1135.2" y="297.4" width="1.5" height="1.5" fill="#f0b0a8" opacity=".92"/><rect x="1139.9" y="298.1" width="1.5" height="1.5" fill="#f0b0a8" opacity=".92"/><rect x="1144.6" y="298.7" width="1.5" height="1.5" fill="#f0b0a8" opacity=".92"/><rect x="1149.3" y="299.3" width="1.5" height="1.5" fill="#f0b0a8" opacity=".92"/><rect x="1154.1" y="299.9" width="1.5" height="1.5" fill="#f0b0a8" opacity=".92"/><rect x="1158.8" y="300.9" width="1.5" height="1.5" fill="#f0b0a8" opacity=".92"/><rect x="1163.5" y="302.5" width="1.5" height="1.5" fill="#f0b0a8" opacity=".92"/><rect x="1168.2" y="304.7" width="1.5" height="1.5" fill="#f0b0a8" opacity=".92"/><rect x="1173.0" y="307.5" width="1.5" height="1.5" fill="#f0b0a8" opacity=".92"/><rect x="1177.7" y="309.9" width="1.5" height="1.5" fill="#f0b0a8" opacity=".92"/><rect x="1182.4" y="312.0" width="1.5" height="1.5" fill="#f0b0a8" opacity=".92"/><rect x="1187.1" y="313.9" width="1.5" height="1.5" fill="#f0b0a8" opacity=".92"/><rect x="1191.9" y="316.4" width="1.5" height="1.5" fill="#f0b0a8" opacity=".92"/><rect x="1196.6" y="320.0" width="1.5" height="1.5" fill="#f0b0a8" opacity=".92"/><rect x="1201.3" y="324.0" width="1.5" height="1.5" fill="#f0b0a8" opacity=".92"/><rect x="1206.0" y="327.9" width="1.5" height="1.5" fill="#f0b0a8" opacity=".92"/><rect x="1210.8" y="343.9" width="1.5" height="1.5" fill="#d6e6f2" opacity=".92"/><rect x="1215.5" y="343.5" width="1.5" height="1.5" fill="#d6e6f2" opacity=".92"/><rect x="1220.2" y="342.8" width="1.5" height="1.5" fill="#d6e6f2" opacity=".92"/><rect x="1224.9" y="342.1" width="1.5" height="1.5" fill="#d6e6f2" opacity=".92"/><rect x="1229.7" y="341.4" width="1.5" height="1.5" fill="#d6e6f2" opacity=".92"/><rect x="1234.4" y="324.9" width="1.5" height="1.5" fill="#f0b0a8" opacity=".92"/><rect x="1239.1" y="325.3" width="1.5" height="1.5" fill="#f0b0a8" opacity=".92"/><rect x="1243.8" y="325.6" width="1.5" height="1.5" fill="#f0b0a8" opacity=".92"/><rect x="1248.6" y="341.8" width="1.5" height="1.5" fill="#d6e6f2" opacity=".92"/><rect x="1253.3" y="341.5" width="1.5" height="1.5" fill="#d6e6f2" opacity=".92"/><rect x="1258.0" y="340.6" width="1.5" height="1.5" fill="#d6e6f2" opacity=".92"/><rect x="1262.7" y="339.3" width="1.5" height="1.5" fill="#d6e6f2" opacity=".92"/><rect x="1267.5" y="337.4" width="1.5" height="1.5" fill="#d6e6f2" opacity=".92"/><rect x="1272.2" y="335.3" width="1.5" height="1.5" fill="#d6e6f2" opacity=".92"/><rect x="1276.9" y="333.0" width="1.5" height="1.5" fill="#d6e6f2" opacity=".92"/><rect x="1281.6" y="330.5" width="1.5" height="1.5" fill="#d6e6f2" opacity=".92"/><rect x="1286.4" y="328.4" width="1.5" height="1.5" fill="#d6e6f2" opacity=".92"/><rect x="1291.1" y="326.5" width="1.5" height="1.5" fill="#d6e6f2" opacity=".92"/><rect x="1295.8" y="315.2" width="1.5" height="1.5" fill="#f0b0a8" opacity=".92"/><rect x="1300.5" y="315.4" width="1.5" height="1.5" fill="#f0b0a8" opacity=".92"/><rect x="1305.3" y="315.6" width="1.5" height="1.5" fill="#f0b0a8" opacity=".92"/><rect x="1310.0" y="315.8" width="1.5" height="1.5" fill="#f0b0a8" opacity=".92"/><rect x="1314.7" y="326.1" width="1.5" height="1.5" fill="#d6e6f2" opacity=".92"/><rect x="1319.4" y="325.9" width="1.5" height="1.5" fill="#d6e6f2" opacity=".92"/><rect x="1324.2" y="325.7" width="1.5" height="1.5" fill="#d6e6f2" opacity=".92"/><rect x="1328.9" y="325.1" width="1.5" height="1.5" fill="#d6e6f2" opacity=".92"/><rect x="1333.6" y="323.8" width="1.5" height="1.5" fill="#d6e6f2" opacity=".92"/><rect x="1338.3" y="322.0" width="1.5" height="1.5" fill="#d6e6f2" opacity=".92"/><rect x="1343.0" y="320.4" width="1.5" height="1.5" fill="#d6e6f2" opacity=".92"/><rect x="1347.8" y="318.9" width="1.5" height="1.5" fill="#d6e6f2" opacity=".92"/><rect x="1352.5" y="317.6" width="1.5" height="1.5" fill="#d6e6f2" opacity=".92"/><rect x="1357.2" y="316.3" width="1.5" height="1.5" fill="#d6e6f2" opacity=".92"/><rect x="1361.9" y="315.2" width="1.5" height="1.5" fill="#d6e6f2" opacity=".92"/><rect x="1366.7" y="314.1" width="1.5" height="1.5" fill="#d6e6f2" opacity=".92"/><rect x="1371.4" y="312.9" width="1.5" height="1.5" fill="#d6e6f2" opacity=".92"/><rect x="1376.1" y="311.7" width="1.5" height="1.5" fill="#d6e6f2" opacity=".92"/><rect x="1380.8" y="310.4" width="1.5" height="1.5" fill="#d6e6f2" opacity=".92"/><rect x="1385.6" y="309.7" width="1.5" height="1.5" fill="#d6e6f2" opacity=".92"/><rect x="1390.3" y="309.7" width="1.5" height="1.5" fill="#d6e6f2" opacity=".92"/><rect x="1395.0" y="308.2" width="1.5" height="1.5" fill="#d6e6f2" opacity=".92"/><rect x="1399.7" y="306.5" width="1.5" height="1.5" fill="#d6e6f2" opacity=".92"/><rect x="1404.5" y="305.2" width="1.5" height="1.5" fill="#d6e6f2" opacity=".92"/><rect x="1409.2" y="304.1" width="1.5" height="1.5" fill="#d6e6f2" opacity=".92"/><rect x="1413.9" y="297.9" width="1.5" height="1.5" fill="#f0b0a8" opacity=".92"/><rect x="1418.6" y="298.0" width="1.5" height="1.5" fill="#f0b0a8" opacity=".92"/><rect x="1423.4" y="298.4" width="1.5" height="1.5" fill="#f0b0a8" opacity=".92"/><rect x="1428.1" y="299.0" width="1.5" height="1.5" fill="#f0b0a8" opacity=".92"/><rect x="1432.8" y="299.5" width="1.5" height="1.5" fill="#f0b0a8" opacity=".92"/><rect x="1437.5" y="300.0" width="1.5" height="1.5" fill="#f0b0a8" opacity=".92"/><rect x="1442.3" y="300.5" width="1.5" height="1.5" fill="#f0b0a8" opacity=".92"/><rect x="1447.0" y="308.2" width="1.5" height="1.5" fill="#d6e6f2" opacity=".92"/><rect x="1451.7" y="308.0" width="1.5" height="1.5" fill="#d6e6f2" opacity=".92"/><rect x="1456.4" y="307.9" width="1.5" height="1.5" fill="#d6e6f2" opacity=".92"/><rect x="1461.2" y="307.7" width="1.5" height="1.5" fill="#d6e6f2" opacity=".92"/><rect x="1465.9" y="307.3" width="1.5" height="1.5" fill="#d6e6f2" opacity=".92"/><rect x="1470.6" y="306.6" width="1.5" height="1.5" fill="#d6e6f2" opacity=".92"/><rect x="1475.3" y="305.7" width="1.5" height="1.5" fill="#d6e6f2" opacity=".92"/><rect x="1480.1" y="304.8" width="1.5" height="1.5" fill="#d6e6f2" opacity=".92"/><rect x="1484.8" y="303.9" width="1.5" height="1.5" fill="#d6e6f2" opacity=".92"/><rect x="1489.5" y="303.0" width="1.5" height="1.5" fill="#d6e6f2" opacity=".92"/><rect x="1494.2" y="301.6" width="1.5" height="1.5" fill="#d6e6f2" opacity=".92"/><rect x="1499.0" y="299.3" width="1.5" height="1.5" fill="#d6e6f2" opacity=".92"/><rect x="1503.7" y="299.2" width="1.5" height="1.5" fill="#d6e6f2" opacity=".92"/><rect x="1508.4" y="295.5" width="1.5" height="1.5" fill="#d6e6f2" opacity=".92"/><rect x="1513.1" y="292.4" width="1.5" height="1.5" fill="#d6e6f2" opacity=".92"/><rect x="1517.9" y="289.9" width="1.5" height="1.5" fill="#d6e6f2" opacity=".92"/><rect x="1522.6" y="286.9" width="1.5" height="1.5" fill="#d6e6f2" opacity=".92"/><rect x="1527.3" y="286.7" width="1.5" height="1.5" fill="#d6e6f2" opacity=".92"/><rect x="1532.0" y="283.2" width="1.5" height="1.5" fill="#d6e6f2" opacity=".92"/><rect x="1536.8" y="280.4" width="1.5" height="1.5" fill="#d6e6f2" opacity=".92"/><rect x="1541.5" y="278.1" width="1.5" height="1.5" fill="#d6e6f2" opacity=".92"/><rect x="1546.2" y="276.3" width="1.5" height="1.5" fill="#d6e6f2" opacity=".92"/><rect x="1550.9" y="269.0" width="1.5" height="1.5" fill="#f0b0a8" opacity=".92"/><rect x="1555.7" y="269.2" width="1.5" height="1.5" fill="#f0b0a8" opacity=".92"/><rect x="1560.4" y="276.2" width="1.5" height="1.5" fill="#d6e6f2" opacity=".92"/><rect x="1565.1" y="269.1" width="1.5" height="1.5" fill="#f0b0a8" opacity=".92"/><rect x="1569.8" y="269.1" width="1.5" height="1.5" fill="#f0b0a8" opacity=".92"/><rect x="1574.5" y="269.8" width="1.5" height="1.5" fill="#f0b0a8" opacity=".92"/><rect x="1579.3" y="270.1" width="1.5" height="1.5" fill="#f0b0a8" opacity=".92"/><rect x="1584.0" y="272.4" width="1.5" height="1.5" fill="#f0b0a8" opacity=".92"/><rect x="1588.7" y="274.4" width="1.5" height="1.5" fill="#f0b0a8" opacity=".92"/><rect x="1593.4" y="276.3" width="1.5" height="1.5" fill="#f0b0a8" opacity=".92"/><rect x="1598.2" y="278.1" width="1.5" height="1.5" fill="#f0b0a8" opacity=".92"/><rect x="1602.9" y="279.7" width="1.5" height="1.5" fill="#f0b0a8" opacity=".92"/><rect x="1607.6" y="281.2" width="1.5" height="1.5" fill="#f0b0a8" opacity=".92"/><rect x="1612.3" y="282.6" width="1.5" height="1.5" fill="#f0b0a8" opacity=".92"/><rect x="1617.1" y="284.2" width="1.5" height="1.5" fill="#f0b0a8" opacity=".92"/><rect x="71.8" y="758.8" width="1.5" height="1.5" fill="#d6e6f2" opacity=".92"/><rect x="76.2" y="759.9" width="1.5" height="1.5" fill="#d6e6f2" opacity=".92"/><rect x="81.2" y="761.2" width="1.5" height="1.5" fill="#d6e6f2" opacity=".92"/><rect x="86.0" y="762.6" width="1.5" height="1.5" fill="#d6e6f2" opacity=".92"/><rect x="90.7" y="764.2" width="1.5" height="1.5" fill="#d6e6f2" opacity=".92"/><rect x="95.2" y="765.2" width="1.5" height="1.5" fill="#d6e6f2" opacity=".92"/><rect x="100.2" y="767.2" width="1.5" height="1.5" fill="#d6e6f2" opacity=".92"/><rect x="105.0" y="769.0" width="1.5" height="1.5" fill="#d6e6f2" opacity=".92"/><rect x="109.7" y="771.0" width="1.5" height="1.5" fill="#d6e6f2" opacity=".92"/><rect x="114.2" y="772.8" width="1.5" height="1.5" fill="#d6e6f2" opacity=".92"/><rect x="119.0" y="774.0" width="1.5" height="1.5" fill="#d6e6f2" opacity=".92"/><rect x="123.8" y="775.2" width="1.5" height="1.5" fill="#d6e6f2" opacity=".92"/><rect x="128.6" y="776.2" width="1.5" height="1.5" fill="#d6e6f2" opacity=".92"/><rect x="133.2" y="777.2" width="1.5" height="1.5" fill="#d6e6f2" opacity=".92"/><rect x="138.1" y="776.8" width="1.5" height="1.5" fill="#d6e6f2" opacity=".92"/><rect x="142.8" y="775.8" width="1.5" height="1.5" fill="#d6e6f2" opacity=".92"/><rect x="147.2" y="774.9" width="1.5" height="1.5" fill="#d6e6f2" opacity=".92"/><rect x="152.2" y="764.2" width="1.5" height="1.5" fill="#d6e6f2" opacity=".92"/><rect x="156.8" y="753.2" width="1.5" height="1.5" fill="#d6e6f2" opacity=".92"/><rect x="161.2" y="736.8" width="1.5" height="1.5" fill="#d6e6f2" opacity=".92"/><rect x="166.2" y="721.8" width="1.5" height="1.5" fill="#d6e6f2" opacity=".92"/><rect x="170.9" y="707.2" width="1.5" height="1.5" fill="#d6e6f2" opacity=".92"/><rect x="175.7" y="693.2" width="1.5" height="1.5" fill="#d6e6f2" opacity=".92"/><rect x="180.2" y="680.2" width="1.5" height="1.5" fill="#d6e6f2" opacity=".92"/><rect x="185.2" y="668.2" width="1.5" height="1.5" fill="#d6e6f2" opacity=".92"/><rect x="189.8" y="657.0" width="1.5" height="1.5" fill="#d6e6f2" opacity=".92"/><rect x="194.7" y="646.2" width="1.5" height="1.5" fill="#d6e6f2" opacity=".92"/><rect x="199.2" y="636.2" width="1.5" height="1.5" fill="#d6e6f2" opacity=".92"/><rect x="204.1" y="626.2" width="1.5" height="1.5" fill="#d6e6f2" opacity=".92"/><rect x="208.8" y="617.8" width="1.5" height="1.5" fill="#d6e6f2" opacity=".92"/><rect x="213.6" y="609.2" width="1.5" height="1.5" fill="#d6e6f2" opacity=".92"/><rect x="218.2" y="601.6" width="1.5" height="1.5" fill="#d6e6f2" opacity=".92"/><rect x="223.1" y="594.2" width="1.5" height="1.5" fill="#d6e6f2" opacity=".92"/><rect x="227.8" y="587.0" width="1.5" height="1.5" fill="#d6e6f2" opacity=".92"/><rect x="232.2" y="578.2" width="1.5" height="1.5" fill="#d6e6f2" opacity=".92"/><rect x="237.2" y="566.8" width="1.5" height="1.5" fill="#d6e6f2" opacity=".92"/><rect x="241.9" y="556.0" width="1.5" height="1.5" fill="#d6e6f2" opacity=".92"/><rect x="246.8" y="547.0" width="1.5" height="1.5" fill="#d6e6f2" opacity=".92"/><rect x="251.2" y="537.9" width="1.5" height="1.5" fill="#d6e6f2" opacity=".92"/><rect x="256.1" y="530.2" width="1.5" height="1.5" fill="#d6e6f2" opacity=".92"/><rect x="260.9" y="523.8" width="1.5" height="1.5" fill="#d6e6f2" opacity=".92"/><rect x="265.2" y="517.8" width="1.5" height="1.5" fill="#d6e6f2" opacity=".92"/><rect x="270.2" y="512.0" width="1.5" height="1.5" fill="#d6e6f2" opacity=".92"/><rect x="275.1" y="505.2" width="1.5" height="1.5" fill="#d6e6f2" opacity=".92"/><rect x="279.6" y="497.8" width="1.5" height="1.5" fill="#d6e6f2" opacity=".92"/><rect x="284.4" y="491.2" width="1.5" height="1.5" fill="#d6e6f2" opacity=".92"/><rect x="289.2" y="485.2" width="1.5" height="1.5" fill="#d6e6f2" opacity=".92"/><rect x="294.1" y="480.2" width="1.5" height="1.5" fill="#d6e6f2" opacity=".92"/><rect x="298.6" y="474.2" width="1.5" height="1.5" fill="#d6e6f2" opacity=".92"/><rect x="303.2" y="469.2" width="1.5" height="1.5" fill="#d6e6f2" opacity=".92"/><rect x="308.2" y="460.2" width="1.5" height="1.5" fill="#d6e6f2" opacity=".92"/><rect x="312.8" y="450.8" width="1.5" height="1.5" fill="#d6e6f2" opacity=".92"/><rect x="317.9" y="442.2" width="1.5" height="1.5" fill="#d6e6f2" opacity=".92"/><rect x="322.9" y="434.2" width="1.5" height="1.5" fill="#d6e6f2" opacity=".92"/><rect x="327.2" y="426.2" width="1.5" height="1.5" fill="#d6e6f2" opacity=".92"/><rect x="1621.2" y="297.2" width="1.5" height="1.5" fill="#d6e6f2" opacity=".92"/><rect x="1626.2" y="296.9" width="1.5" height="1.5" fill="#d6e6f2" opacity=".92"/><rect x="1631.2" y="296.4" width="1.5" height="1.5" fill="#d6e6f2" opacity=".92"/><rect x="1636.2" y="296.1" width="1.5" height="1.5" fill="#d6e6f2" opacity=".92"/><rect x="1640.8" y="295.4" width="1.5" height="1.5" fill="#d6e6f2" opacity=".92"/><rect x="1645.2" y="294.9" width="1.5" height="1.5" fill="#d6e6f2" opacity=".92"/><rect x="1650.2" y="293.9" width="1.5" height="1.5" fill="#d6e6f2" opacity=".92"/><rect x="1654.8" y="292.9" width="1.5" height="1.5" fill="#d6e6f2" opacity=".92"/><rect x="1659.2" y="291.8" width="1.5" height="1.5" fill="#d6e6f2" opacity=".92"/><rect x="1664.2" y="289.6" width="1.5" height="1.5" fill="#d6e6f2" opacity=".92"/><rect x="1669.2" y="287.1" width="1.5" height="1.5" fill="#d6e6f2" opacity=".92"/><rect x="1674.0" y="284.2" width="1.5" height="1.5" fill="#d6e6f2" opacity=".92"/><rect x="1678.7" y="279.8" width="1.5" height="1.5" fill="#d6e6f2" opacity=".92"/><rect x="1683.2" y="275.8" width="1.5" height="1.5" fill="#d6e6f2" opacity=".92"/><rect x="1688.2" y="272.2" width="1.5" height="1.5" fill="#d6e6f2" opacity=".92"/><rect x="1692.8" y="269.2" width="1.5" height="1.5" fill="#d6e6f2" opacity=".92"/><rect x="1697.8" y="267.2" width="1.5" height="1.5" fill="#d6e6f2" opacity=".92"/><rect x="1702.2" y="265.2" width="1.5" height="1.5" fill="#d6e6f2" opacity=".92"/><rect x="1707.0" y="263.9" width="1.5" height="1.5" fill="#d6e6f2" opacity=".92"/></g>
<rect x="69" y="237" width="1693" height="1.35" fill="#cbcbc8"/>
<path d="M0 230H62.7L69.6 237.8L62.7 246.2H0Z" fill="#e9e3d7"/>
<text x="2" y="242" class="pl">49,185.50</text></svg><div id="hdr"><svg class="abs" style="left:13px;top:6px" width="20" height="18" viewBox="0 0 20 18"><g fill="none" stroke="#d4d4d4" stroke-width="1.7"><ellipse cx="6.3" cy="12.7" rx="3.8" ry="2.9" transform="rotate(-45 6.3 12.7)"/><ellipse cx="13.4" cy="5.7" rx="3.8" ry="2.9" transform="rotate(-45 13.4 5.7)"/></g></svg>
<div class="dd" style="left:36px;top:4px;width:112px"><span class="kl" style="--s:.74">マーケット</span></div>
<div class="dd" style="left:153px;top:4px;width:251px">日経225</div>
<div class="dd" style="left:411px;top:4px;width:75px">1分足</div>
<div class="b" style="left:492px;width:18px"><svg width="18" height="20"><path d="M11 5.5L6.5 10L11 14.5" fill="none" stroke="#ddd" stroke-width="1.8"/></svg></div>
<div class="b" style="left:511px;width:18px"><svg width="18" height="20"><path d="M7 5.5L11.5 10L7 14.5" fill="none" stroke="#ddd" stroke-width="1.8"/></svg></div>
<div class="b on" style="left:536px;width:60px">表示期間</div>
<div class="b" style="left:603px;width:60px"><span class="kx" style="--s:.77">テクニカル</span></div>
<div class="b on" style="left:670px;width:52px">通常</div>
<div class="b" style="left:722.5px;width:52.5px">指数化</div>
<div class="b" style="left:776px;width:52px"><span class="kx" style="--s:.73">スプレッド</span></div>
<div class="ib" style="left:835px"><svg width="20" height="20" viewBox="0 0 20 20"><path d="M10.4 2.9V16.1M3.8 9.5H17" stroke="#e0e0e0" stroke-width="1.1"/></svg></div>
<div class="ib" style="left:862px"><svg width="20" height="20" viewBox="0 0 20 20"><circle cx="9.8" cy="9.2" r="5.9" fill="none" stroke="#ececec" stroke-width="1.4"/><path d="M14.2 13.6L17 16.3" stroke="#ececec" stroke-width="2.3"/><path d="M9.8 6.2V12.2M6.8 9.2H12.8" stroke="#ececec" stroke-width="1.9"/></svg></div>
<div class="ib" style="left:885px"><svg width="20" height="20" viewBox="0 0 20 20"><circle cx="9.8" cy="9.2" r="5.9" fill="none" stroke="#7c7c7c" stroke-width="1.4"/><path d="M14.2 13.6L17 16.3" stroke="#7c7c7c" stroke-width="2.3"/><path d="M6.8 9.2H12.8" stroke="#7c7c7c" stroke-width="1.9"/></svg></div>
<div class="ib" style="left:912px"><svg width="20" height="20" viewBox="0 0 20 20"><path d="M4 16L5.2 11.6L14.4 2.4L18 6L8.6 15.2Z" fill="#dcdcdc"/><path d="M6.6 12.2L15.4 3.4M7.8 13.3L16.6 4.5M5.6 11.2L14.4 2.4" stroke="#454545" stroke-width=".55"/><path d="M4 16L4.6 13.8L6.3 15.4Z" fill="#454545"/></svg></div>
<div class="ib" style="left:939px"><svg width="20" height="20" viewBox="0 0 20 20"><path d="M2 9L4 7.3L5.6 11.6L8.5 3L11 9L13.5 6L16.6 10.2" fill="none" stroke="#e4e4e4" stroke-width="1.3"/><path d="M11.2 7.5L11.2 17L13.3 15.1L15 18.6L16.4 17.9L14.8 14.6L17.6 14.3Z" fill="#ececec" stroke="#454545" stroke-width=".4"/></svg></div>
<div class="ib on" style="left:966px"><svg width="20" height="20" viewBox="0 0 20 20"><path d="M4.6 4.6L10 12L15.4 4.6M10 12V17.6M5.6 12.2H14.4M5.6 14.9H14.4" fill="none" stroke="#fff" stroke-width="1.6"/></svg></div>
<div class="ib" style="left:993px"><svg width="20" height="20" viewBox="0 0 20 20"><circle cx="10" cy="10" r="6.4" fill="#f0f0f0"/><rect x="8.9" y="8.6" width="2.3" height="5.2" fill="#454545"/><circle cx="10" cy="6.4" r="1.35" fill="#454545"/></svg></div>
<div class="ib" style="left:1020px"><svg width="20" height="20" viewBox="0 0 20 20"><text x="1.6" y="8" font-family="Liberation Sans,sans-serif" font-size="6.6" font-weight="700" fill="#e8e8e8" letter-spacing=".5">MY</text><g fill="#ececec"><rect x="7.2" y="10.3" width="2.3" height="4.7"/><rect x="7.9" y="8.6" width=".9" height="8.6"/><rect x="11.2" y="11.5" width="2.3" height="4.2"/><rect x="11.9" y="10" width=".9" height="8"/><rect x="15" y="9.3" width="2.3" height="4.8"/><rect x="15.7" y="7.4" width=".9" height="8.8"/></g></svg></div>
<div class="ib" style="left:1047px"><svg width="20" height="20" viewBox="0 0 20 20"><path d="M2.5 14V10.5L4.5 8.5L5.6 9.6L7.6 6.4L8.8 8L10.2 5.4L11.6 8L13 6L14.4 8.4L15.4 7.6L17.5 11V14Z" fill="#e4e4e4"/></svg></div>
<div class="ib" style="left:1074px"><svg width="20" height="20" viewBox="0 0 20 20"><path d="M3.6 16.2L10.1 9.2A4.3 4.3 0 0 1 15.2 3.6L12.3 6.5L13.5 8.6L16.6 7.6A4.3 4.3 0 0 1 11.7 11L5.6 17.6A1.4 1.4 0 0 1 3.6 16.2Z" fill="#e8e8e8"/></svg></div>
<div class="ib" style="left:1108px"><svg width="20" height="20" viewBox="0 0 20 20"><path d="M5.8 9V3.8H12L14.2 6V9" fill="none" stroke="#ececec" stroke-width="1.3"/><path d="M11.6 3.8V6.4H14.2" fill="none" stroke="#ececec" stroke-width=".9"/><rect x="3" y="9" width="14" height="2.5" fill="#ececec"/><rect x="3" y="12.7" width="14" height="3" fill="#ececec"/><rect x="3" y="9" width="1.4" height="6.7" fill="#ececec"/><rect x="15.6" y="9" width="1.4" height="6.7" fill="#ececec"/></svg></div>
<div class="ib" style="left:1135px"><svg width="20" height="20" viewBox="0 0 20 20"><rect x="3.6" y="4.6" width="13" height="12" fill="none" stroke="#f0f0f0" stroke-width="1.3"/><rect x="3.6" y="6.6" width="13" height="1" fill="#f0f0f0"/><path d="M10 8.6L13.4 12H11.2V15H8.8V12H6.6Z" fill="#f0f0f0"/></svg></div>
<div class="t" style="left:13px;top:36px">表示期間</div>
<div class="dd" style="left:71px;top:32px;width:77px">本数指定</div>
<div class="t" style="left:154px;top:36px">本数</div>
<div class="dd na" style="left:186px;top:32px;width:43px;text-align:right;padding:0 3px 0 0">358</div>
<div class="b" style="left:229px;top:33px;width:14px;height:20px;background:#505050"><svg width="14" height="20"><path d="M3.5 8H10.5L7 13Z" fill="#d8d8d8"/></svg></div>
<div class="b" style="left:244px;top:33px;width:14px;height:20px;background:#505050"><svg width="14" height="20"><path d="M3.5 12.5H10.5L7 7.5Z" fill="#d8d8d8"/></svg></div>
<div class="t" style="left:264px;top:36px">表示期間：</div>
<div class="t" style="left:336px;top:36px;letter-spacing:.05px">2025/10/17 15:15 ～ 2025/10/20 15:30</div>
<div class="b" style="left:600px;top:33px;width:21px;height:20px"><svg width="21" height="20"><path d="M6 6.5H13.5A2.8 2.8 0 0 1 13.5 12.5H9" fill="none" stroke="#e4e4e4" stroke-width="2.2"/><path d="M9.5 9L5 12.5L9.5 16Z" fill="#e4e4e4"/></svg></div>
<div class="t" style="left:13px;top:67px;font-size:15px;line-height:18px;color:#f2e56a">日経225</div>
<div class="t teal" style="left:321px;top:67px">現在値</div>
<div class="t" style="left:389px;top:67px">49,185.50</div>
<div class="t red" style="left:497px;top:67px">+1,603.35</div>
<div class="t red" style="left:615px;top:67px">+3.37%</div>
<div class="t" style="left:680px;top:67px">25/10/20&nbsp;&nbsp;15:30</div>
<div class="t teal" style="left:13px;top:92px">始値</div>
<div class="t ws" style="left:75px;top:92px">48,332.71 09:00</div>
<div class="t teal" style="left:208px;top:92px">高値</div>
<div class="t ws" style="left:270px;top:92px">49,185.50 15:30</div>
<div class="t teal" style="left:403px;top:92px">安値</div>
<div class="t ws" style="left:465px;top:92px">48,254.83 09:01</div>
<div class="t teal" style="left:598px;top:92px">前日終値</div>
<div class="t" style="left:686px;top:92px">47,582.15</div>
<div class="t teal" style="left:767px;top:92px">出来高</div>
<div class="t" style="left:900px;top:92px">0</div></div><div id="pl"><div class="ttl">実現損益</div><div class="sep"></div>
<div class="lb" style="left:8px;top:75.5px">商品種類</div>
<div class="box" style="left:122px;top:67px;width:162px;height:42px"></div>
<div class="lb" style="left:134px;top:75.5px">全て</div>
<div class="abs" style="left:260px;top:85px;border:6px solid transparent;border-top:7px solid #eee;border-bottom:0;margin-top:1.5px"></div>
<div class="lb" style="left:296px;top:75.5px">銘柄</div>
<div class="box" style="left:359px;top:67px;width:388px;height:42px"></div>
<div class="abs" style="left:362px;top:72px;width:1.5px;height:30px;background:#ddd"></div>
<div class="lb" style="left:363px;top:74px;color:#777"><span class="kl" style="--s:.905">銘柄コード / ティッカー / 銘柄名</span></div>
<div class="abs" style="left:724px;top:85px;border:6px solid transparent;border-top:7px solid #eee;border-bottom:0;margin-top:1.5px"></div>
<div class="abs" style="left:759.5px;top:68.5px;width:63px;height:40px;background:#454545"></div>
<div class="lb" style="left:766px;top:74px">詳細</div>
<div class="abs" style="left:-1px;top:109px;width:543px;height:53px;border:3px solid #e6316c;border-radius:7px"></div>
<div class="lb" style="left:8px;top:122px">実現損益</div>
<svg class="abs" style="left:123px;top:124px" width="28" height="28" viewBox="0 0 28 28"><circle cx="13.6" cy="13.6" r="12.6" fill="#d9781c"/><rect x="11.7" y="5.5" width="3.8" height="10.5" rx="1" fill="#fff2e0"/><rect x="11.7" y="18" width="3.8" height="3.8" rx="1" fill="#fff2e0"/></svg>
<div class="lb" style="left:192px;top:122px;color:#e0403e;letter-spacing:.15px">+109,620円</div>
<div class="lb" style="left:383px;top:122px;letter-spacing:.2px">2025/10/20</div></div><div class="tbl" style="left:360px;top:788px;height:293px"><div class="row" style="top:0.0px"><div class="dk"><div class="nm" style="">日経平均株価</div><div class="sb">寄与度</div><svg class="fl" viewBox="0 0 26 26"><circle cx="13" cy="13" r="12.7" fill="#909090"/><circle cx="12.9" cy="12.6" r="6.2" fill="#8f4a3b"/></svg><div class="dt">10/20</div></div><div class="mc"><svg width="80" height="39.3" viewBox="0 0 80 39.3" style="position:absolute;left:0;top:0"><defs><linearGradient id="g1" x1="0" y1="0" x2="0" y2="1"><stop offset="0" stop-color="#55aa58"/><stop offset="1" stop-color="#b9dfb4"/></linearGradient></defs><rect width="80" height="39.3" fill="#ebebea"/><path d="M0.0 32.5L0.0 21.7L2.0 19.7L4.0 18.7L6.0 17.2L8.0 16.1L10.0 15.4L12.0 14.7L14.0 14.6L16.0 14.1L18.0 14.4L20.0 14.1L22.0 13.9L24.0 13.6L26.0 13.8L28.0 14.0L30.0 13.7L32.0 13.5L34.0 13.5L36.0 13.4L38.0 13.5L40.0 13.4L42.0 12.9L44.0 12.7L46.0 12.6L48.0 12.7L50.0 12.2L52.0 12.1L54.0 12.5L56.0 11.8L58.0 12.5L60.0 12.3L62.0 11.8L64.0 12.1L66.0 11.9L68.0 11.3L70.0 11.6L72.0 11.3L74.0 11.1L76.0 11.4L78.0 10.9L80.0 11.4L80.0 32.5Z" fill="url(#g1)"/><rect x="31.5" y="0" width="11.5" height="33.0" fill="#fff" opacity=".55"/><rect x="0" y="32.0" width="80" height="1.2" fill="#7f9fd6"/><rect x="0" y="33.2" width="80" height="6.099999999999997" fill="#f1ebeb"/><g fill="#b9b9b9"><rect x="2" y="36" width="4" height="1.2"/><rect x="35" y="36" width="3" height="1.2"/><rect x="71" y="36" width="4" height="1.2"/></g></svg></div><div class="wp"><div class="pr ">49,185<small>.50</small></div><div class="ch g" style="right:146.5px">+1,603<small>.35</small></div><div class="pc  g" style="right:146.5px"><i>▲</i>3.37<small>%</small></div><div class="hl h">H:49,185<small>.50</small></div><div class="hl lo">L:48,254<small>.83</small></div></div></div><div class="row" style="top:41.8px"><div class="dk"><div class="nm" style="top:-.5px;left:5.5px">TOPIX</div><div class="sb y">Y!</div><svg class="fl" viewBox="0 0 26 26"><circle cx="13" cy="13" r="12.7" fill="#909090"/><circle cx="12.9" cy="12.6" r="6.2" fill="#8f4a3b"/></svg><div class="dt">10/20</div></div><div class="mc"><svg width="80" height="39.3" viewBox="0 0 80 39.3" style="position:absolute;left:0;top:0"><defs><linearGradient id="g2" x1="0" y1="0" x2="0" y2="1"><stop offset="0" stop-color="#55aa58"/><stop offset="1" stop-color="#b9dfb4"/></linearGradient></defs><rect width="80" height="39.3" fill="#ebebea"/><path d="M0.0 32.5L0.0 21.7L2.0 19.7L4.0 18.7L6.0 17.2L8.0 16.1L10.0 15.4L12.0 14.7L14.0 14.6L16.0 14.1L18.0 14.4L20.0 14.1L22.0 13.9L24.0 13.6L26.0 13.8L28.0 14.0L30.0 13.7L32.0 13.5L34.0 13.5L36.0 13.4L38.0 13.5L40.0 13.4L42.0 12.9L44.0 12.7L46.0 12.6L48.0 12.7L50.0 12.2L52.0 12.1L54.0 12.5L56.0 11.8L58.0 12.5L60.0 12.3L62.0 11.8L64.0 12.1L66.0 11.9L68.0 11.3L70.0 11.6L72.0 11.3L74.0 11.1L76.0 11.4L78.0 10.9L80.0 11.4L80.0 32.5Z" fill="url(#g2)"/><rect x="31.5" y="0" width="11.5" height="33.0" fill="#fff" opacity=".55"/><rect x="0" y="32.0" width="80" height="1.2" fill="#7f9fd6"/><rect x="0" y="33.2" width="80" height="6.099999999999997" fill="#f1ebeb"/><g fill="#b9b9b9"><rect x="2" y="36" width="4" height="1.2"/><rect x="35" y="36" width="3" height="1.2"/><rect x="71" y="36" width="4" height="1.2"/></g></svg></div><div class="wp"><div class="pr ">3,248<small>.45</small></div><div class="ch g">+78<small>.01</small></div><div class="pc  g"><i>▲</i>2.46<small>%</small></div><div class="hl h">H:3,248<small>.45</small></div><div class="hl lo">L:3,207<small>.86</small></div></div></div><div class="row" style="top:83.6px"><div class="dk"><div class="nm" style="">JPX日経400</div><svg class="fl" viewBox="0 0 26 26"><circle cx="13" cy="13" r="12.7" fill="#909090"/><circle cx="12.9" cy="12.6" r="6.2" fill="#8f4a3b"/></svg><div class="dt">10/20</div></div><div class="mc"><svg width="80" height="39.3" viewBox="0 0 80 39.3" style="position:absolute;left:0;top:0"><defs><linearGradient id="g3" x1="0" y1="0" x2="0" y2="1"><stop offset="0" stop-color="#55aa58"/><stop offset="1" stop-color="#b9dfb4"/></linearGradient></defs><rect width="80" height="39.3" fill="#ebebea"/><path d="M0.0 32.5L0.0 21.7L2.0 19.7L4.0 18.7L6.0 17.2L8.0 16.1L10.0 15.4L12.0 14.7L14.0 14.6L16.0 14.1L18.0 14.4L20.0 14.1L22.0 13.9L24.0 13.6L26.0 13.8L28.0 14.0L30.0 13.7L32.0 13.5L34.0 13.5L36.0 13.4L38.0 13.5L40.0 13.4L42.0 12.9L44.0 12.7L46.0 12.6L48.0 12.7L50.0 12.2L52.0 12.1L54.0 12.5L56.0 11.8L58.0 12.5L60.0 12.3L62.0 11.8L64.0 12.1L66.0 11.9L68.0 11.3L70.0 11.6L72.0 11.3L74.0 11.1L76.0 11.4L78.0 10.9L80.0 11.4L80.0 32.5Z" fill="url(#g3)"/><rect x="31.5" y="0" width="11.5" height="33.0" fill="#fff" opacity=".55"/><rect x="0" y="32.0" width="80" height="1.2" fill="#7f9fd6"/><rect x="0" y="33.2" width="80" height="6.099999999999997" fill="#f1ebeb"/><g fill="#b9b9b9"><rect x="2" y="36" width="4" height="1.2"/><rect x="35" y="36" width="3" height="1.2"/><rect x="71" y="36" width="4" height="1.2"/></g></svg></div><div class="wp"><div class="pr ">29,279<small>.45</small></div><div class="ch g">+701<small>.90</small></div><div class="pc  g"><i>▲</i>2.46<small>%</small></div><div class="hl h">H:29,279<small>.45</small></div><div class="hl lo">L:28,919<small>.20</small></div></div></div><div class="row" style="top:125.4px"><div class="dk"><div class="nm" style="">グロース250</div><div class="sb y">Y!</div><svg class="fl" viewBox="0 0 26 26"><circle cx="13" cy="13" r="12.7" fill="#909090"/><circle cx="12.9" cy="12.6" r="6.2" fill="#8f4a3b"/></svg><div class="dt">10/20</div></div><div class="mc"><svg width="80" height="39.3" viewBox="0 0 80 39.3" style="position:absolute;left:0;top:0"><defs><linearGradient id="g4" x1="0" y1="0" x2="0" y2="1"><stop offset="0" stop-color="#55aa58"/><stop offset="1" stop-color="#b9dfb4"/></linearGradient></defs><rect width="80" height="39.3" fill="#ebebea"/><path d="M0.0 32.5L0.0 16.6L2.0 13.4L4.0 9.8L6.0 6.8L8.0 7.7L10.0 11.7L12.0 15.7L14.0 17.8L16.0 19.3L18.0 19.2L20.0 19.9L22.0 20.2L24.0 21.0L26.0 21.3L28.0 20.9L30.0 21.0L32.0 19.7L34.0 19.7L36.0 18.6L38.0 17.8L40.0 17.5L42.0 16.5L44.0 15.9L46.0 15.8L48.0 15.7L50.0 15.5L52.0 15.5L54.0 14.8L56.0 15.0L58.0 15.1L60.0 15.0L62.0 14.1L64.0 14.0L66.0 13.7L68.0 14.0L70.0 13.7L72.0 13.7L74.0 13.2L76.0 13.7L78.0 12.8L80.0 13.5L80.0 32.5Z" fill="url(#g4)"/><rect x="31.5" y="0" width="11.5" height="33.0" fill="#fff" opacity=".55"/><rect x="0" y="32.0" width="80" height="1.2" fill="#7f9fd6"/><rect x="0" y="33.2" width="80" height="6.099999999999997" fill="#f1ebeb"/><g fill="#b9b9b9"><rect x="2" y="36" width="4" height="1.2"/><rect x="35" y="36" width="3" height="1.2"/><rect x="71" y="36" width="4" height="1.2"/></g></svg></div><div class="wp" style="border-bottom:1.5px solid #9c9c98"><div class="pr ">730<small>.75</small></div><div class="ch g">+21<small>.59</small></div><div class="pc  g"><i>▲</i>3.04<small>%</small></div><div class="hl h">H:732<small>.73</small></div><div class="hl lo">L:715<small>.66</small></div></div></div><div class="row" style="top:167.2px"><div class="dk"><div class="nm" style="">為替 ドル円</div><div class="sb">為替</div><svg class="fl" viewBox="0 0 26 26"><defs><clipPath id="cc"><circle cx="13" cy="13" r="12.7"/></clipPath></defs><g clip-path="url(#cc)"><rect width="26" height="26" fill="#fdfdfd"/><circle cx="13.3" cy="12.6" r="6.2" fill="#d2402c"/><rect x="0" y="0" width="13.3" height="26" fill="#fdfdfd"/><rect x="0" y="14.7" width="13.3" height="2.1" fill="#cf4438"/><rect x="0" y="18.9" width="13.3" height="2.1" fill="#cf4438"/><rect x="0" y="23.1" width="13.3" height="2.1" fill="#cf4438"/><rect x="0" y="0" width="13.3" height="12.6" fill="#3f62ad"/><g fill="#cfdcf5"><rect x="1.5" y="1.5" width="1.2" height="1.2"/><rect x="4.1" y="1.5" width="1.2" height="1.2"/><rect x="6.7" y="1.5" width="1.2" height="1.2"/><rect x="9.3" y="1.5" width="1.2" height="1.2"/><rect x="11.9" y="1.5" width="1.2" height="1.2"/><rect x="2.8" y="3.6" width="1.2" height="1.2"/><rect x="5.4" y="3.6" width="1.2" height="1.2"/><rect x="8.0" y="3.6" width="1.2" height="1.2"/><rect x="10.6" y="3.6" width="1.2" height="1.2"/><rect x="13.2" y="3.6" width="1.2" height="1.2"/><rect x="1.5" y="5.7" width="1.2" height="1.2"/><rect x="4.1" y="5.7" width="1.2" height="1.2"/><rect x="6.7" y="5.7" width="1.2" height="1.2"/><rect x="9.3" y="5.7" width="1.2" height="1.2"/><rect x="11.9" y="5.7" width="1.2" height="1.2"/><rect x="2.8" y="7.8" width="1.2" height="1.2"/><rect x="5.4" y="7.8" width="1.2" height="1.2"/><rect x="8.0" y="7.8" width="1.2" height="1.2"/><rect x="10.6" y="7.8" width="1.2" height="1.2"/><rect x="13.2" y="7.8" width="1.2" height="1.2"/><rect x="1.5" y="9.9" width="1.2" height="1.2"/><rect x="4.1" y="9.9" width="1.2" height="1.2"/><rect x="6.7" y="9.9" width="1.2" height="1.2"/><rect x="9.3" y="9.9" width="1.2" height="1.2"/><rect x="11.9" y="9.9" width="1.2" height="1.2"/></g></g></svg><div class="tm">15:37</div></div><div class="mc"><svg width="80" height="39.3" viewBox="0 0 80 39.3" style="position:absolute;left:0;top:0"><rect width="80" height="39.3" fill="#fff"/><g stroke="#f0f0f0" stroke-width="1"><path d="M9.5 0V36"/><path d="M19.5 0V36"/><path d="M29.5 0V36"/><path d="M39.5 0V36"/><path d="M49.5 0V36"/><path d="M59.5 0V36"/><path d="M69.5 0V36"/><path d="M0 8H80"/><path d="M0 21.9H80"/><path d="M0 30H80"/></g><path d="M1.0 21.9L1.0 21.7L2.0 21.5L3.0 16.4L5.0 15.6L6.5 16.0L8.0 15.2L10.0 15.9L11.5 15.4L13.0 13.6L14.4 12.0L15.5 13.8L17.0 14.6L18.0 15.4L20.0 16.0L22.0 17.4L24.0 18.6L26.0 19.0L27.5 18.8L29.0 18.2L30.3 18.5L31.6 17.9L31.6 21.9Z" fill="#cdeecd"/><path d="M1.0 21.7L2.0 21.5L3.0 16.4L5.0 15.6L6.5 16.0L8.0 15.2L10.0 15.9L11.5 15.4L13.0 13.6L14.4 12.0L15.5 13.8L17.0 14.6L18.0 15.4L20.0 16.0L22.0 17.4L24.0 18.6L26.0 19.0L27.5 18.8L29.0 18.2L30.3 18.5L31.6 17.9" fill="none" stroke="#77c47a" stroke-width=".9"/><g fill="#c9c9c9"><rect x="1" y="36" width="9" height="1.3"/><rect x="17" y="36" width="3.5" height="1.3"/><rect x="27" y="36" width="3.5" height="1.3"/><rect x="37" y="36" width="3.5" height="1.3"/><rect x="46" y="36" width="3.5" height="1.3"/><rect x="54" y="36" width="7" height="1.3"/><rect x="65" y="36" width="5" height="1.3"/><rect x="73" y="36" width="5" height="1.3"/></g></svg></div><div class="wp"><div class="pr k">150.57<small>4</small></div><div class="ch r">-0.05<small>5</small></div><div class="pc l r"><i>▼</i>0.04<small>%</small></div><div class="hl h">H:151.20<small>3</small></div><div class="hl lo">L:150.46<small>5</small></div></div></div><div class="row" style="top:209.0px"><div class="dk"><div class="nm" style="">為替 ユーロ円</div><div class="sb">為替</div><svg class="fl" viewBox="0 0 26 26"><defs><clipPath id="cc"><circle cx="13" cy="13" r="12.7"/></clipPath></defs><g clip-path="url(#cc)"><rect width="26" height="26" fill="#fdfdfd"/><circle cx="13.3" cy="12.6" r="6.2" fill="#d2402c"/><rect x="0" y="0" width="13.3" height="26" fill="#fdfdfd"/><rect x="0" y="14.7" width="13.3" height="2.1" fill="#cf4438"/><rect x="0" y="18.9" width="13.3" height="2.1" fill="#cf4438"/><rect x="0" y="23.1" width="13.3" height="2.1" fill="#cf4438"/><rect x="0" y="0" width="13.3" height="12.6" fill="#3f62ad"/><g fill="#cfdcf5"><rect x="1.5" y="1.5" width="1.2" height="1.2"/><rect x="4.1" y="1.5" width="1.2" height="1.2"/><rect x="6.7" y="1.5" width="1.2" height="1.2"/><rect x="9.3" y="1.5" width="1.2" height="1.2"/><rect x="11.9" y="1.5" width="1.2" height="1.2"/><rect x="2.8" y="3.6" width="1.2" height="1.2"/><rect x="5.4" y="3.6" width="1.2" height="1.2"/><rect x="8.0" y="3.6" width="1.2" height="1.2"/><rect x="10.6" y="3.6" width="1.2" height="1.2"/><rect x="13.2" y="3.6" width="1.2" height="1.2"/><rect x="1.5" y="5.7" width="1.2" height="1.2"/><rect x="4.1" y="5.7" width="1.2" height="1.2"/><rect x="6.7" y="5.7" width="1.2" height="1.2"/><rect x="9.3" y="5.7" width="1.2" height="1.2"/><rect x="11.9" y="5.7" width="1.2" height="1.2"/><rect x="2.8" y="7.8" width="1.2" height="1.2"/><rect x="5.4" y="7.8" width="1.2" height="1.2"/><rect x="8.0" y="7.8" width="1.2" height="1.2"/><rect x="10.6" y="7.8" width="1.2" height="1.2"/><rect x="13.2" y="7.8" width="1.2" height="1.2"/><rect x="1.5" y="9.9" width="1.2" height="1.2"/><rect x="4.1" y="9.9" width="1.2" height="1.2"/><rect x="6.7" y="9.9" width="1.2" height="1.2"/><rect x="9.3" y="9.9" width="1.2" height="1.2"/><rect x="11.9" y="9.9" width="1.2" height="1.2"/></g></g></svg><div class="tm">15:37</div></div><div class="mc"><svg width="80" height="39.3" viewBox="0 0 80 39.3" style="position:absolute;left:0;top:0"><rect width="80" height="39.3" fill="#fff"/><g stroke="#f0f0f0" stroke-width="1"><path d="M9.5 0V36"/><path d="M19.5 0V36"/><path d="M29.5 0V36"/><path d="M39.5 0V36"/><path d="M49.5 0V36"/><path d="M59.5 0V36"/><path d="M69.5 0V36"/><path d="M0 8H80"/><path d="M0 17H80"/><path d="M0 26.2H80"/></g><path d="M1.0 26.2L1.0 26.2L2.5 24.6L4.0 23.0L6.0 22.6L7.5 22.9L9.0 22.1L10.5 21.9L12.0 21.3L13.2 19.8L14.4 18.1L15.5 19.7L16.8 19.9L18.0 20.2L20.5 21.0L23.0 21.9L25.0 22.7L27.0 22.9L28.3 22.8L29.5 22.2L30.6 23.2L31.6 24.0L31.6 26.2Z" fill="#cdeecd"/><path d="M1.0 26.2L2.5 24.6L4.0 23.0L6.0 22.6L7.5 22.9L9.0 22.1L10.5 21.9L12.0 21.3L13.2 19.8L14.4 18.1L15.5 19.7L16.8 19.9L18.0 20.2L20.5 21.0L23.0 21.9L25.0 22.7L27.0 22.9L28.3 22.8L29.5 22.2L30.6 23.2L31.6 24.0" fill="none" stroke="#77c47a" stroke-width=".9"/><g fill="#c9c9c9"><rect x="1" y="36" width="9" height="1.3"/><rect x="17" y="36" width="3.5" height="1.3"/><rect x="27" y="36" width="3.5" height="1.3"/><rect x="37" y="36" width="3.5" height="1.3"/><rect x="46" y="36" width="3.5" height="1.3"/><rect x="54" y="36" width="7" height="1.3"/><rect x="65" y="36" width="5" height="1.3"/><rect x="73" y="36" width="5" height="1.3"/></g></svg></div><div class="wp"><div class="pr k">175.62<small>6</small></div><div class="ch g">+0.10<small>4</small></div><div class="pc l g"><i>▲</i>0.06<small>%</small></div><div class="hl h">H:176.37<small>0</small></div><div class="hl lo">L:175.37<small>3</small></div></div></div><div class="row" style="top:250.8px"><div class="dk"><div class="abs" style="left:4.3px;top:5.5px;width:25.5px;height:12.5px;background:#333;border-radius:2px;font-size:11px;line-height:13px;font-weight:700;color:#fff;text-align:center;letter-spacing:.2px">CFD</div><div class="nm" style="left:32.5px;font-size:14.5px;top:1.5px;letter-spacing:-.4px">日経平均</div><svg class="fl" viewBox="0 0 26 26"><circle cx="13" cy="13" r="12.7" fill="#fdfdfd"/><circle cx="12.9" cy="12.6" r="6.2" fill="#d03a28"/></svg><div class="tm">15:37</div></div><div class="mc"><svg width="80" height="39.3" viewBox="0 0 80 39.3" style="position:absolute;left:0;top:0"><rect width="80" height="39.3" fill="#fff"/><g stroke="#f0f0f0" stroke-width="1"><path d="M39.5 0V36"/><path d="M49.5 0V36"/><path d="M59.5 0V36"/><path d="M69.5 0V36"/><path d="M32 8H80"/><path d="M32 17.1H80"/><path d="M32 27H80"/></g><rect x="9.5" y="0" width="22.3" height="39.3" fill="#f7e88c"/><defs><linearGradient id="cf" x1="0" y1="0" x2="1" y2="0"><stop offset="0" stop-color="#f29a9a"/><stop offset="1" stop-color="#f8c6a6"/></linearGradient></defs><path d="M0 17.1L31.8 17.1L31.8 15.2L31.0 16.6L29.5 18.3L28.0 19.3L26.5 20.6L25.0 22.0L23.5 21.0L22.0 20.3L20.5 19.5L19.0 19.7L17.5 20.4L16.0 21.4L14.5 23.2L13.0 25.7L11.0 28.7L9.5 33.2L8.5 34.0L7.0 33.5L5.5 31.0L4.0 31.5L2.5 34.6L1.0 35.4L0.0 35.8Z" fill="url(#cf)" opacity=".85"/><path d="M0 39.3V35.8L0.0 35.8L1.0 35.4L2.5 34.6L4.0 31.5L5.5 31.0L7.0 33.5L8.5 34.0L9.5 33.2L11.0 28.7V39.3Z" fill="#f7b4b0" opacity=".9"/><ellipse cx="5.7" cy="36.5" rx="2.2" ry="3.2" fill="#fff"/><path d="M0.0 35.8L1.0 35.4L2.5 34.6L4.0 31.5L5.5 31.0L7.0 33.5L8.5 34.0L9.5 33.2L11.0 28.7L13.0 25.7L14.5 23.2L16.0 21.4L17.5 20.4L19.0 19.7L20.5 19.5L22.0 20.3L23.5 21.0L25.0 22.0L26.5 20.6L28.0 19.3L29.5 18.3L31.0 16.6L31.8 15.2" fill="none" stroke="#e86458" stroke-width=".9"/><g fill="#c9c9c9"><rect x="1" y="36.6" width="9" height="1.3"/><rect x="17" y="36.6" width="3.5" height="1.3"/><rect x="27" y="36.6" width="3.5" height="1.3"/><rect x="37" y="36.6" width="3.5" height="1.3"/><rect x="46" y="36.6" width="3.5" height="1.3"/><rect x="54" y="36.6" width="7" height="1.3"/><rect x="65" y="36.6" width="5" height="1.3"/><rect x="73" y="36.6" width="5" height="1.3"/></g></svg></div><div class="wp" style="background:linear-gradient(90deg,#e9e9e5,#e4e4e0 60%,#dcdcd8);border-bottom:0;height:41px"><div class="pr k" style="right:243.5px;font-size:24px;top:5.5px;letter-spacing:-.9px">49,265<small style="font-size:17px">.20</small></div><div class="abs" style="left:109.7px;top:5.3px;width:177.6px;height:32px;background:#fbfbf9;border-radius:2px;box-shadow:0 0 0 1px rgba(0,0,0,.05)"></div><div class="abs" style="left:113.5px;top:14.5px;font-size:11px;line-height:14px;font-weight:700;color:#9a9a9a;letter-spacing:-.5px">日経比:</div><div class="abs" style="left:153px;top:8.5px;width:66px;height:26px;background:#f0f1ec;border-radius:2px"></div><div class="abs g" style="right:132px;top:8px;font-size:19px;line-height:26px;font-weight:700;letter-spacing:-.3px">+79</div><div class="abs g" style="left:224px;top:8.5px;width:59.5px;height:26px;background:#f0f1ec;border-radius:2px;box-shadow:0 0 0 1px rgba(0,0,0,.04);font-size:19px;line-height:26px;font-weight:700;text-align:center;letter-spacing:-.5px;white-space:nowrap"><span style="font-size:15px;position:relative;top:0;letter-spacing:-1.5px">▲</span>0.16<small style="font-size:10px">%</small></div><div class="hl h" style="font-size:11.5px;top:6.5px;right:6px;color:#a4a4a0">H:49,269</div><div class="hl lo" style="font-size:11.5px;top:23px;right:6px;color:#a4a4a0">L:49,125</div></div></div></div><div class="tbl r" style="left:992.2px;top:788px;height:252.5px"><div class="row" style="top:0.0px"><div class="dk"><div class="nm" style="font-size:12px;letter-spacing:-.3px;top:0px;left:3.5px">日本国債10年利回り</div><div class="sb">国債 債券</div><svg class="fl" viewBox="0 0 26 26"><circle cx="13" cy="13" r="12.7" fill="#fdfdfd"/><circle cx="12.9" cy="12.6" r="6.2" fill="#d03a28"/></svg><div class="tm">15:38</div></div><div class="mc"><svg width="80" height="39.3" viewBox="0 0 80 39.3" style="position:absolute;left:0;top:0"><rect width="80" height="39.3" fill="#fff"/><g stroke="#e9ede6" stroke-width="1"><path d="M10 0V35"/><path d="M20 0V35"/><path d="M30 0V35"/><path d="M40 0V35"/><path d="M50 0V35"/><path d="M60 0V35"/><path d="M70 0V35"/><path d="M0 6H80"/><path d="M0 12H80"/><path d="M0 18H80"/><path d="M0 24H80"/><path d="M0 30H80"/></g><defs><linearGradient id="bd" x1="0" y1="0" x2="0" y2="1"><stop offset="0" stop-color="#55b35d"/><stop offset="1" stop-color="#d9efd6"/></linearGradient></defs><path d="M1.0 30.0L1.0 22.0L3.0 20.5L5.0 19.0L7.0 19.5L9.0 17.0L11.0 16.0L13.0 16.3L15.0 14.5L17.0 14.0L19.0 13.0L21.0 12.5L23.0 12.8L25.0 12.0L27.0 11.8L29.0 11.5L30.0 11.3L30.0 30.0Z" fill="url(#bd)"/><rect x="0" y="33.5" width="80" height="1" fill="#f3c4c4"/><g fill="#c4c4c4"><rect x="1" y="36.3" width="4" height="1.2"/><rect x="13" y="36.3" width="3" height="1.2"/><rect x="26" y="36.3" width="3" height="1.2"/><rect x="38" y="36.3" width="3" height="1.2"/><rect x="51" y="36.3" width="3" height="1.2"/><rect x="62" y="36.3" width="6" height="1.2"/><rect x="75" y="36.3" width="4" height="1.2"/></g></svg></div><div class="wp"><div class="pr k">1.671</div><div class="ch g">+0.046</div><div class="pc  g"><i>▲</i>2.83<small>%</small></div><div class="hl h">H:1.674</div><div class="hl lo">L:1.631</div></div></div><div class="row" style="top:41.8px"><div class="dk"><div class="nm" style="">長期国債先物<span style="font-size:10px;letter-spacing:0;margin-left:4px">大取</span></div><svg class="fl" viewBox="0 0 26 26"><circle cx="13" cy="13" r="12.7" fill="#fdfdfd"/><circle cx="12.9" cy="12.6" r="6.2" fill="#d03a28"/></svg><div class="tm">15:02</div></div><div class="mc"><svg width="80" height="39.3" viewBox="0 0 80 39.3" style="position:absolute;left:0;top:0"><rect width="80" height="39.3" fill="#fff"/><g stroke="#ececec" stroke-width="1"><path d="M10 0V35"/><path d="M20 0V35"/><path d="M30 0V35"/><path d="M40 0V35"/><path d="M50 0V35"/><path d="M60 0V35"/><path d="M70 0V35"/></g><path d="M1 4L30 4L30 27.5L30.0 27.5L28.0 26.0L26.0 23.0L24.0 24.0L22.0 20.5L20.0 18.0L18.0 17.0L16.0 14.5L14.0 12.0L12.0 10.5L11.0 11.5L9.0 10.0L7.0 8.0L5.0 7.5L3.0 6.0L1.0 4.5Z" fill="#fbd7d5"/><path d="M1.0 4.5L3.0 6.0L5.0 7.5L7.0 8.0L9.0 10.0L11.0 11.5L12.0 10.5L14.0 12.0L16.0 14.5L18.0 17.0L20.0 18.0L22.0 20.5L24.0 24.0L26.0 23.0L28.0 26.0L30.0 27.5" fill="none" stroke="#e66a62" stroke-width="1"/><g fill="#c4c4c4"><rect x="1" y="36.3" width="10" height="1.2"/><rect x="19" y="36.3" width="3" height="1.2"/><rect x="29" y="36.3" width="3" height="1.2"/><rect x="39" y="36.3" width="3" height="1.2"/><rect x="49" y="36.3" width="3" height="1.2"/><rect x="56" y="36.3" width="7" height="1.2"/><rect x="68" y="36.3" width="4" height="1.2"/></g></svg></div><div class="wp"><div class="pr k">135.93</div><div class="ch r">-0.54</div><div class="pc l r"><i>▼</i>0.00<small>%</small></div><div class="hl h">H:136.56</div><div class="hl lo">L:135.89</div></div></div><div class="row" style="top:83.6px"><div class="dk"><div class="nm" style="">日経VI</div><div class="sb">恐怖指数</div><svg class="fl" viewBox="0 0 26 26"><defs><clipPath id="rc"><circle cx="13" cy="13" r="12.7"/></clipPath></defs><circle cx="13" cy="13" r="12.7" fill="#fff"/><g clip-path="url(#rc)"><path d="M7.3 24C8.2 20 9.8 17.5 11 15C10 11 10.4 6 12.6 3.4C14.4 1.4 17.8 1.3 19.8 3.2C22.3 5.6 22.2 10.5 22 13C22.6 15.5 24 17.5 26 19L26 26L7 26Z" fill="#222"/><ellipse cx="16" cy="9.8" rx="3.5" ry="4.2" fill="#fff"/><ellipse cx="14.5" cy="9.4" rx=".65" ry=".95" fill="#222"/><ellipse cx="17.6" cy="9.4" rx=".65" ry=".95" fill="#222"/><path d="M15 11.9Q16 12.7 17.2 11.9" fill="none" stroke="#e8c8c0" stroke-width=".5"/><path d="M4.6 6.3L11.2 13.9" stroke="#222" stroke-width="1.1"/><path d="M11.2 13.9L19.6 23.6" stroke="#fff" stroke-width=".9"/><path d="M4.6 6.3L1.5 11.8M6.9 9.6L2.3 16.4" stroke="#222" stroke-width="1"/></g></svg><div class="tm">15:37</div></div><div class="mc"><svg width="80" height="39.3" viewBox="0 0 80 39.3" style="position:absolute;left:0;top:0"><rect width="80" height="39.3" fill="#fff"/><rect x="0" y="2" width="80" height="14" fill="#f1f5ee"/><g stroke="#d5e6d0" stroke-width="1"><path d="M0 4.5H80"/><path d="M0 7.5H80"/><path d="M0 10.5H80"/><path d="M0 13.5H80"/></g><defs><linearGradient id="vi" x1="0" y1="0" x2="0" y2="1"><stop offset="0" stop-color="#f26a60"/><stop offset=".5" stop-color="#f03a32"/><stop offset="1" stop-color="#ee2a25"/></linearGradient></defs><rect x="0" y="16.3" width="80" height="1.4" fill="#8fa6dc"/><path d="M0 18.3H77.5V35L77.0 33.6L75.0 33.8L73.1 34.1L71.1 35.0L69.1 35.3L67.1 35.1L65.2 35.5L63.2 35.3L61.2 35.7L59.2 35.5L57.3 35.5L55.3 35.2L53.3 34.7L51.3 34.8L49.4 33.8L47.4 33.7L45.4 33.7L43.4 33.6L41.5 32.8L39.5 33.2L37.5 33.2L35.5 33.0L33.6 33.4L31.6 33.4L29.6 33.2L27.6 33.9L25.7 34.1L23.7 34.6L21.7 34.6L19.7 35.3L17.8 34.9L15.8 35.1L13.8 35.7L11.8 35.0L9.9 35.0L7.9 35.3L5.9 35.1L3.9 34.7L2.0 34.5L0.0 34.0Z" fill="url(#vi)"/></svg></div><div class="wp"><div class="pr k">31.08</div><div class="ch r">-4.45</div><div class="pc p r"><i>▼</i>12.52<small>%</small></div><div class="hl h">H:31.84</div><div class="hl lo">L:29.07</div></div></div><div class="row" style="top:125.4px"><div class="dk"><div class="nm" style="letter-spacing:.6px">NT倍率</div><div class="sb">NT倍率</div><svg class="fl" viewBox="0 0 26 26"><circle cx="13" cy="13" r="12.7" fill="#909090"/><circle cx="12.9" cy="12.6" r="6.2" fill="#8f4a3b"/></svg><div class="dt">10/20</div></div><div class="mc"><svg width="80" height="39.3" viewBox="0 0 80 39.3" style="position:absolute;left:0;top:0"><rect width="80" height="39.3" fill="#ebebea"/><path d="M0.0 26.0L0.0 17.7L2.0 18.6L4.0 19.9L6.0 20.0L8.0 19.0L10.0 17.5L12.0 15.3L14.0 14.2L16.0 12.7L18.0 11.3L20.0 8.7L22.0 9.0L24.0 8.6L26.0 9.5L28.0 9.3L30.0 8.3L32.0 9.6L34.0 9.5L36.0 9.0L38.0 8.9L40.0 8.2L42.0 7.9L44.0 8.6L46.0 9.7L48.0 9.8L50.0 9.8L52.0 9.4L54.0 10.0L56.0 9.9L58.0 10.4L60.0 8.1L62.0 8.2L64.0 7.9L66.0 8.1L68.0 7.7L70.0 7.4L72.0 8.4L74.0 8.3L76.0 8.0L78.0 7.8L80.0 7.2L80.0 26.0Z" fill="#c2e2bc"/><path d="M0.0 17.7L2.0 18.6L4.0 19.9L6.0 20.0L8.0 19.0L10.0 17.5L12.0 15.3L14.0 14.2L16.0 12.7L18.0 11.3L20.0 8.7L22.0 9.0L24.0 8.6L26.0 9.5L28.0 9.3L30.0 8.3L32.0 9.6L34.0 9.5L36.0 9.0L38.0 8.9L40.0 8.2L42.0 7.9L44.0 8.6L46.0 9.7L48.0 9.8L50.0 9.8L52.0 9.4L54.0 10.0L56.0 9.9L58.0 10.4L60.0 8.1L62.0 8.2L64.0 7.9L66.0 8.1L68.0 7.7L70.0 7.4L72.0 8.4L74.0 8.3L76.0 8.0L78.0 7.8L80.0 7.2" fill="none" stroke="#6cb56e" stroke-width="1"/><rect x="30.5" y="0" width="12" height="26" fill="#fff" opacity=".5"/><rect x="5" y="25.3" width="75" height="1.3" fill="#8fa6dc"/><g fill="#b9b9b9"><rect x="35" y="36" width="3" height="1.2"/><rect x="71" y="36" width="4" height="1.2"/></g></svg></div><div class="wp"><div class="pr ">15.14</div><div class="ch g">+0.13</div><div class="pc l g"><i>▲</i>0.87<small>%</small></div><div class="hl h">H:15.14</div><div class="hl lo">L:15.03</div></div></div><div class="row" style="top:167.2px"><div class="dk"><div class="nm" style="left:6px;font-size:15px;letter-spacing:-.35px">ドル建て日経平均</div><div class="sb">日経ドル</div><svg class="fl" viewBox="0 0 26 26"><circle cx="13" cy="13" r="12.7" fill="#909090"/><circle cx="12.9" cy="12.6" r="6.2" fill="#8f4a3b"/></svg><div class="dt">10/20</div></div><div class="mc"><svg width="80" height="39.3" viewBox="0 0 80 39.3" style="position:absolute;left:0;top:0"><defs><linearGradient id="g5" x1="0" y1="0" x2="0" y2="1"><stop offset="0" stop-color="#55aa58"/><stop offset="1" stop-color="#b9dfb4"/></linearGradient></defs><rect width="80" height="39.3" fill="#ebebea"/><path d="M0.0 25.7L0.0 20.2L2.0 19.5L4.0 18.6L6.0 17.4L8.0 16.9L10.0 15.3L12.0 14.4L14.0 13.6L16.0 12.4L18.0 12.4L20.0 12.4L22.0 11.4L24.0 11.2L26.0 11.6L28.0 10.6L30.0 10.4L32.0 11.0L34.0 10.0L36.0 9.8L38.0 10.0L40.0 9.4L42.0 9.8L44.0 10.1L46.0 9.1L48.0 9.7L50.0 9.7L52.0 9.5L54.0 9.2L56.0 9.1L58.0 9.4L60.0 9.2L62.0 9.1L64.0 8.7L66.0 8.1L68.0 8.3L70.0 8.9L72.0 8.6L74.0 8.4L76.0 8.6L78.0 8.5L80.0 8.0L80.0 25.7Z" fill="url(#g5)"/><rect x="31.5" y="0" width="11.5" height="26.2" fill="#fff" opacity=".55"/><rect x="0" y="25.2" width="80" height="1.2" fill="#7f9fd6"/><rect x="0" y="26.4" width="80" height="12.899999999999999" fill="#f1ebeb"/><g fill="#b9b9b9"><rect x="2" y="36" width="4" height="1.2"/><rect x="35" y="36" width="3" height="1.2"/><rect x="71" y="36" width="4" height="1.2"/></g></svg></div><div class="wp"><div class="pr ">326.62</div><div class="ch g">+11.34</div><div class="pc  g"><i>▲</i>3.60<small>%</small></div><div class="hl h">H:326.46</div><div class="hl lo">L:319.98</div></div></div><div class="row" style="top:209.0px"><div class="dk"><div class="nm" style="">東証REIT</div><svg class="fl" viewBox="0 0 26 26"><circle cx="13" cy="13" r="12.7" fill="#909090"/><circle cx="12.9" cy="12.6" r="6.2" fill="#8f4a3b"/></svg><div class="dt">10/20</div></div><div class="mc"><svg width="80" height="39.3" viewBox="0 0 80 39.3" style="position:absolute;left:0;top:0"><rect width="80" height="39.3" fill="#ebebea"/><rect x="0" y="18.4" width="80" height="23" fill="#f1eeec"/><path d="M0.0 17.4L0.0 10.6L2.0 9.0L4.0 10.5L6.0 14.0L7.7 17.4L7.7 17.4Z" fill="#a9d8a4"/><path d="M60.0 17.4L60.0 17.4L62.0 17.0L64.0 16.0L67.0 15.0L70.0 14.0L73.0 13.4L76.0 12.4L79.0 12.6L79.0 17.4Z" fill="#a9d8a4"/><path d="M7.7 17.4L7.7 17.4L8.0 18.0L10.0 19.5L12.0 21.5L14.0 22.8L15.0 23.6L17.0 21.8L19.0 22.4L21.0 21.0L23.0 21.4L25.0 20.0L27.0 20.3L29.0 19.3L31.0 19.7L33.0 18.8L36.0 19.0L40.0 18.7L43.0 19.3L46.0 18.6L50.0 18.3L54.0 18.0L58.0 17.8L60.0 17.4L60.0 17.4Z" fill="#f6cfca"/><path d="M0.0 10.6L2.0 9.0L4.0 10.5L6.0 14.0L7.7 17.4" fill="none" stroke="#5fae62" stroke-width="1"/><path d="M7.7 17.4L8.0 18.0L10.0 19.5L12.0 21.5L14.0 22.8L15.0 23.6L17.0 21.8L19.0 22.4L21.0 21.0L23.0 21.4L25.0 20.0L27.0 20.3L29.0 19.3L31.0 19.7L33.0 18.8L36.0 19.0L40.0 18.7L43.0 19.3L46.0 18.6L50.0 18.3L54.0 18.0L58.0 17.8L60.0 17.4" fill="none" stroke="#e66a62" stroke-width="1"/><path d="M60.0 17.4L62.0 17.0L64.0 16.0L67.0 15.0L70.0 14.0L73.0 13.4L76.0 12.4L79.0 12.6" fill="none" stroke="#5fae62" stroke-width="1"/><rect x="30.5" y="0" width="12" height="33" fill="#fff" opacity=".4"/><rect x="0" y="16.799999999999997" width="80" height="1.3" fill="#8fa6dc"/><g fill="#b9b9b9"><rect x="2" y="36" width="4" height="1.2"/><rect x="35" y="36" width="3" height="1.2"/><rect x="71" y="36" width="4" height="1.2"/></g></svg></div><div class="wp"><div class="pr ">1,947<small>.85</small></div><div class="ch g">+4<small>.22</small></div><div class="pc l g"><i>▲</i>0.22<small>%</small></div><div class="hl h">H:1,951<small>.54</small></div><div class="hl lo">L:1,935<small>.81</small></div></div></div></div><div class="abs" style="left:991.5px;top:788px;width:1.5px;height:254px;background:#000"></div></body></html>
